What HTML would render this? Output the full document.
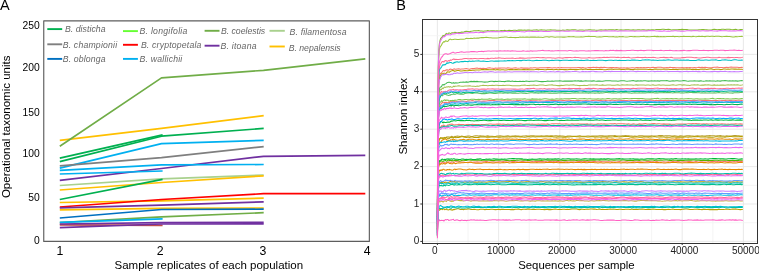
<!DOCTYPE html><html><head><meta charset="utf-8"><style>html,body{margin:0;padding:0;background:#fff;}svg{display:block;will-change:transform;font-family:"Liberation Sans",sans-serif;}</style></head><body>
<svg width="759" height="272" viewBox="0 0 759 272">
<rect width="759" height="272" fill="#fff"/>
<text x="-0.1" y="10.4" font-size="14.5" fill="#000">A</text>
<text x="396.3" y="10.4" font-size="14.5" fill="#000">B</text>
<rect x="43.75" y="20.8" width="325.6" height="220.6" fill="none" stroke="#5e5e5e" stroke-width="1.15" stroke-linejoin="round"/>
<path d="M59.8 185.5 L161.5 178.8 L263.7 175" fill="none" stroke="#A9D18E" stroke-width="1.7" stroke-linejoin="round"/>
<path d="M59.8 190 L161.5 182.5 L263.7 175.8" fill="none" stroke="#FFC000" stroke-width="1.7" stroke-linejoin="round"/>
<path d="M59.8 199.5 L162.6 179.3" fill="none" stroke="#00B050" stroke-width="1.7" stroke-linejoin="round"/>
<path d="M59.8 202.5 L161.5 200.8 L263.7 198.2" fill="none" stroke="#FFC000" stroke-width="1.7" stroke-linejoin="round"/>
<path d="M59.8 207 L161.5 199.5 L263.5 193.7 L365.3 193.7" fill="none" stroke="#FF0000" stroke-width="1.7" stroke-linejoin="round"/>
<path d="M59.8 207.8 L161.5 205.2 L263.7 201.8" fill="none" stroke="#7030A0" stroke-width="1.7" stroke-linejoin="round"/>
<path d="M59.8 209.8 L161.5 208.3 L263.7 208" fill="none" stroke="#FFC000" stroke-width="1.7" stroke-linejoin="round"/>
<path d="M59.8 218 L161.5 209.5 L263.7 209.2" fill="none" stroke="#0070C0" stroke-width="1.7" stroke-linejoin="round"/>
<path d="M59.8 222.5 L161.5 216.8 L263.7 212.7" fill="none" stroke="#70AD47" stroke-width="1.7" stroke-linejoin="round"/>
<path d="M59.8 222.4 L162.6 218.9" fill="none" stroke="#00B0F0" stroke-width="1.7" stroke-linejoin="round"/>
<path d="M59.8 224.9 L162.6 225.3" fill="none" stroke="#C0504D" stroke-width="1.7" stroke-linejoin="round"/>
<path d="M59.8 224 L161.5 222.6 L263.7 222.4" fill="none" stroke="#7030A0" stroke-width="1.7" stroke-linejoin="round"/>
<path d="M59.8 227.7 L161.5 224 L263.7 223.9" fill="none" stroke="#7030A0" stroke-width="1.7" stroke-linejoin="round"/>
<path d="M59.8 180.4 L161.5 168.5 L263.5 156.3 L365.3 155.3" fill="none" stroke="#7030A0" stroke-width="1.7" stroke-linejoin="round"/>
<path d="M59.8 174 L162.6 171" fill="none" stroke="#00B0F0" stroke-width="1.7" stroke-linejoin="round"/>
<path d="M59.8 170.3 L161.5 164.8 L263.7 164.5" fill="none" stroke="#00B0F0" stroke-width="1.7" stroke-linejoin="round"/>
<path d="M59.8 168.2 L161.5 143.7 L263.7 140.4" fill="none" stroke="#00B0F0" stroke-width="1.7" stroke-linejoin="round"/>
<path d="M59.8 165.8 L161.5 157.6 L263.7 146.6" fill="none" stroke="#7F7F7F" stroke-width="1.7" stroke-linejoin="round"/>
<path d="M59.8 158.2 L162.6 134.9" fill="none" stroke="#00B050" stroke-width="1.7" stroke-linejoin="round"/>
<path d="M59.8 161.6 L161.5 136.2 L263.7 128.4" fill="none" stroke="#00B050" stroke-width="1.7" stroke-linejoin="round"/>
<path d="M59.8 140.3 L161.5 128.4 L263.7 115.7" fill="none" stroke="#FFC000" stroke-width="1.7" stroke-linejoin="round"/>
<path d="M59.8 146.3 L161.5 77.9 L263.5 70.3 L365.3 58.8" fill="none" stroke="#70AD47" stroke-width="1.7" stroke-linejoin="round"/>
<text x="39.7" y="29.2" font-size="10.3" text-anchor="end" fill="#000">250</text>
<text x="39.7" y="71.1" font-size="10.3" text-anchor="end" fill="#000">200</text>
<text x="39.7" y="116" font-size="10.3" text-anchor="end" fill="#000">150</text>
<text x="39.7" y="157.1" font-size="10.3" text-anchor="end" fill="#000">100</text>
<text x="39.7" y="201.1" font-size="10.3" text-anchor="end" fill="#000">50</text>
<text x="39.7" y="243.8" font-size="10.3" text-anchor="end" fill="#000">0</text>
<text x="59.9" y="255" font-size="12.3" text-anchor="middle" fill="#000">1</text>
<text x="160.1" y="255" font-size="12.3" text-anchor="middle" fill="#000">2</text>
<text x="262.9" y="255" font-size="12.3" text-anchor="middle" fill="#000">3</text>
<text x="367.1" y="255" font-size="12.3" text-anchor="middle" fill="#000">4</text>
<text x="208.8" y="268.9" font-size="11.5" text-anchor="middle" fill="#000">Sample replicates of each population</text>
<text transform="translate(10.4 126.8) rotate(-90)" font-size="11.5" text-anchor="middle" fill="#000">Operational taxonomic units</text>
<line x1="47.3" y1="29.1" x2="62.2" y2="29.1" stroke="#00B050" stroke-width="1.9"/>
<text x="64.9" y="32.4" font-size="8.7" font-style="italic" fill="#666" textLength="40.7" lengthAdjust="spacing">B. disticha</text>
<line x1="123" y1="31.1" x2="137.9" y2="31.1" stroke="#66FF33" stroke-width="1.9"/>
<text x="139.6" y="34.4" font-size="8.7" font-style="italic" fill="#666" textLength="47.7" lengthAdjust="spacing">B. longifolia</text>
<line x1="204.6" y1="30.8" x2="219.5" y2="30.8" stroke="#70AD47" stroke-width="1.9"/>
<text x="220.89999999999998" y="34.1" font-size="8.7" font-style="italic" fill="#666" textLength="44.3" lengthAdjust="spacing">B. coelestis</text>
<line x1="269.5" y1="30.8" x2="284.8" y2="30.8" stroke="#A9D18E" stroke-width="1.9"/>
<text x="289.59999999999997" y="34.5" font-size="8.7" font-style="italic" fill="#666" textLength="56.9" lengthAdjust="spacing">B. filamentosa</text>
<line x1="47.3" y1="44.3" x2="62.2" y2="44.3" stroke="#7F7F7F" stroke-width="1.9"/>
<text x="62.7" y="47.6" font-size="8.7" font-style="italic" fill="#666" textLength="54.4" lengthAdjust="spacing">B. championii</text>
<line x1="123" y1="44.8" x2="137.9" y2="44.8" stroke="#FF0000" stroke-width="1.9"/>
<text x="140.89999999999998" y="48.1" font-size="8.7" font-style="italic" fill="#666" textLength="60.5" lengthAdjust="spacing">B. cryptopetala</text>
<line x1="204.6" y1="45.7" x2="219.5" y2="45.7" stroke="#7030A0" stroke-width="1.9"/>
<text x="220.39999999999998" y="49" font-size="8.7" font-style="italic" fill="#666" textLength="36.2" lengthAdjust="spacing">B. itoana</text>
<line x1="269.5" y1="46.5" x2="284.8" y2="46.5" stroke="#FFC000" stroke-width="1.9"/>
<text x="288.7" y="50.8" font-size="8.7" font-style="italic" fill="#666" textLength="52" lengthAdjust="spacing">B. nepalensis</text>
<line x1="47.3" y1="58.9" x2="62.2" y2="58.9" stroke="#0070C0" stroke-width="1.9"/>
<text x="62.7" y="62.2" font-size="8.7" font-style="italic" fill="#666" textLength="42.9" lengthAdjust="spacing">B. oblonga</text>
<line x1="123" y1="58.9" x2="137.9" y2="58.9" stroke="#00B0F0" stroke-width="1.9"/>
<text x="139.6" y="62.2" font-size="8.7" font-style="italic" fill="#666" textLength="42.7" lengthAdjust="spacing">B. wallichii</text>
<line x1="437.4" y1="20" x2="437.4" y2="243" stroke="#e3e3e3" stroke-width="0.8"/>
<line x1="468" y1="20" x2="468" y2="243" stroke="#f1f1f1" stroke-width="0.8"/>
<line x1="498.6" y1="20" x2="498.6" y2="243" stroke="#e3e3e3" stroke-width="0.8"/>
<line x1="529.2" y1="20" x2="529.2" y2="243" stroke="#f1f1f1" stroke-width="0.8"/>
<line x1="559.8" y1="20" x2="559.8" y2="243" stroke="#e3e3e3" stroke-width="0.8"/>
<line x1="590.4" y1="20" x2="590.4" y2="243" stroke="#f1f1f1" stroke-width="0.8"/>
<line x1="621" y1="20" x2="621" y2="243" stroke="#e3e3e3" stroke-width="0.8"/>
<line x1="651.6" y1="20" x2="651.6" y2="243" stroke="#f1f1f1" stroke-width="0.8"/>
<line x1="682.2" y1="20" x2="682.2" y2="243" stroke="#e3e3e3" stroke-width="0.8"/>
<line x1="712.8" y1="20" x2="712.8" y2="243" stroke="#f1f1f1" stroke-width="0.8"/>
<line x1="743.4" y1="20" x2="743.4" y2="243" stroke="#e3e3e3" stroke-width="0.8"/>
<line x1="422" y1="241.4" x2="757.5" y2="241.4" stroke="#e3e3e3" stroke-width="0.8"/>
<line x1="422" y1="222.7" x2="757.5" y2="222.7" stroke="#f1f1f1" stroke-width="0.8"/>
<line x1="422" y1="204" x2="757.5" y2="204" stroke="#e3e3e3" stroke-width="0.8"/>
<line x1="422" y1="185.3" x2="757.5" y2="185.3" stroke="#f1f1f1" stroke-width="0.8"/>
<line x1="422" y1="166.6" x2="757.5" y2="166.6" stroke="#e3e3e3" stroke-width="0.8"/>
<line x1="422" y1="147.9" x2="757.5" y2="147.9" stroke="#f1f1f1" stroke-width="0.8"/>
<line x1="422" y1="129.2" x2="757.5" y2="129.2" stroke="#e3e3e3" stroke-width="0.8"/>
<line x1="422" y1="110.5" x2="757.5" y2="110.5" stroke="#f1f1f1" stroke-width="0.8"/>
<line x1="422" y1="91.8" x2="757.5" y2="91.8" stroke="#e3e3e3" stroke-width="0.8"/>
<line x1="422" y1="73.1" x2="757.5" y2="73.1" stroke="#f1f1f1" stroke-width="0.8"/>
<line x1="422" y1="54.4" x2="757.5" y2="54.4" stroke="#e3e3e3" stroke-width="0.8"/>
<line x1="422" y1="35.7" x2="757.5" y2="35.7" stroke="#f1f1f1" stroke-width="0.8"/>
<path d="M437.4 216.7 L437.5 194.9 L437.6 162.9 L437.8 129.6 L438 103.9 L438.3 84.9 L438.8 72.8 L439.3 67.9 L440 64.8 L440.7 63.8 L441.5 62.4 L442.3 61.6 L443.1 61.5 L443.9 62 L444.7 61 L445.5 60.6 L446.3 60.8 L447.1 61.3 L447.9 61 L448.7 60.6 L449.5 61 L450.3 60 L451.1 60.4 L451.9 59.9 L452.7 59.4 L453.4 59.1 L454.2 59.1 L455 59.7 L455.7 59.2 L457.2 59.4 L458.8 59.4 L460.3 59.2 L461.8 59.2 L463.4 58.7 L464.9 58.4 L466.4 58.4 L468 58.7 L469.5 58.7 L471 58.6 L472.5 58.7 L474.1 58.6 L475.6 58.5 L477.1 58.7 L478.7 58.7 L480.2 58.5 L481.7 58.5 L483.3 58.5 L484.8 58.7 L486.3 58.7 L487.8 58.4 L489.4 58.7 L490.9 58.3 L492.4 58.2 L494 58.4 L495.5 58.1 L497 58.2 L498.6 57.9 L500.1 58.1 L501.6 58.3 L503.2 58.3 L504.7 58.4 L506.2 58.2 L507.7 58.3 L509.3 58.2 L510.8 58.2 L512.3 58.1 L513.9 58.3 L515.4 58.4 L516.9 58.2 L518.5 58.2 L520 57.9 L521.5 58.1 L523 58.1 L524.6 58.3 L526.1 58.3 L527.6 58.1 L529.2 58 L530.7 58 L532.2 57.8 L533.8 57.8 L535.3 57.7 L536.8 57.6 L538.3 57.5 L539.9 57.8 L541.4 57.7 L542.9 57.6 L544.5 57.7 L546 58 L547.5 57.7 L549.1 57.7 L550.6 57.8 L552.1 58 L553.6 58.1 L555.2 58.2 L556.7 57.9 L558.2 57.8 L559.8 57.7 L561.3 58 L562.8 58.1 L564.4 57.8 L565.9 57.6 L567.4 57.6 L569 57.5 L570.5 57.6 L572 57.7 L573.5 57.6 L575.1 57.4 L576.6 57.5 L578.1 57.6 L579.7 57.7 L581.2 57.9 L582.7 57.9 L584.3 57.9 L585.8 57.9 L587.3 57.9 L588.8 57.6 L590.4 57.8 L591.9 57.9 L593.4 58 L595 58 L596.5 57.8 L598 57.7 L599.6 57.5 L601.1 57.7 L602.6 57.5 L604.1 57.3 L605.7 57.4 L607.2 57.3 L608.7 57.4 L610.3 57.3 L611.8 57.2 L613.3 57.2 L614.9 57.2 L616.4 57.4 L617.9 57.3 L619.4 57.6 L621 57.7 L622.5 57.5 L624 57.4 L625.6 57.5 L627.1 57.5 L628.6 57.4 L630.2 57.7 L631.7 57.9 L633.2 57.8 L634.8 57.7 L636.3 57.5 L637.8 57.3 L639.3 57.4 L640.9 57.4 L642.4 57.6 L643.9 57.5 L645.5 57.3 L647 57.7 L648.5 57.6 L650.1 57.5 L651.6 57.5 L653.1 57.3 L654.6 57.5 L656.2 57.8 L657.7 57.9 L659.2 57.8 L660.8 57.6 L662.3 57.5 L663.8 57.4 L665.4 57.6 L666.9 57.6 L668.4 57.7 L669.9 57.6 L671.5 57.4 L673 57.7 L674.5 57.9 L676.1 57.9 L677.6 57.9 L679.1 57.9 L680.7 57.9 L682.2 57.6 L683.7 57.6 L685.3 57.5 L686.8 57.3 L688.3 57.2 L689.8 57.2 L691.4 57.3 L692.9 57.5 L694.4 57.7 L696 57.6 L697.5 57.8 L699 57.9 L700.6 58 L702.1 57.7 L703.6 57.5 L705.1 57.4 L706.7 57.3 L708.2 57.3 L709.7 57.4 L711.3 57.7 L712.8 57.8 L714.3 57.7 L715.9 57.7 L717.4 57.8 L718.9 57.4 L720.4 57.6 L722 57.7 L723.5 57.8 L725 57.8 L726.6 57.7 L728.1 57.4 L729.6 57.6 L731.2 57.5 L732.7 57.6 L734.2 57.8 L735.7 57.6 L737.3 57.5 L738.8 57.7 L740.3 57.7 L741.9 57.5 L742.8 57.3" fill="none" stroke="#FF6C91" stroke-width="1.05"/>
<path d="M437.4 220.2 L437.5 202.7 L437.6 175.1 L437.8 146.2 L438 124.9 L438.3 110.2 L438.8 100.9 L439.3 96.1 L440 94.3 L440.7 92.6 L441.5 91.4 L442.3 92.2 L443.1 92 L443.9 91.6 L444.7 91.9 L445.5 91.3 L446.3 91.5 L447.1 91.5 L447.9 90.6 L448.7 90.2 L449.5 89.9 L450.3 89.7 L451.1 90 L451.9 89.7 L452.7 89.7 L453.4 89.4 L454.2 90.1 L455 89.8 L455.7 89.8 L457.2 89.8 L458.8 90.1 L460.3 89.8 L461.8 90 L463.4 89.8 L464.9 89.6 L466.4 89.5 L468 89.1 L469.5 89.1 L471 89 L472.5 88.7 L474.1 89.2 L475.6 89 L477.1 89 L478.7 89.2 L480.2 89.2 L481.7 89.1 L483.3 89.1 L484.8 89.1 L486.3 89.3 L487.8 88.9 L489.4 89 L490.9 88.9 L492.4 88.8 L494 89.1 L495.5 89 L497 89 L498.6 89.1 L500.1 89.3 L501.6 89.1 L503.2 89.1 L504.7 89 L506.2 89 L507.7 89 L509.3 89 L510.8 88.9 L512.3 88.9 L513.9 89.1 L515.4 89.1 L516.9 89.2 L518.5 89.3 L520 88.9 L521.5 88.9 L523 89.1 L524.6 89.2 L526.1 88.8 L527.6 88.6 L529.2 88.7 L530.7 88.5 L532.2 88.5 L533.8 88.4 L535.3 88.7 L536.8 88.9 L538.3 89 L539.9 88.7 L541.4 88.8 L542.9 88.9 L544.5 88.6 L546 88.9 L547.5 89.1 L549.1 88.8 L550.6 89 L552.1 88.8 L553.6 88.8 L555.2 89 L556.7 89 L558.2 88.7 L559.8 88.7 L561.3 88.7 L562.8 88.6 L564.4 88.5 L565.9 88.5 L567.4 88.7 L569 88.4 L570.5 88.6 L572 88.6 L573.5 88.4 L575.1 88.4 L576.6 88.6 L578.1 88.6 L579.7 88.4 L581.2 88.8 L582.7 88.9 L584.3 89 L585.8 88.6 L587.3 88.5 L588.8 88.4 L590.4 88.6 L591.9 88.5 L593.4 88.4 L595 88.5 L596.5 88.7 L598 88.9 L599.6 88.6 L601.1 88.5 L602.6 88.7 L604.1 88.7 L605.7 88.8 L607.2 88.5 L608.7 88.3 L610.3 88.6 L611.8 88.5 L613.3 88.4 L614.9 88.7 L616.4 88.7 L617.9 88.8 L619.4 88.5 L621 88.7 L622.5 88.5 L624 88.7 L625.6 88.6 L627.1 88.5 L628.6 88.6 L630.2 88.8 L631.7 88.6 L633.2 88.4 L634.8 88.5 L636.3 88.4 L637.8 88.3 L639.3 88.2 L640.9 88.2 L642.4 88.2 L643.9 88.3 L645.5 88.3 L647 88.6 L648.5 88.5 L650.1 88.5 L651.6 88.4 L653.1 88.4 L654.6 88.2 L656.2 88.2 L657.7 88.1 L659.2 88.4 L660.8 88.5 L662.3 88.4 L663.8 88.4 L665.4 88.7 L666.9 88.4 L668.4 88.7 L669.9 88.6 L671.5 88.6 L673 88.7 L674.5 88.6 L676.1 88.6 L677.6 88.7 L679.1 88.8 L680.7 88.6 L682.2 88.8 L683.7 88.8 L685.3 88.7 L686.8 88.6 L688.3 88.5 L689.8 88.3 L691.4 88.2 L692.9 88.1 L694.4 88.4 L696 88.4 L697.5 88.3 L699 88.2 L700.6 88.5 L702.1 88.7 L703.6 88.7 L705.1 88.5 L706.7 88.4 L708.2 88.3 L709.7 88.4 L711.3 88.3 L712.8 88.4 L714.3 88.3 L715.9 88.6 L717.4 88.8 L718.9 88.7 L720.4 88.5 L722 88.7 L723.5 88.5 L725 88.5 L726.6 88.2 L728.1 88.3 L729.6 88.4 L731.2 88.4 L732.7 88.3 L734.2 88.4 L735.7 88.2 L737.3 88.2 L738.8 88.1 L740.3 88.3 L741.9 88.1 L742.8 88.1" fill="none" stroke="#FF6C91" stroke-width="1.05"/>
<path d="M437.4 231.5 L437.5 222.4 L437.6 209.7 L437.8 196.9 L438 187.4 L438.3 181.3 L438.8 178 L439.3 177 L440 175.9 L440.7 175.2 L441.5 176 L442.3 175 L443.1 175.3 L443.9 175.4 L444.7 174.5 L445.5 175.2 L446.3 175.6 L447.1 175.5 L447.9 175.5 L448.7 175.6 L449.5 174.8 L450.3 174.9 L451.1 174.9 L451.9 175.2 L452.7 175.4 L453.4 175.5 L454.2 175.3 L455 175.5 L455.7 175.4 L457.2 175.3 L458.8 174.8 L460.3 174.3 L461.8 174.2 L463.4 174.3 L464.9 174.2 L466.4 174.7 L468 174.8 L469.5 174.8 L471 174.9 L472.5 174.9 L474.1 174.8 L475.6 174.4 L477.1 174.8 L478.7 174.9 L480.2 174.8 L481.7 174.8 L483.3 174.8 L484.8 174.5 L486.3 174.7 L487.8 174.6 L489.4 174.4 L490.9 174.4 L492.4 174.6 L494 174.5 L495.5 174.7 L497 175 L498.6 174.8 L500.1 174.7 L501.6 174.7 L503.2 174.8 L504.7 174.9 L506.2 174.8 L507.7 174.8 L509.3 174.5 L510.8 174.4 L512.3 174.4 L513.9 174.6 L515.4 174.5 L516.9 174.6 L518.5 174.4 L520 174.3 L521.5 174.3 L523 174.6 L524.6 174.7 L526.1 174.8 L527.6 174.6 L529.2 174.6 L530.7 174.6 L532.2 174.6 L533.8 174.4 L535.3 174.7 L536.8 174.5 L538.3 174.8 L539.9 175 L541.4 174.6 L542.9 174.6 L544.5 174.8 L546 174.9 L547.5 174.8 L549.1 174.6 L550.6 174.5 L552.1 174.8 L553.6 174.6 L555.2 174.6 L556.7 174.5 L558.2 174.5 L559.8 174.8 L561.3 174.5 L562.8 174.7 L564.4 174.7 L565.9 174.9 L567.4 174.9 L569 174.6 L570.5 174.8 L572 174.7 L573.5 174.4 L575.1 174.3 L576.6 174.4 L578.1 174.5 L579.7 174.5 L581.2 174.3 L582.7 174.4 L584.3 174.4 L585.8 174.7 L587.3 174.4 L588.8 174.6 L590.4 174.8 L591.9 174.5 L593.4 174.8 L595 174.8 L596.5 174.9 L598 174.7 L599.6 174.6 L601.1 174.6 L602.6 174.8 L604.1 174.8 L605.7 174.6 L607.2 174.6 L608.7 174.5 L610.3 174.3 L611.8 174.3 L613.3 174.6 L614.9 174.5 L616.4 174.8 L617.9 174.6 L619.4 174.5 L621 174.5 L622.5 174.4 L624 174.4 L625.6 174.7 L627.1 174.9 L628.6 174.9 L630.2 174.8 L631.7 174.9 L633.2 175 L634.8 174.9 L636.3 174.9 L637.8 174.5 L639.3 174.7 L640.9 174.6 L642.4 174.7 L643.9 174.8 L645.5 174.6 L647 174.4 L648.5 174.7 L650.1 174.5 L651.6 174.5 L653.1 174.5 L654.6 174.4 L656.2 174.6 L657.7 174.9 L659.2 174.6 L660.8 174.7 L662.3 174.6 L663.8 174.6 L665.4 174.6 L666.9 174.4 L668.4 174.3 L669.9 174.3 L671.5 174.6 L673 174.6 L674.5 174.5 L676.1 174.7 L677.6 174.9 L679.1 174.8 L680.7 174.5 L682.2 174.4 L683.7 174.3 L685.3 174.4 L686.8 174.3 L688.3 174.3 L689.8 174.3 L691.4 174.5 L692.9 174.7 L694.4 174.8 L696 174.7 L697.5 174.6 L699 174.6 L700.6 174.5 L702.1 174.5 L703.6 174.3 L705.1 174.3 L706.7 174.7 L708.2 174.5 L709.7 174.5 L711.3 174.6 L712.8 174.8 L714.3 174.6 L715.9 174.5 L717.4 174.4 L718.9 174.4 L720.4 174.5 L722 174.8 L723.5 174.9 L725 174.9 L726.6 174.5 L728.1 174.3 L729.6 174.6 L731.2 174.8 L732.7 174.7 L734.2 174.7 L735.7 174.4 L737.3 174.4 L738.8 174.7 L740.3 174.8 L741.9 174.9 L742.8 175" fill="none" stroke="#FF6C91" stroke-width="1.05"/>
<path d="M437.4 234.7 L437.5 228.1 L437.6 219 L437.8 210.9 L438 204.9 L438.3 201.7 L438.8 199.5 L439.3 198.6 L440 198.4 L440.7 197.9 L441.5 197.7 L442.3 196.8 L443.1 197.5 L443.9 197 L444.7 197.8 L445.5 197.8 L446.3 197.3 L447.1 196.8 L447.9 196.7 L448.7 197.1 L449.5 197.5 L450.3 196.9 L451.1 196.6 L451.9 196.9 L452.7 197.2 L453.4 197.1 L454.2 196.9 L455 197.2 L455.7 196.7 L457.2 196.8 L458.8 196.9 L460.3 197.5 L461.8 197.5 L463.4 197.7 L464.9 197.5 L466.4 197.2 L468 197 L469.5 197.5 L471 197.5 L472.5 197.3 L474.1 196.9 L475.6 197.1 L477.1 197.3 L478.7 197.2 L480.2 197.1 L481.7 197.2 L483.3 197.5 L484.8 197.2 L486.3 196.9 L487.8 197 L489.4 197 L490.9 197.2 L492.4 197.1 L494 197.3 L495.5 197.4 L497 197.3 L498.6 197.1 L500.1 197.4 L501.6 197.2 L503.2 197.4 L504.7 197.2 L506.2 197 L507.7 197.3 L509.3 197.1 L510.8 197.4 L512.3 197.3 L513.9 197.1 L515.4 197 L516.9 197.1 L518.5 197.2 L520 197.5 L521.5 197.2 L523 197.1 L524.6 197 L526.1 197.4 L527.6 197.1 L529.2 196.9 L530.7 196.8 L532.2 197 L533.8 197.3 L535.3 197.4 L536.8 197.5 L538.3 197.6 L539.9 197.6 L541.4 197.4 L542.9 197.1 L544.5 197.4 L546 197.4 L547.5 197.1 L549.1 197.2 L550.6 197.2 L552.1 197.1 L553.6 197.1 L555.2 197 L556.7 196.8 L558.2 196.9 L559.8 197 L561.3 197.3 L562.8 197.1 L564.4 197.4 L565.9 197.2 L567.4 197.1 L569 197.3 L570.5 197.4 L572 197.3 L573.5 197 L575.1 197.1 L576.6 197.1 L578.1 197.4 L579.7 197.1 L581.2 197.1 L582.7 197.3 L584.3 197.1 L585.8 197.1 L587.3 197.3 L588.8 197.4 L590.4 197.1 L591.9 196.9 L593.4 196.8 L595 197.2 L596.5 197.1 L598 197.3 L599.6 197.4 L601.1 197.3 L602.6 197.1 L604.1 197.4 L605.7 197.4 L607.2 197.2 L608.7 197.3 L610.3 197.2 L611.8 197.1 L613.3 196.9 L614.9 197.2 L616.4 197.4 L617.9 197.4 L619.4 197.5 L621 197.1 L622.5 197 L624 197.1 L625.6 197.4 L627.1 197.5 L628.6 197.3 L630.2 197.1 L631.7 197.1 L633.2 197.2 L634.8 197.4 L636.3 197.2 L637.8 197.3 L639.3 197.4 L640.9 197.5 L642.4 197.5 L643.9 197.4 L645.5 197.2 L647 197.1 L648.5 197.1 L650.1 197.3 L651.6 197 L653.1 197 L654.6 197.2 L656.2 197.1 L657.7 196.9 L659.2 196.8 L660.8 197 L662.3 197 L663.8 197.3 L665.4 197.5 L666.9 197.6 L668.4 197.3 L669.9 197 L671.5 196.9 L673 197 L674.5 197.2 L676.1 197.2 L677.6 197.1 L679.1 197.1 L680.7 197.2 L682.2 197.3 L683.7 197.4 L685.3 197.5 L686.8 197.4 L688.3 197.1 L689.8 197.3 L691.4 197.2 L692.9 197.2 L694.4 197.1 L696 197.3 L697.5 197.1 L699 197 L700.6 197 L702.1 196.9 L703.6 197.2 L705.1 197.3 L706.7 197.1 L708.2 197.1 L709.7 197.4 L711.3 197.3 L712.8 197.1 L714.3 197.3 L715.9 197.3 L717.4 197.5 L718.9 197.2 L720.4 197.2 L722 197.3 L723.5 197.5 L725 197.5 L726.6 197.2 L728.1 197.1 L729.6 196.9 L731.2 196.9 L732.7 197.3 L734.2 197.3 L735.7 197.5 L737.3 197.3 L738.8 197.4 L740.3 197.3 L741.9 197.1 L742.8 197.3" fill="none" stroke="#FF6C91" stroke-width="1.05"/>
<path d="M437.4 217.8 L437.5 197.5 L437.6 166.6 L437.8 135.8 L438 110.2 L438.3 92.4 L438.8 81.3 L439.3 76.2 L440 73.9 L440.7 73.3 L441.5 72.9 L442.3 71.8 L443.1 70.7 L443.9 70.6 L444.7 70.9 L445.5 70.3 L446.3 70 L447.1 69.7 L447.9 70.3 L448.7 70.2 L449.5 69.5 L450.3 69.1 L451.1 69.2 L451.9 69.4 L452.7 69.6 L453.4 69.1 L454.2 68.8 L455 69.2 L455.7 69.2 L457.2 68.9 L458.8 68.8 L460.3 69.3 L461.8 68.9 L463.4 68.9 L464.9 68.7 L466.4 68.6 L468 68.9 L469.5 69.2 L471 68.8 L472.5 68.5 L474.1 68.6 L475.6 68.3 L477.1 68 L478.7 68.5 L480.2 68.4 L481.7 68.6 L483.3 68.4 L484.8 68.6 L486.3 68.4 L487.8 68.1 L489.4 67.9 L490.9 68.1 L492.4 68.2 L494 68.4 L495.5 68.1 L497 68.2 L498.6 68.1 L500.1 68.1 L501.6 67.9 L503.2 67.9 L504.7 68 L506.2 68.2 L507.7 67.9 L509.3 68 L510.8 68.2 L512.3 68.3 L513.9 68 L515.4 67.8 L516.9 68.1 L518.5 68.3 L520 68.1 L521.5 67.8 L523 68.1 L524.6 68 L526.1 68.1 L527.6 68.1 L529.2 68.2 L530.7 67.9 L532.2 68 L533.8 67.8 L535.3 67.8 L536.8 68 L538.3 68.1 L539.9 67.8 L541.4 67.7 L542.9 67.7 L544.5 67.8 L546 67.7 L547.5 67.6 L549.1 67.6 L550.6 67.8 L552.1 68 L553.6 67.7 L555.2 67.8 L556.7 67.9 L558.2 67.6 L559.8 67.9 L561.3 67.6 L562.8 67.7 L564.4 67.8 L565.9 67.8 L567.4 67.7 L569 67.7 L570.5 67.8 L572 67.7 L573.5 67.8 L575.1 67.7 L576.6 67.7 L578.1 67.5 L579.7 67.6 L581.2 67.7 L582.7 67.6 L584.3 67.8 L585.8 67.9 L587.3 67.8 L588.8 67.6 L590.4 67.6 L591.9 67.5 L593.4 67.4 L595 67.5 L596.5 67.4 L598 67.5 L599.6 67.6 L601.1 67.4 L602.6 67.6 L604.1 67.4 L605.7 67.6 L607.2 67.8 L608.7 67.7 L610.3 67.5 L611.8 67.6 L613.3 67.5 L614.9 67.8 L616.4 67.6 L617.9 67.8 L619.4 68 L621 67.9 L622.5 68 L624 67.7 L625.6 67.9 L627.1 67.8 L628.6 67.9 L630.2 68 L631.7 67.7 L633.2 67.8 L634.8 67.9 L636.3 67.6 L637.8 67.5 L639.3 67.7 L640.9 67.5 L642.4 67.7 L643.9 67.6 L645.5 67.7 L647 67.5 L648.5 67.5 L650.1 67.8 L651.6 67.5 L653.1 67.4 L654.6 67.5 L656.2 67.5 L657.7 67.3 L659.2 67.3 L660.8 67.2 L662.3 67.6 L663.8 67.7 L665.4 67.8 L666.9 67.5 L668.4 67.7 L669.9 67.4 L671.5 67.5 L673 67.6 L674.5 67.5 L676.1 67.7 L677.6 67.7 L679.1 67.7 L680.7 67.8 L682.2 67.5 L683.7 67.8 L685.3 67.7 L686.8 67.6 L688.3 67.7 L689.8 67.5 L691.4 67.8 L692.9 67.7 L694.4 67.6 L696 67.7 L697.5 67.6 L699 67.4 L700.6 67.6 L702.1 67.3 L703.6 67.6 L705.1 67.4 L706.7 67.5 L708.2 67.8 L709.7 67.7 L711.3 67.7 L712.8 67.5 L714.3 67.3 L715.9 67.2 L717.4 67.1 L718.9 67.4 L720.4 67.4 L722 67.5 L723.5 67.7 L725 67.4 L726.6 67.3 L728.1 67.5 L729.6 67.3 L731.2 67.1 L732.7 67.2 L734.2 67.2 L735.7 67.2 L737.3 67.2 L738.8 67.4 L740.3 67.5 L741.9 67.3 L742.8 67.5" fill="none" stroke="#F8766D" stroke-width="1.05"/>
<path d="M437.4 221.7 L437.5 204.2 L437.6 179.3 L437.8 152.6 L438 131.6 L438.3 117.2 L438.8 109.8 L439.3 107 L440 105.8 L440.7 104.5 L441.5 103.4 L442.3 102.4 L443.1 102.7 L443.9 102.7 L444.7 102.4 L445.5 102.5 L446.3 102.3 L447.1 102.8 L447.9 102.7 L448.7 102 L449.5 102.5 L450.3 101.6 L451.1 101.7 L451.9 101.6 L452.7 101.3 L453.4 100.9 L454.2 101.5 L455 101 L455.7 101.3 L457.2 101.8 L458.8 101.2 L460.3 101 L461.8 101.2 L463.4 101.2 L464.9 101.3 L466.4 101.5 L468 101.1 L469.5 100.9 L471 100.8 L472.5 100.6 L474.1 101.1 L475.6 101.2 L477.1 101.3 L478.7 100.8 L480.2 101.1 L481.7 101.2 L483.3 101 L484.8 101.1 L486.3 101 L487.8 100.8 L489.4 100.6 L490.9 100.5 L492.4 100.4 L494 100.5 L495.5 100.8 L497 100.9 L498.6 101 L500.1 101 L501.6 100.8 L503.2 100.8 L504.7 100.7 L506.2 100.9 L507.7 100.8 L509.3 100.7 L510.8 100.8 L512.3 101 L513.9 100.7 L515.4 100.9 L516.9 100.6 L518.5 100.5 L520 100.4 L521.5 100.7 L523 100.9 L524.6 100.9 L526.1 100.7 L527.6 100.9 L529.2 100.7 L530.7 100.5 L532.2 100.8 L533.8 100.8 L535.3 100.8 L536.8 100.8 L538.3 101 L539.9 100.8 L541.4 100.9 L542.9 100.9 L544.5 100.9 L546 100.7 L547.5 100.8 L549.1 100.7 L550.6 100.6 L552.1 100.4 L553.6 100.6 L555.2 100.4 L556.7 100.7 L558.2 100.4 L559.8 100.3 L561.3 100.2 L562.8 100.6 L564.4 100.5 L565.9 100.3 L567.4 100.2 L569 100.1 L570.5 100.4 L572 100.5 L573.5 100.6 L575.1 100.7 L576.6 100.4 L578.1 100.5 L579.7 100.5 L581.2 100.7 L582.7 100.8 L584.3 100.8 L585.8 100.5 L587.3 100.7 L588.8 100.8 L590.4 100.9 L591.9 100.5 L593.4 100.4 L595 100.2 L596.5 100.1 L598 100.5 L599.6 100.6 L601.1 100.6 L602.6 100.7 L604.1 100.7 L605.7 100.5 L607.2 100.3 L608.7 100.2 L610.3 100.5 L611.8 100.3 L613.3 100.3 L614.9 100.4 L616.4 100.2 L617.9 100.2 L619.4 100.2 L621 100.4 L622.5 100.4 L624 100.3 L625.6 100.6 L627.1 100.6 L628.6 100.7 L630.2 100.7 L631.7 100.3 L633.2 100.4 L634.8 100.4 L636.3 100.6 L637.8 100.4 L639.3 100.6 L640.9 100.5 L642.4 100.4 L643.9 100.6 L645.5 100.3 L647 100.5 L648.5 100.3 L650.1 100.1 L651.6 100.1 L653.1 100.4 L654.6 100.7 L656.2 100.3 L657.7 100.4 L659.2 100.4 L660.8 100.6 L662.3 100.4 L663.8 100.4 L665.4 100.3 L666.9 100.6 L668.4 100.4 L669.9 100.6 L671.5 100.4 L673 100.3 L674.5 100.5 L676.1 100.4 L677.6 100.2 L679.1 100.4 L680.7 100.2 L682.2 100.5 L683.7 100.5 L685.3 100.6 L686.8 100.6 L688.3 100.5 L689.8 100.4 L691.4 100.4 L692.9 100.6 L694.4 100.3 L696 100.6 L697.5 100.3 L699 100.2 L700.6 100.2 L702.1 100.5 L703.6 100.5 L705.1 100.4 L706.7 100.6 L708.2 100.4 L709.7 100.4 L711.3 100.4 L712.8 100.5 L714.3 100.6 L715.9 100.6 L717.4 100.4 L718.9 100.3 L720.4 100.2 L722 100.5 L723.5 100.5 L725 100.6 L726.6 100.3 L728.1 100.3 L729.6 100.5 L731.2 100.5 L732.7 100.3 L734.2 100.3 L735.7 100.5 L737.3 100.3 L738.8 100.2 L740.3 100.2 L741.9 100.4 L742.8 100.6" fill="none" stroke="#F8766D" stroke-width="1.05"/>
<path d="M437.4 224.6 L437.5 209.3 L437.6 187.1 L437.8 165.2 L438 148.4 L438.3 136.5 L438.8 130.1 L439.3 127.1 L440 127.3 L440.7 127 L441.5 125.7 L442.3 126.4 L443.1 125.3 L443.9 125.1 L444.7 125.9 L445.5 126 L446.3 125.9 L447.1 125.4 L447.9 124.8 L448.7 125 L449.5 124.4 L450.3 124.2 L451.1 124.3 L451.9 124 L452.7 124.2 L453.4 124.7 L454.2 124.9 L455 124.8 L455.7 124.8 L457.2 124.7 L458.8 124.3 L460.3 124.4 L461.8 124.4 L463.4 124.6 L464.9 124.9 L466.4 124.6 L468 124.5 L469.5 124.6 L471 124.4 L472.5 124.2 L474.1 124.4 L475.6 124.6 L477.1 124.6 L478.7 124.6 L480.2 124.7 L481.7 124.6 L483.3 124.5 L484.8 124.4 L486.3 124.2 L487.8 124.3 L489.4 124 L490.9 124 L492.4 124.3 L494 124.3 L495.5 124.3 L497 124.1 L498.6 124.1 L500.1 124.1 L501.6 124.2 L503.2 124.1 L504.7 124.2 L506.2 124.4 L507.7 124.1 L509.3 124.2 L510.8 124.3 L512.3 124.2 L513.9 124.1 L515.4 124.4 L516.9 124 L518.5 124.1 L520 123.9 L521.5 124.1 L523 124.3 L524.6 124.2 L526.1 124 L527.6 124 L529.2 124.1 L530.7 124.2 L532.2 124.1 L533.8 124.2 L535.3 124.3 L536.8 124.2 L538.3 124.1 L539.9 124.3 L541.4 124 L542.9 124.1 L544.5 124 L546 124.2 L547.5 123.9 L549.1 124.2 L550.6 124.1 L552.1 123.8 L553.6 123.8 L555.2 123.8 L556.7 123.7 L558.2 123.8 L559.8 123.8 L561.3 124 L562.8 123.9 L564.4 123.9 L565.9 123.8 L567.4 124 L569 124.2 L570.5 124.1 L572 123.9 L573.5 124.1 L575.1 124 L576.6 123.9 L578.1 123.7 L579.7 124 L581.2 124.1 L582.7 124.1 L584.3 124.1 L585.8 124.1 L587.3 123.9 L588.8 124.2 L590.4 124 L591.9 124.1 L593.4 124.2 L595 124.2 L596.5 124.1 L598 123.9 L599.6 124 L601.1 123.8 L602.6 124 L604.1 123.9 L605.7 124.1 L607.2 123.9 L608.7 123.9 L610.3 123.8 L611.8 123.8 L613.3 123.7 L614.9 123.6 L616.4 123.9 L617.9 123.8 L619.4 123.7 L621 123.7 L622.5 123.8 L624 123.8 L625.6 124 L627.1 124 L628.6 123.9 L630.2 124.2 L631.7 124.2 L633.2 123.9 L634.8 124.1 L636.3 124.2 L637.8 124.2 L639.3 123.9 L640.9 124.1 L642.4 124.1 L643.9 123.8 L645.5 123.6 L647 124 L648.5 124 L650.1 123.9 L651.6 123.7 L653.1 123.6 L654.6 123.6 L656.2 123.9 L657.7 123.8 L659.2 123.7 L660.8 124 L662.3 124.1 L663.8 123.9 L665.4 124.1 L666.9 124.1 L668.4 124.1 L669.9 124.1 L671.5 124.2 L673 124.2 L674.5 124.3 L676.1 124 L677.6 124 L679.1 124 L680.7 124.1 L682.2 124 L683.7 124.1 L685.3 124.1 L686.8 123.9 L688.3 123.8 L689.8 123.7 L691.4 123.8 L692.9 123.6 L694.4 123.7 L696 123.6 L697.5 123.8 L699 123.8 L700.6 123.9 L702.1 124.1 L703.6 123.8 L705.1 124 L706.7 123.9 L708.2 124 L709.7 124 L711.3 124.1 L712.8 124 L714.3 123.9 L715.9 124.1 L717.4 123.8 L718.9 123.9 L720.4 124 L722 123.7 L723.5 123.9 L725 124 L726.6 124.2 L728.1 124 L729.6 124.2 L731.2 124.1 L732.7 124 L734.2 124.1 L735.7 123.8 L737.3 124 L738.8 124 L740.3 123.9 L741.9 124.1 L742.8 123.9" fill="none" stroke="#F8766D" stroke-width="1.05"/>
<path d="M437.4 229.7 L437.5 219.8 L437.6 204.8 L437.8 188.6 L438 176.7 L438.3 169.1 L438.8 165.2 L439.3 164.1 L440 162.9 L440.7 163.3 L441.5 162.7 L442.3 162.6 L443.1 162.1 L443.9 162.2 L444.7 162.9 L445.5 162.8 L446.3 162.9 L447.1 162.4 L447.9 162 L448.7 161.8 L449.5 162 L450.3 162.2 L451.1 162.5 L451.9 161.7 L452.7 162.1 L453.4 162.5 L454.2 162.3 L455 161.7 L455.7 161.6 L457.2 161.3 L458.8 161.3 L460.3 162 L461.8 162 L463.4 162.1 L464.9 162.3 L466.4 162.4 L468 162.3 L469.5 162.2 L471 162.1 L472.5 162.2 L474.1 162.1 L475.6 162.1 L477.1 161.8 L478.7 161.9 L480.2 161.9 L481.7 162 L483.3 161.7 L484.8 161.6 L486.3 161.4 L487.8 161.8 L489.4 162 L490.9 162 L492.4 161.9 L494 162 L495.5 162.1 L497 162 L498.6 161.8 L500.1 161.7 L501.6 161.7 L503.2 161.6 L504.7 161.7 L506.2 161.8 L507.7 162 L509.3 161.7 L510.8 161.8 L512.3 161.5 L513.9 161.4 L515.4 161.8 L516.9 161.8 L518.5 162 L520 161.9 L521.5 161.6 L523 161.6 L524.6 161.7 L526.1 162 L527.6 162.1 L529.2 162 L530.7 161.8 L532.2 161.6 L533.8 161.7 L535.3 161.6 L536.8 161.5 L538.3 161.4 L539.9 161.3 L541.4 161.6 L542.9 161.5 L544.5 161.8 L546 161.6 L547.5 161.9 L549.1 161.6 L550.6 161.4 L552.1 161.7 L553.6 161.6 L555.2 161.8 L556.7 161.6 L558.2 161.4 L559.8 161.7 L561.3 161.8 L562.8 162 L564.4 162 L565.9 161.7 L567.4 161.8 L569 161.9 L570.5 161.8 L572 162 L573.5 161.7 L575.1 162 L576.6 162 L578.1 161.6 L579.7 161.4 L581.2 161.6 L582.7 161.8 L584.3 161.6 L585.8 161.6 L587.3 161.8 L588.8 161.6 L590.4 161.8 L591.9 161.8 L593.4 161.5 L595 161.6 L596.5 161.7 L598 161.7 L599.6 161.8 L601.1 161.6 L602.6 161.8 L604.1 161.7 L605.7 161.8 L607.2 161.8 L608.7 161.7 L610.3 161.7 L611.8 161.8 L613.3 162 L614.9 162 L616.4 161.9 L617.9 161.7 L619.4 161.5 L621 161.8 L622.5 161.9 L624 162 L625.6 161.8 L627.1 161.8 L628.6 162 L630.2 162 L631.7 161.9 L633.2 161.7 L634.8 161.7 L636.3 161.9 L637.8 161.8 L639.3 161.8 L640.9 161.8 L642.4 162 L643.9 162 L645.5 161.8 L647 161.5 L648.5 161.5 L650.1 161.5 L651.6 161.7 L653.1 161.8 L654.6 162 L656.2 161.6 L657.7 161.8 L659.2 161.9 L660.8 162 L662.3 161.9 L663.8 161.7 L665.4 161.9 L666.9 162 L668.4 161.9 L669.9 162 L671.5 161.8 L673 161.6 L674.5 161.7 L676.1 161.8 L677.6 161.6 L679.1 161.8 L680.7 162 L682.2 161.7 L683.7 161.8 L685.3 161.8 L686.8 161.8 L688.3 161.6 L689.8 161.5 L691.4 161.7 L692.9 161.9 L694.4 161.8 L696 161.5 L697.5 161.8 L699 161.9 L700.6 161.7 L702.1 161.7 L703.6 161.9 L705.1 162 L706.7 161.9 L708.2 161.8 L709.7 161.8 L711.3 161.6 L712.8 161.5 L714.3 161.4 L715.9 161.7 L717.4 161.6 L718.9 161.7 L720.4 161.6 L722 161.7 L723.5 161.5 L725 161.4 L726.6 161.8 L728.1 161.7 L729.6 161.5 L731.2 161.7 L732.7 161.8 L734.2 161.6 L735.7 161.7 L737.3 161.6 L738.8 161.7 L740.3 161.4 L741.9 161.3 L742.8 161.7" fill="none" stroke="#F8766D" stroke-width="1.05"/>
<path d="M437.4 226.6 L437.5 214.5 L437.6 194.9 L437.8 174.8 L438 160.4 L438.3 150.3 L438.8 145.5 L439.3 143.3 L440 142.5 L440.7 142.5 L441.5 141.1 L442.3 140 L443.1 139.7 L443.9 139.4 L444.7 139.1 L445.5 138.9 L446.3 139.5 L447.1 140.2 L447.9 140.1 L448.7 140.6 L449.5 140.8 L450.3 139.8 L451.1 139.9 L451.9 139.8 L452.7 139.3 L453.4 140 L454.2 139.6 L455 139.8 L455.7 139.9 L457.2 140.2 L458.8 140.1 L460.3 139.8 L461.8 139.7 L463.4 139.3 L464.9 139.8 L466.4 140.1 L468 139.6 L469.5 139.2 L471 139.2 L472.5 139.2 L474.1 139.6 L475.6 139.8 L477.1 139.9 L478.7 139.4 L480.2 139.6 L481.7 139.7 L483.3 139.7 L484.8 139.9 L486.3 139.4 L487.8 139.2 L489.4 139.4 L490.9 139.7 L492.4 139.7 L494 139.4 L495.5 139.5 L497 139.6 L498.6 139.3 L500.1 139.2 L501.6 139.2 L503.2 139.1 L504.7 139.2 L506.2 139.1 L507.7 139.1 L509.3 139 L510.8 139.3 L512.3 139 L513.9 139.3 L515.4 139.2 L516.9 139 L518.5 139.4 L520 139.2 L521.5 139.5 L523 139.6 L524.6 139.7 L526.1 139.3 L527.6 139.3 L529.2 139.1 L530.7 139.4 L532.2 139.5 L533.8 139.5 L535.3 139.4 L536.8 139.3 L538.3 139.5 L539.9 139.4 L541.4 139.4 L542.9 139.2 L544.5 139.1 L546 139 L547.5 139.2 L549.1 139.3 L550.6 139.1 L552.1 139.4 L553.6 139.2 L555.2 139.2 L556.7 139.1 L558.2 139 L559.8 139.3 L561.3 139.2 L562.8 139.1 L564.4 139.2 L565.9 139.1 L567.4 139.4 L569 139.1 L570.5 139.4 L572 139.1 L573.5 139.4 L575.1 139.4 L576.6 139.2 L578.1 139.2 L579.7 139.1 L581.2 139.1 L582.7 139 L584.3 139.1 L585.8 139.4 L587.3 139.6 L588.8 139.6 L590.4 139.3 L591.9 139.2 L593.4 139.4 L595 139.1 L596.5 139.3 L598 139.2 L599.6 139.4 L601.1 139.1 L602.6 139.3 L604.1 139.2 L605.7 139 L607.2 138.9 L608.7 139.2 L610.3 139.2 L611.8 139.1 L613.3 139.1 L614.9 139.4 L616.4 139.2 L617.9 139.2 L619.4 139.1 L621 139 L622.5 139.2 L624 139.3 L625.6 139.1 L627.1 139 L628.6 138.9 L630.2 139.1 L631.7 139.2 L633.2 139.1 L634.8 139 L636.3 139.2 L637.8 139.3 L639.3 139.4 L640.9 139.4 L642.4 139.2 L643.9 139 L645.5 139.2 L647 139.2 L648.5 139.3 L650.1 139 L651.6 139.3 L653.1 139.2 L654.6 139.4 L656.2 139.5 L657.7 139.4 L659.2 139.1 L660.8 139.3 L662.3 139.3 L663.8 139.4 L665.4 139.2 L666.9 139.1 L668.4 139.3 L669.9 139.2 L671.5 139 L673 139.1 L674.5 139.2 L676.1 138.9 L677.6 139.1 L679.1 139.1 L680.7 139.2 L682.2 139 L683.7 139.2 L685.3 139.4 L686.8 139.5 L688.3 139.3 L689.8 139.4 L691.4 139.2 L692.9 139.3 L694.4 139.1 L696 139.3 L697.5 139.5 L699 139.4 L700.6 139.3 L702.1 139.3 L703.6 139.3 L705.1 139 L706.7 139.3 L708.2 139.1 L709.7 139 L711.3 138.9 L712.8 138.9 L714.3 139.2 L715.9 139 L717.4 138.9 L718.9 139.1 L720.4 139 L722 138.9 L723.5 139.1 L725 139.2 L726.6 139.2 L728.1 139.3 L729.6 139.1 L731.2 139.3 L732.7 139.4 L734.2 139.1 L735.7 138.9 L737.3 139.1 L738.8 139.1 L740.3 139 L741.9 138.9 L742.8 139" fill="none" stroke="#E58700" stroke-width="1.05"/>
<path d="M437.4 229.8 L437.5 219.8 L437.6 205.2 L437.8 189 L438 177.6 L438.3 170.7 L438.8 165.7 L439.3 164.8 L440 164.8 L440.7 164 L441.5 163.5 L442.3 164 L443.1 163.7 L443.9 163.3 L444.7 163.9 L445.5 163.9 L446.3 163.3 L447.1 162.8 L447.9 162.7 L448.7 162.7 L449.5 163.5 L450.3 163.6 L451.1 163.8 L451.9 163.8 L452.7 163.8 L453.4 162.9 L454.2 162.9 L455 163.4 L455.7 163.6 L457.2 163 L458.8 162.9 L460.3 163 L461.8 162.8 L463.4 162.8 L464.9 162.5 L466.4 162.6 L468 162.7 L469.5 162.3 L471 162.3 L472.5 162.8 L474.1 163 L475.6 163.2 L477.1 163.1 L478.7 163.1 L480.2 163.2 L481.7 163.2 L483.3 162.7 L484.8 162.8 L486.3 162.6 L487.8 162.8 L489.4 162.6 L490.9 162.7 L492.4 162.9 L494 162.9 L495.5 162.7 L497 162.7 L498.6 162.7 L500.1 162.9 L501.6 162.7 L503.2 162.6 L504.7 162.7 L506.2 162.5 L507.7 162.6 L509.3 162.9 L510.8 162.8 L512.3 162.6 L513.9 162.6 L515.4 162.7 L516.9 162.5 L518.5 162.4 L520 162.3 L521.5 162.4 L523 162.5 L524.6 162.4 L526.1 162.4 L527.6 162.3 L529.2 162.5 L530.7 162.7 L532.2 162.8 L533.8 162.8 L535.3 162.8 L536.8 162.6 L538.3 162.7 L539.9 162.7 L541.4 162.7 L542.9 162.7 L544.5 162.7 L546 162.6 L547.5 162.5 L549.1 162.4 L550.6 162.5 L552.1 162.5 L553.6 162.6 L555.2 162.4 L556.7 162.4 L558.2 162.7 L559.8 162.5 L561.3 162.6 L562.8 162.6 L564.4 162.5 L565.9 162.8 L567.4 162.6 L569 162.8 L570.5 162.5 L572 162.4 L573.5 162.7 L575.1 162.6 L576.6 162.4 L578.1 162.5 L579.7 162.5 L581.2 162.7 L582.7 162.5 L584.3 162.4 L585.8 162.7 L587.3 162.8 L588.8 162.6 L590.4 162.5 L591.9 162.5 L593.4 162.6 L595 162.7 L596.5 162.8 L598 162.9 L599.6 162.8 L601.1 162.8 L602.6 162.9 L604.1 162.9 L605.7 162.8 L607.2 162.8 L608.7 162.8 L610.3 163 L611.8 162.6 L613.3 162.8 L614.9 162.5 L616.4 162.7 L617.9 162.7 L619.4 162.7 L621 162.9 L622.5 162.8 L624 162.7 L625.6 162.8 L627.1 162.9 L628.6 162.8 L630.2 162.7 L631.7 162.6 L633.2 162.6 L634.8 162.7 L636.3 162.6 L637.8 162.5 L639.3 162.6 L640.9 162.6 L642.4 162.5 L643.9 162.7 L645.5 162.8 L647 162.7 L648.5 162.7 L650.1 162.5 L651.6 162.4 L653.1 162.3 L654.6 162.5 L656.2 162.6 L657.7 162.4 L659.2 162.7 L660.8 162.6 L662.3 162.8 L663.8 162.9 L665.4 163 L666.9 162.7 L668.4 162.6 L669.9 162.8 L671.5 162.5 L673 162.3 L674.5 162.5 L676.1 162.5 L677.6 162.8 L679.1 162.8 L680.7 162.8 L682.2 162.9 L683.7 162.8 L685.3 162.7 L686.8 162.8 L688.3 162.6 L689.8 162.6 L691.4 162.6 L692.9 162.5 L694.4 162.8 L696 162.8 L697.5 162.7 L699 162.5 L700.6 162.5 L702.1 162.5 L703.6 162.6 L705.1 162.6 L706.7 162.8 L708.2 162.9 L709.7 162.8 L711.3 162.7 L712.8 162.7 L714.3 162.9 L715.9 162.7 L717.4 162.7 L718.9 162.8 L720.4 162.5 L722 162.5 L723.5 162.8 L725 162.9 L726.6 162.7 L728.1 162.5 L729.6 162.7 L731.2 162.8 L732.7 162.9 L734.2 163 L735.7 163 L737.3 162.8 L738.8 162.5 L740.3 162.5 L741.9 162.5 L742.8 162.6" fill="none" stroke="#E58700" stroke-width="1.05"/>
<path d="M437.4 230.8 L437.5 220.8 L437.6 207.4 L437.8 193.7 L438 182.7 L438.3 177 L438.8 173.1 L439.3 170.5 L440 170 L440.7 170.5 L441.5 169.9 L442.3 170.2 L443.1 169.3 L443.9 169.2 L444.7 170 L445.5 170 L446.3 170.2 L447.1 169.6 L447.9 169.6 L448.7 169.7 L449.5 169.4 L450.3 169.7 L451.1 169.7 L451.9 170.3 L452.7 170.1 L453.4 169.8 L454.2 169.3 L455 169.1 L455.7 169.6 L457.2 169.2 L458.8 169 L460.3 169 L461.8 169.3 L463.4 169.7 L464.9 169.7 L466.4 169.9 L468 169.4 L469.5 169.1 L471 169.5 L472.5 169.4 L474.1 169.6 L475.6 169.5 L477.1 169.3 L478.7 169.2 L480.2 169.1 L481.7 169.5 L483.3 169.6 L484.8 169.5 L486.3 169.4 L487.8 169.4 L489.4 169.2 L490.9 169.5 L492.4 169.6 L494 169.8 L495.5 169.6 L497 169.6 L498.6 169.4 L500.1 169.2 L501.6 169.6 L503.2 169.7 L504.7 169.5 L506.2 169.7 L507.7 169.8 L509.3 169.5 L510.8 169.6 L512.3 169.8 L513.9 169.6 L515.4 169.8 L516.9 169.5 L518.5 169.4 L520 169.6 L521.5 169.4 L523 169.3 L524.6 169.6 L526.1 169.5 L527.6 169.6 L529.2 169.4 L530.7 169.3 L532.2 169.3 L533.8 169.2 L535.3 169.5 L536.8 169.4 L538.3 169.5 L539.9 169.3 L541.4 169.4 L542.9 169.3 L544.5 169.3 L546 169.2 L547.5 169.1 L549.1 169.4 L550.6 169.4 L552.1 169.3 L553.6 169.2 L555.2 169.2 L556.7 169.2 L558.2 169.1 L559.8 169.3 L561.3 169.3 L562.8 169.2 L564.4 169.4 L565.9 169.2 L567.4 169.2 L569 169.5 L570.5 169.3 L572 169.3 L573.5 169.5 L575.1 169.6 L576.6 169.4 L578.1 169.3 L579.7 169.5 L581.2 169.4 L582.7 169.6 L584.3 169.4 L585.8 169.6 L587.3 169.5 L588.8 169.4 L590.4 169.4 L591.9 169.2 L593.4 169.4 L595 169.3 L596.5 169.6 L598 169.5 L599.6 169.4 L601.1 169.3 L602.6 169.4 L604.1 169.3 L605.7 169.5 L607.2 169.3 L608.7 169.4 L610.3 169.4 L611.8 169.3 L613.3 169.5 L614.9 169.4 L616.4 169.5 L617.9 169.5 L619.4 169.4 L621 169.3 L622.5 169.2 L624 169.1 L625.6 169.4 L627.1 169.3 L628.6 169.5 L630.2 169.2 L631.7 169.3 L633.2 169.3 L634.8 169.4 L636.3 169.3 L637.8 169.1 L639.3 169.2 L640.9 169.1 L642.4 169.1 L643.9 169.3 L645.5 169.3 L647 169.3 L648.5 169.5 L650.1 169.6 L651.6 169.7 L653.1 169.8 L654.6 169.4 L656.2 169.3 L657.7 169.1 L659.2 169.3 L660.8 169.5 L662.3 169.4 L663.8 169.3 L665.4 169.4 L666.9 169.5 L668.4 169.4 L669.9 169.5 L671.5 169.4 L673 169.5 L674.5 169.3 L676.1 169.1 L677.6 169.5 L679.1 169.6 L680.7 169.6 L682.2 169.3 L683.7 169.1 L685.3 169.1 L686.8 169.1 L688.3 169.1 L689.8 169.2 L691.4 169.1 L692.9 169.1 L694.4 169.3 L696 169.2 L697.5 169.5 L699 169.5 L700.6 169.5 L702.1 169.4 L703.6 169.3 L705.1 169.5 L706.7 169.4 L708.2 169.1 L709.7 169.4 L711.3 169.6 L712.8 169.4 L714.3 169.2 L715.9 169.4 L717.4 169.5 L718.9 169.2 L720.4 169.2 L722 169.1 L723.5 169.4 L725 169.2 L726.6 169.5 L728.1 169.6 L729.6 169.3 L731.2 169.4 L732.7 169.4 L734.2 169.5 L735.7 169.6 L737.3 169.4 L738.8 169.2 L740.3 169.5 L741.9 169.4 L742.8 169.6" fill="none" stroke="#E58700" stroke-width="1.05"/>
<path d="M437.4 232.5 L437.5 225.7 L437.6 214.3 L437.8 202.4 L438 193.1 L438.3 186.5 L438.8 184.1 L439.3 182.8 L440 182.5 L440.7 183.2 L441.5 182.1 L442.3 182.6 L443.1 181.7 L443.9 182.2 L444.7 182.7 L445.5 182.1 L446.3 182.2 L447.1 182.8 L447.9 182.7 L448.7 182.5 L449.5 182 L450.3 181.5 L451.1 181.6 L451.9 181.7 L452.7 181.5 L453.4 181.6 L454.2 181.4 L455 181.9 L455.7 182.1 L457.2 181.8 L458.8 181.7 L460.3 181.8 L461.8 181.9 L463.4 182.3 L464.9 182 L466.4 181.9 L468 182.2 L469.5 181.8 L471 182 L472.5 181.9 L474.1 182.1 L475.6 182.1 L477.1 182.2 L478.7 181.9 L480.2 182 L481.7 182.1 L483.3 182 L484.8 182.1 L486.3 182.3 L487.8 181.9 L489.4 181.8 L490.9 181.8 L492.4 181.7 L494 181.6 L495.5 181.6 L497 181.6 L498.6 181.9 L500.1 181.9 L501.6 181.7 L503.2 181.7 L504.7 181.8 L506.2 181.8 L507.7 181.7 L509.3 181.6 L510.8 181.5 L512.3 181.9 L513.9 182.1 L515.4 181.8 L516.9 182 L518.5 182.2 L520 182.1 L521.5 181.8 L523 181.9 L524.6 181.9 L526.1 181.7 L527.6 181.8 L529.2 181.6 L530.7 182 L532.2 182 L533.8 182.1 L535.3 182.2 L536.8 182.2 L538.3 181.9 L539.9 181.8 L541.4 181.7 L542.9 181.6 L544.5 181.9 L546 182.1 L547.5 181.9 L549.1 181.8 L550.6 181.9 L552.1 182.1 L553.6 182.2 L555.2 181.9 L556.7 182.1 L558.2 182.2 L559.8 182.2 L561.3 182 L562.8 181.8 L564.4 182 L565.9 181.9 L567.4 181.8 L569 181.9 L570.5 181.8 L572 182 L573.5 181.9 L575.1 181.7 L576.6 181.8 L578.1 181.9 L579.7 182.1 L581.2 182.1 L582.7 182.2 L584.3 182.3 L585.8 182.1 L587.3 182 L588.8 181.8 L590.4 181.8 L591.9 181.9 L593.4 181.7 L595 181.9 L596.5 181.7 L598 181.8 L599.6 182.1 L601.1 181.8 L602.6 181.6 L604.1 181.7 L605.7 181.7 L607.2 181.9 L608.7 181.6 L610.3 181.9 L611.8 182.1 L613.3 182.2 L614.9 182 L616.4 181.9 L617.9 182 L619.4 181.9 L621 181.9 L622.5 181.8 L624 181.8 L625.6 181.9 L627.1 182.1 L628.6 182.2 L630.2 181.9 L631.7 181.8 L633.2 181.8 L634.8 181.9 L636.3 181.8 L637.8 181.7 L639.3 181.6 L640.9 181.6 L642.4 181.7 L643.9 182.1 L645.5 182.2 L647 182.2 L648.5 182.3 L650.1 182.4 L651.6 182.2 L653.1 182.2 L654.6 181.9 L656.2 182 L657.7 182 L659.2 181.9 L660.8 181.9 L662.3 182.1 L663.8 182 L665.4 182 L666.9 181.9 L668.4 181.8 L669.9 182 L671.5 181.7 L673 181.7 L674.5 181.9 L676.1 181.9 L677.6 181.7 L679.1 181.9 L680.7 181.8 L682.2 181.9 L683.7 181.9 L685.3 181.9 L686.8 181.9 L688.3 181.9 L689.8 181.7 L691.4 181.6 L692.9 181.9 L694.4 182 L696 181.7 L697.5 182 L699 181.8 L700.6 181.7 L702.1 181.8 L703.6 181.7 L705.1 181.8 L706.7 181.9 L708.2 181.7 L709.7 181.9 L711.3 181.7 L712.8 181.8 L714.3 181.9 L715.9 181.7 L717.4 181.7 L718.9 181.6 L720.4 181.7 L722 182 L723.5 182 L725 182 L726.6 182.1 L728.1 181.8 L729.6 182.1 L731.2 182.1 L732.7 181.8 L734.2 182 L735.7 181.9 L737.3 181.7 L738.8 182 L740.3 182 L741.9 182.1 L742.8 181.8" fill="none" stroke="#C09B00" stroke-width="1.05"/>
<path d="M437.4 226.2 L437.5 212.7 L437.6 192.3 L437.8 172.4 L438 156.3 L438.3 146.9 L438.8 140.8 L439.3 138.4 L440 138.2 L440.7 137.7 L441.5 138.2 L442.3 137.9 L443.1 138.1 L443.9 137.7 L444.7 138 L445.5 138 L446.3 137 L447.1 137.2 L447.9 136.8 L448.7 137.1 L449.5 137.1 L450.3 137.3 L451.1 136.5 L451.9 136.4 L452.7 136.7 L453.4 137.1 L454.2 137.1 L455 136.3 L455.7 136.5 L457.2 136 L458.8 136.2 L460.3 136.6 L461.8 136.1 L463.4 136.6 L464.9 136.6 L466.4 136.3 L468 136 L469.5 136.1 L471 136.4 L472.5 136.4 L474.1 136 L475.6 135.8 L477.1 135.7 L478.7 136.1 L480.2 135.9 L481.7 136.1 L483.3 136 L484.8 136.2 L486.3 136.1 L487.8 135.9 L489.4 136.2 L490.9 136.2 L492.4 136.3 L494 136.4 L495.5 136.5 L497 136.1 L498.6 136 L500.1 135.8 L501.6 136 L503.2 136.2 L504.7 136.3 L506.2 136 L507.7 135.8 L509.3 136.1 L510.8 136.2 L512.3 136.1 L513.9 136.1 L515.4 135.9 L516.9 136.1 L518.5 136 L520 136.2 L521.5 136.2 L523 135.9 L524.6 135.9 L526.1 135.8 L527.6 136.1 L529.2 136.1 L530.7 135.8 L532.2 135.8 L533.8 135.8 L535.3 135.9 L536.8 136 L538.3 135.9 L539.9 135.9 L541.4 135.7 L542.9 135.9 L544.5 135.9 L546 135.7 L547.5 135.8 L549.1 136.1 L550.6 135.8 L552.1 135.7 L553.6 135.9 L555.2 135.8 L556.7 135.8 L558.2 135.9 L559.8 135.8 L561.3 135.9 L562.8 136 L564.4 136.2 L565.9 136.4 L567.4 136 L569 136 L570.5 136.1 L572 136.2 L573.5 136.3 L575.1 136.2 L576.6 136.2 L578.1 136 L579.7 135.9 L581.2 136.1 L582.7 136.2 L584.3 136.3 L585.8 136.3 L587.3 136 L588.8 136.1 L590.4 136.2 L591.9 136.1 L593.4 136.1 L595 136 L596.5 136 L598 135.9 L599.6 135.7 L601.1 135.7 L602.6 135.7 L604.1 136.1 L605.7 136 L607.2 135.9 L608.7 135.8 L610.3 135.7 L611.8 135.8 L613.3 135.7 L614.9 135.5 L616.4 135.9 L617.9 135.9 L619.4 135.9 L621 135.9 L622.5 135.8 L624 135.7 L625.6 135.6 L627.1 135.7 L628.6 135.7 L630.2 135.9 L631.7 135.9 L633.2 136.2 L634.8 136 L636.3 136.2 L637.8 136.1 L639.3 135.8 L640.9 135.7 L642.4 135.8 L643.9 136.1 L645.5 136 L647 136.1 L648.5 136 L650.1 136.1 L651.6 135.8 L653.1 135.9 L654.6 136.1 L656.2 135.9 L657.7 135.8 L659.2 135.6 L660.8 135.6 L662.3 135.6 L663.8 135.9 L665.4 135.7 L666.9 135.8 L668.4 135.7 L669.9 135.8 L671.5 136.1 L673 136.1 L674.5 135.9 L676.1 136 L677.6 136.2 L679.1 136.1 L680.7 135.8 L682.2 136 L683.7 136.2 L685.3 136 L686.8 135.8 L688.3 135.7 L689.8 135.8 L691.4 136 L692.9 136.1 L694.4 136.2 L696 135.9 L697.5 135.8 L699 136 L700.6 136 L702.1 135.9 L703.6 136 L705.1 135.9 L706.7 135.7 L708.2 135.7 L709.7 135.6 L711.3 135.8 L712.8 135.8 L714.3 135.8 L715.9 135.9 L717.4 135.8 L718.9 135.8 L720.4 135.6 L722 136 L723.5 136 L725 136.2 L726.6 135.8 L728.1 135.9 L729.6 136 L731.2 135.9 L732.7 135.7 L734.2 135.6 L735.7 135.6 L737.3 135.8 L738.8 135.7 L740.3 135.9 L741.9 135.9 L742.8 135.9" fill="none" stroke="#B8A030" stroke-width="1.05"/>
<path d="M437.4 235.3 L437.5 230.3 L437.6 222.4 L437.8 214.4 L438 207.7 L438.3 204.5 L438.8 201.8 L439.3 201.6 L440 201.7 L440.7 201.8 L441.5 201.1 L442.3 201.5 L443.1 202 L443.9 201.4 L444.7 200.9 L445.5 200.9 L446.3 201.5 L447.1 200.7 L447.9 200.1 L448.7 200.4 L449.5 200.8 L450.3 201.2 L451.1 200.9 L451.9 201.5 L452.7 200.9 L453.4 201.2 L454.2 200.6 L455 200.2 L455.7 200.1 L457.2 200 L458.8 200.4 L460.3 200.6 L461.8 200.5 L463.4 201 L464.9 200.8 L466.4 200.5 L468 200.4 L469.5 200.8 L471 201.1 L472.5 200.8 L474.1 200.5 L475.6 200.8 L477.1 200.7 L478.7 201 L480.2 201 L481.7 201 L483.3 200.8 L484.8 201 L486.3 200.9 L487.8 200.8 L489.4 201 L490.9 200.7 L492.4 200.9 L494 200.6 L495.5 200.8 L497 200.8 L498.6 201 L500.1 200.7 L501.6 200.8 L503.2 200.7 L504.7 201 L506.2 201.2 L507.7 201.1 L509.3 200.8 L510.8 200.7 L512.3 200.6 L513.9 200.7 L515.4 200.6 L516.9 200.5 L518.5 200.8 L520 200.9 L521.5 200.7 L523 201 L524.6 200.8 L526.1 200.8 L527.6 200.7 L529.2 200.9 L530.7 201.1 L532.2 200.8 L533.8 200.9 L535.3 201.1 L536.8 200.8 L538.3 200.7 L539.9 200.8 L541.4 201 L542.9 200.7 L544.5 200.9 L546 200.9 L547.5 200.8 L549.1 200.9 L550.6 201 L552.1 200.8 L553.6 201 L555.2 200.8 L556.7 201 L558.2 201.1 L559.8 200.8 L561.3 201 L562.8 201.2 L564.4 200.9 L565.9 200.6 L567.4 200.5 L569 200.9 L570.5 200.6 L572 200.9 L573.5 200.7 L575.1 200.9 L576.6 200.6 L578.1 200.5 L579.7 200.8 L581.2 200.6 L582.7 200.6 L584.3 200.9 L585.8 201 L587.3 201.1 L588.8 201.2 L590.4 200.8 L591.9 200.7 L593.4 200.9 L595 200.9 L596.5 200.6 L598 200.7 L599.6 200.6 L601.1 200.7 L602.6 200.5 L604.1 200.4 L605.7 200.8 L607.2 200.7 L608.7 201 L610.3 200.7 L611.8 200.7 L613.3 200.6 L614.9 200.6 L616.4 200.6 L617.9 200.8 L619.4 200.6 L621 200.8 L622.5 200.8 L624 200.6 L625.6 200.6 L627.1 200.7 L628.6 201 L630.2 200.8 L631.7 200.7 L633.2 201 L634.8 201.1 L636.3 201.1 L637.8 200.8 L639.3 200.7 L640.9 200.6 L642.4 200.5 L643.9 200.4 L645.5 200.6 L647 200.6 L648.5 200.7 L650.1 200.7 L651.6 200.5 L653.1 200.7 L654.6 200.8 L656.2 200.8 L657.7 200.9 L659.2 200.9 L660.8 201.1 L662.3 201.2 L663.8 201.1 L665.4 200.9 L666.9 200.8 L668.4 200.7 L669.9 201 L671.5 200.9 L673 200.8 L674.5 200.7 L676.1 200.6 L677.6 200.9 L679.1 200.6 L680.7 200.8 L682.2 201 L683.7 200.8 L685.3 200.8 L686.8 200.8 L688.3 200.7 L689.8 200.6 L691.4 200.5 L692.9 200.8 L694.4 200.9 L696 201.1 L697.5 200.7 L699 200.9 L700.6 200.7 L702.1 200.8 L703.6 200.8 L705.1 200.7 L706.7 201 L708.2 200.7 L709.7 200.8 L711.3 201 L712.8 200.9 L714.3 200.9 L715.9 201.1 L717.4 200.8 L718.9 200.9 L720.4 201 L722 200.8 L723.5 200.9 L725 200.8 L726.6 200.8 L728.1 200.9 L729.6 200.9 L731.2 200.8 L732.7 200.9 L734.2 200.9 L735.7 200.7 L737.3 200.8 L738.8 200.7 L740.3 200.9 L741.9 200.9 L742.8 200.9" fill="none" stroke="#C5B040" stroke-width="1.05"/>
<path d="M437.4 218 L437.5 198.2 L437.6 166.6 L437.8 135.4 L438 112 L438.3 94.3 L438.8 83.8 L439.3 78.9 L440 77.1 L440.7 75.2 L441.5 73.8 L442.3 74 L443.1 73.4 L443.9 73.3 L444.7 73.3 L445.5 73.4 L446.3 73.3 L447.1 72 L447.9 71.7 L448.7 72.1 L449.5 72.2 L450.3 71.4 L451.1 70.9 L451.9 70.8 L452.7 70.5 L453.4 70.6 L454.2 71.1 L455 71.1 L455.7 70.9 L457.2 70.4 L458.8 70.4 L460.3 71 L461.8 70.9 L463.4 70.7 L464.9 70.5 L466.4 70.7 L468 70.7 L469.5 70.3 L471 70.4 L472.5 70.2 L474.1 70.2 L475.6 70 L477.1 70 L478.7 69.9 L480.2 69.9 L481.7 69.6 L483.3 69.6 L484.8 69.8 L486.3 69.6 L487.8 69.6 L489.4 69.8 L490.9 69.7 L492.4 69.7 L494 69.6 L495.5 69.9 L497 69.6 L498.6 69.8 L500.1 70 L501.6 69.7 L503.2 69.7 L504.7 69.9 L506.2 69.9 L507.7 69.7 L509.3 69.5 L510.8 69.6 L512.3 69.6 L513.9 69.7 L515.4 69.6 L516.9 69.6 L518.5 69.7 L520 69.8 L521.5 69.7 L523 69.6 L524.6 69.6 L526.1 69.8 L527.6 69.6 L529.2 69.8 L530.7 69.8 L532.2 69.7 L533.8 69.7 L535.3 69.6 L536.8 69.3 L538.3 69.6 L539.9 69.5 L541.4 69.5 L542.9 69.5 L544.5 69.7 L546 69.8 L547.5 69.4 L549.1 69.5 L550.6 69.5 L552.1 69.5 L553.6 69.7 L555.2 69.5 L556.7 69.5 L558.2 69.7 L559.8 69.6 L561.3 69.5 L562.8 69.5 L564.4 69.6 L565.9 69.6 L567.4 69.7 L569 69.5 L570.5 69.3 L572 69.4 L573.5 69.5 L575.1 69.6 L576.6 69.6 L578.1 69.4 L579.7 69.2 L581.2 69.1 L582.7 69.4 L584.3 69.2 L585.8 69.1 L587.3 69.4 L588.8 69.4 L590.4 69.2 L591.9 69.4 L593.4 69.5 L595 69.4 L596.5 69.2 L598 69.4 L599.6 69.3 L601.1 69.4 L602.6 69.6 L604.1 69.7 L605.7 69.7 L607.2 69.4 L608.7 69.3 L610.3 69.3 L611.8 69.1 L613.3 69.4 L614.9 69.3 L616.4 69.2 L617.9 69.2 L619.4 69.1 L621 69.4 L622.5 69.4 L624 69.4 L625.6 69.3 L627.1 69.1 L628.6 69.1 L630.2 69.4 L631.7 69.5 L633.2 69.6 L634.8 69.3 L636.3 69.2 L637.8 69 L639.3 69.2 L640.9 69.2 L642.4 69.2 L643.9 69.2 L645.5 69.3 L647 69.2 L648.5 69.4 L650.1 69.2 L651.6 69.5 L653.1 69.4 L654.6 69.1 L656.2 69.1 L657.7 69.2 L659.2 69.2 L660.8 69.3 L662.3 69.2 L663.8 69.1 L665.4 69.3 L666.9 69.2 L668.4 69.3 L669.9 69.5 L671.5 69.4 L673 69.3 L674.5 69.5 L676.1 69.4 L677.6 69.5 L679.1 69.2 L680.7 69.2 L682.2 69.3 L683.7 69 L685.3 69.3 L686.8 69.1 L688.3 69.2 L689.8 69.1 L691.4 69.4 L692.9 69.3 L694.4 69.4 L696 69.3 L697.5 69.4 L699 69.4 L700.6 69.2 L702.1 69.1 L703.6 69.3 L705.1 69.1 L706.7 69.4 L708.2 69.2 L709.7 69 L711.3 68.9 L712.8 69.2 L714.3 69.4 L715.9 69.3 L717.4 69.3 L718.9 69.2 L720.4 69.4 L722 69.4 L723.5 69.1 L725 69 L726.6 69.2 L728.1 69 L729.6 69.2 L731.2 69.1 L732.7 69 L734.2 69.1 L735.7 69.1 L737.3 69.2 L738.8 69 L740.3 69.3 L741.9 69.2 L742.8 69.4" fill="none" stroke="#B79F00" stroke-width="1.05"/>
<path d="M437.4 226.3 L437.5 213.7 L437.6 194.6 L437.8 174.1 L438 157.6 L438.3 147.6 L438.8 142.4 L439.3 139.5 L440 138.9 L440.7 137.9 L441.5 137.9 L442.3 138.4 L443.1 138.1 L443.9 138.3 L444.7 137.5 L445.5 138.1 L446.3 137.4 L447.1 138.1 L447.9 138.5 L448.7 138.7 L449.5 138.2 L450.3 137.6 L451.1 137.4 L451.9 137.7 L452.7 137.6 L453.4 138 L454.2 137.3 L455 137.3 L455.7 137.7 L457.2 137.6 L458.8 137.5 L460.3 137 L461.8 136.8 L463.4 136.8 L464.9 137.3 L466.4 137.5 L468 137.1 L469.5 137.5 L471 137 L472.5 137.1 L474.1 137.4 L475.6 137.2 L477.1 137.4 L478.7 137.4 L480.2 136.9 L481.7 136.9 L483.3 136.9 L484.8 136.8 L486.3 137.1 L487.8 136.9 L489.4 137.1 L490.9 136.9 L492.4 136.7 L494 136.9 L495.5 136.7 L497 136.9 L498.6 137.1 L500.1 137.1 L501.6 137 L503.2 136.8 L504.7 136.9 L506.2 136.7 L507.7 136.9 L509.3 136.7 L510.8 136.9 L512.3 136.8 L513.9 136.8 L515.4 137 L516.9 136.8 L518.5 136.7 L520 137 L521.5 136.9 L523 137.1 L524.6 137.2 L526.1 137.1 L527.6 136.8 L529.2 136.7 L530.7 137 L532.2 136.8 L533.8 136.8 L535.3 136.9 L536.8 136.7 L538.3 136.8 L539.9 136.7 L541.4 136.8 L542.9 136.8 L544.5 136.8 L546 136.7 L547.5 136.7 L549.1 136.7 L550.6 136.6 L552.1 136.6 L553.6 136.9 L555.2 136.9 L556.7 137.1 L558.2 136.8 L559.8 137 L561.3 137 L562.8 137.1 L564.4 137 L565.9 137.1 L567.4 136.8 L569 137 L570.5 136.8 L572 136.7 L573.5 136.5 L575.1 136.6 L576.6 136.8 L578.1 136.7 L579.7 137 L581.2 136.7 L582.7 136.8 L584.3 136.7 L585.8 136.8 L587.3 137 L588.8 137 L590.4 136.7 L591.9 136.7 L593.4 136.8 L595 137.1 L596.5 136.7 L598 136.9 L599.6 136.9 L601.1 137.1 L602.6 136.9 L604.1 137 L605.7 136.9 L607.2 137.1 L608.7 136.7 L610.3 137 L611.8 136.9 L613.3 136.8 L614.9 136.6 L616.4 136.6 L617.9 136.8 L619.4 136.9 L621 136.7 L622.5 136.7 L624 136.6 L625.6 136.5 L627.1 136.5 L628.6 136.6 L630.2 136.9 L631.7 137.1 L633.2 137.1 L634.8 137 L636.3 136.9 L637.8 137 L639.3 137.1 L640.9 137.1 L642.4 137.1 L643.9 136.8 L645.5 136.9 L647 137 L648.5 137.1 L650.1 136.8 L651.6 136.9 L653.1 136.8 L654.6 136.6 L656.2 137 L657.7 137 L659.2 137 L660.8 136.8 L662.3 137 L663.8 137.1 L665.4 137.2 L666.9 137.1 L668.4 137.2 L669.9 137.2 L671.5 137.1 L673 136.9 L674.5 137 L676.1 137.1 L677.6 137.1 L679.1 136.9 L680.7 137.1 L682.2 137 L683.7 137.1 L685.3 136.8 L686.8 137 L688.3 137.1 L689.8 136.8 L691.4 137 L692.9 136.8 L694.4 136.6 L696 136.7 L697.5 136.6 L699 136.7 L700.6 137 L702.1 137 L703.6 137 L705.1 136.9 L706.7 137 L708.2 137.1 L709.7 137 L711.3 137.2 L712.8 137.2 L714.3 137 L715.9 136.7 L717.4 136.8 L718.9 137 L720.4 136.8 L722 136.9 L723.5 137 L725 137.1 L726.6 136.7 L728.1 136.7 L729.6 136.5 L731.2 136.5 L732.7 136.8 L734.2 136.7 L735.7 136.8 L737.3 136.8 L738.8 136.7 L740.3 136.6 L741.9 136.6 L742.8 136.9" fill="none" stroke="#B79F00" stroke-width="1.05"/>
<path d="M437.4 236.5 L437.5 232.1 L437.6 225 L437.8 218.6 L438 214.6 L438.3 211.6 L438.8 210.4 L439.3 210.3 L440 209.2 L440.7 209.6 L441.5 208.7 L442.3 209.5 L443.1 209 L443.9 208.8 L444.7 209.7 L445.5 209.4 L446.3 209 L447.1 209.7 L447.9 209.7 L448.7 210 L449.5 209.6 L450.3 209.5 L451.1 210 L451.9 209.7 L452.7 210.1 L453.4 209.4 L454.2 209.7 L455 209.2 L455.7 209.3 L457.2 208.8 L458.8 208.7 L460.3 209.4 L461.8 209.3 L463.4 209.6 L464.9 209.3 L466.4 209.2 L468 208.9 L469.5 209.1 L471 209.5 L472.5 209.4 L474.1 209.3 L475.6 209.6 L477.1 209.7 L478.7 209.7 L480.2 209.2 L481.7 209.3 L483.3 209.3 L484.8 209.6 L486.3 209.4 L487.8 209.4 L489.4 209.5 L490.9 209.3 L492.4 209.3 L494 209.4 L495.5 209.6 L497 209.5 L498.6 209.3 L500.1 209.6 L501.6 209.2 L503.2 209.4 L504.7 209.5 L506.2 209.4 L507.7 209.4 L509.3 209.5 L510.8 209.6 L512.3 209.6 L513.9 209.6 L515.4 209.2 L516.9 209.2 L518.5 209 L520 209.4 L521.5 209.6 L523 209.3 L524.6 209.3 L526.1 209.4 L527.6 209.1 L529.2 209.1 L530.7 209.3 L532.2 209.4 L533.8 209.2 L535.3 209.4 L536.8 209.3 L538.3 209.3 L539.9 209.3 L541.4 209.5 L542.9 209.5 L544.5 209.6 L546 209.5 L547.5 209.4 L549.1 209.6 L550.6 209.6 L552.1 209.5 L553.6 209.3 L555.2 209.1 L556.7 209.3 L558.2 209.4 L559.8 209.5 L561.3 209.4 L562.8 209.2 L564.4 209.2 L565.9 209.5 L567.4 209.2 L569 209.4 L570.5 209.2 L572 209.1 L573.5 209 L575.1 209 L576.6 209.1 L578.1 209.4 L579.7 209.6 L581.2 209.3 L582.7 209.2 L584.3 209.5 L585.8 209.2 L587.3 209.2 L588.8 209.2 L590.4 209.1 L591.9 209 L593.4 209.1 L595 209.1 L596.5 209.4 L598 209.3 L599.6 209.1 L601.1 209.4 L602.6 209.3 L604.1 209.5 L605.7 209.5 L607.2 209.5 L608.7 209.3 L610.3 209.1 L611.8 209.3 L613.3 209.3 L614.9 209.3 L616.4 209.4 L617.9 209.5 L619.4 209.3 L621 209.2 L622.5 209.5 L624 209.4 L625.6 209.3 L627.1 209.3 L628.6 209.2 L630.2 209.4 L631.7 209.1 L633.2 209.4 L634.8 209.4 L636.3 209.3 L637.8 209.5 L639.3 209.3 L640.9 209.2 L642.4 209 L643.9 209.2 L645.5 209.4 L647 209.4 L648.5 209.3 L650.1 209.5 L651.6 209.2 L653.1 209.1 L654.6 209.3 L656.2 209.5 L657.7 209.5 L659.2 209.5 L660.8 209.5 L662.3 209.4 L663.8 209.6 L665.4 209.6 L666.9 209.4 L668.4 209.3 L669.9 209.4 L671.5 209.3 L673 209.1 L674.5 209.4 L676.1 209.4 L677.6 209.4 L679.1 209.4 L680.7 209.6 L682.2 209.3 L683.7 209.2 L685.3 209 L686.8 209.1 L688.3 209.2 L689.8 209.4 L691.4 209.4 L692.9 209.4 L694.4 209.3 L696 209.3 L697.5 209.2 L699 209.4 L700.6 209.5 L702.1 209.6 L703.6 209.3 L705.1 209.4 L706.7 209.5 L708.2 209.4 L709.7 209.6 L711.3 209.6 L712.8 209.6 L714.3 209.6 L715.9 209.6 L717.4 209.6 L718.9 209.3 L720.4 209.4 L722 209.5 L723.5 209.4 L725 209.3 L726.6 209.1 L728.1 209.2 L729.6 209.4 L731.2 209.3 L732.7 209.1 L734.2 209.1 L735.7 209 L737.3 209.2 L738.8 209.5 L740.3 209.6 L741.9 209.4 L742.8 209.4" fill="none" stroke="#B79F00" stroke-width="1.05"/>
<path d="M437.4 219.8 L437.5 201.7 L437.6 172.8 L437.8 143.5 L438 121.7 L438.3 105.4 L438.8 96 L439.3 91.4 L440 90 L440.7 89.5 L441.5 89.5 L442.3 88.1 L443.1 88.5 L443.9 87.6 L444.7 87.1 L445.5 87.4 L446.3 87.1 L447.1 86.9 L447.9 87 L448.7 86.6 L449.5 87.1 L450.3 86.6 L451.1 87 L451.9 87.2 L452.7 87 L453.4 86.2 L454.2 86.6 L455 86 L455.7 86.2 L457.2 86.1 L458.8 85.7 L460.3 86 L461.8 86.2 L463.4 86.2 L464.9 86 L466.4 86 L468 86 L469.5 85.7 L471 86.1 L472.5 86.3 L474.1 86.3 L475.6 86.4 L477.1 86 L478.7 86.2 L480.2 85.7 L481.7 85.6 L483.3 85.4 L484.8 85.5 L486.3 85.6 L487.8 85.7 L489.4 85.6 L490.9 85.5 L492.4 85.3 L494 85.4 L495.5 85.3 L497 85.2 L498.6 85.5 L500.1 85.5 L501.6 85.4 L503.2 85.3 L504.7 85.5 L506.2 85.3 L507.7 85.2 L509.3 85.3 L510.8 85.5 L512.3 85.7 L513.9 85.7 L515.4 85.8 L516.9 85.8 L518.5 85.7 L520 85.7 L521.5 85.3 L523 85.2 L524.6 85 L526.1 85.3 L527.6 85.4 L529.2 85.5 L530.7 85.3 L532.2 85.2 L533.8 85.1 L535.3 85.2 L536.8 85.5 L538.3 85.3 L539.9 85.1 L541.4 85 L542.9 85 L544.5 85.3 L546 85.5 L547.5 85.3 L549.1 85.1 L550.6 85 L552.1 84.9 L553.6 85.2 L555.2 85.2 L556.7 85.5 L558.2 85.6 L559.8 85.6 L561.3 85.4 L562.8 85.5 L564.4 85.2 L565.9 85 L567.4 85.1 L569 85.2 L570.5 85 L572 85 L573.5 84.8 L575.1 85.2 L576.6 85.3 L578.1 85.5 L579.7 85.6 L581.2 85.4 L582.7 85.4 L584.3 85.2 L585.8 85.4 L587.3 85.4 L588.8 85.1 L590.4 84.9 L591.9 84.9 L593.4 85 L595 85 L596.5 84.8 L598 85.1 L599.6 85.3 L601.1 85.2 L602.6 84.9 L604.1 85.2 L605.7 85.2 L607.2 84.9 L608.7 84.9 L610.3 85.1 L611.8 85.3 L613.3 85.2 L614.9 85.2 L616.4 85 L617.9 84.9 L619.4 85.2 L621 85.1 L622.5 84.9 L624 85 L625.6 84.9 L627.1 84.8 L628.6 84.9 L630.2 85 L631.7 85.1 L633.2 85.2 L634.8 85.1 L636.3 84.9 L637.8 85.1 L639.3 84.9 L640.9 84.9 L642.4 85 L643.9 85.1 L645.5 85.2 L647 85 L648.5 85.1 L650.1 85.2 L651.6 85.1 L653.1 84.9 L654.6 85.2 L656.2 85.2 L657.7 84.9 L659.2 84.8 L660.8 85.2 L662.3 85 L663.8 85 L665.4 85.2 L666.9 85.3 L668.4 85.2 L669.9 85.3 L671.5 84.9 L673 84.8 L674.5 85.1 L676.1 85.3 L677.6 84.9 L679.1 84.8 L680.7 84.8 L682.2 85.1 L683.7 84.9 L685.3 85.1 L686.8 85.3 L688.3 85.2 L689.8 85.4 L691.4 85.1 L692.9 84.9 L694.4 84.7 L696 85 L697.5 84.8 L699 85.1 L700.6 85.2 L702.1 85 L703.6 85.1 L705.1 84.9 L706.7 85 L708.2 84.8 L709.7 85 L711.3 85.2 L712.8 85.3 L714.3 84.9 L715.9 85.2 L717.4 85.1 L718.9 85.2 L720.4 85.1 L722 85.1 L723.5 85.1 L725 85.2 L726.6 84.9 L728.1 84.7 L729.6 84.9 L731.2 84.8 L732.7 84.9 L734.2 84.7 L735.7 84.9 L737.3 84.7 L738.8 85 L740.3 85.2 L741.9 85.1 L742.8 84.8" fill="none" stroke="#A8C050" stroke-width="1.05"/>
<path d="M437.4 214.5 L437.5 191.2 L437.6 155.7 L437.8 119.6 L438 92.1 L438.3 70.4 L438.8 56.8 L439.3 49.7 L440 47.3 L440.7 46.2 L441.5 45.2 L442.3 43.3 L443.1 42.4 L443.9 41.7 L444.7 41.9 L445.5 40.9 L446.3 41 L447.1 41.4 L447.9 41.2 L448.7 40.1 L449.5 39.5 L450.3 39.1 L451.1 39.6 L451.9 39.7 L452.7 39.6 L453.4 39.4 L454.2 39.2 L455 39.3 L455.7 39.3 L457.2 39.5 L458.8 39.4 L460.3 39.3 L461.8 39.3 L463.4 39.2 L464.9 39 L466.4 38.3 L468 38.4 L469.5 38.5 L471 38.3 L472.5 38.4 L474.1 38 L475.6 38.2 L477.1 38 L478.7 38.1 L480.2 37.8 L481.7 37.6 L483.3 37.6 L484.8 37.5 L486.3 37.3 L487.8 37.4 L489.4 37.8 L490.9 37.7 L492.4 37.9 L494 37.9 L495.5 37.9 L497 37.9 L498.6 37.8 L500.1 37.5 L501.6 37.3 L503.2 37.3 L504.7 37 L506.2 37 L507.7 37.3 L509.3 37.5 L510.8 37.3 L512.3 37.4 L513.9 37.5 L515.4 37.6 L516.9 37.5 L518.5 37.4 L520 37.1 L521.5 37.3 L523 37.1 L524.6 37.2 L526.1 37.1 L527.6 37.1 L529.2 37.3 L530.7 37 L532.2 37.1 L533.8 37.1 L535.3 37.1 L536.8 37.3 L538.3 37.1 L539.9 37.3 L541.4 37.3 L542.9 37.4 L544.5 37 L546 36.8 L547.5 36.8 L549.1 37.1 L550.6 36.8 L552.1 36.7 L553.6 36.9 L555.2 37.2 L556.7 36.9 L558.2 36.9 L559.8 37 L561.3 37 L562.8 37.1 L564.4 37.1 L565.9 36.9 L567.4 36.8 L569 36.6 L570.5 36.8 L572 36.7 L573.5 36.6 L575.1 37 L576.6 37 L578.1 37 L579.7 37 L581.2 36.9 L582.7 37 L584.3 36.8 L585.8 36.6 L587.3 36.5 L588.8 36.4 L590.4 36.5 L591.9 36.4 L593.4 36.4 L595 36.6 L596.5 36.9 L598 36.9 L599.6 36.7 L601.1 36.9 L602.6 36.7 L604.1 36.5 L605.7 36.5 L607.2 36.6 L608.7 36.7 L610.3 36.7 L611.8 36.8 L613.3 36.6 L614.9 36.9 L616.4 36.7 L617.9 36.9 L619.4 36.6 L621 36.8 L622.5 36.6 L624 36.8 L625.6 36.9 L627.1 36.9 L628.6 36.7 L630.2 36.4 L631.7 36.4 L633.2 36.7 L634.8 36.5 L636.3 36.7 L637.8 36.7 L639.3 36.8 L640.9 36.6 L642.4 36.4 L643.9 36.3 L645.5 36.7 L647 36.6 L648.5 36.7 L650.1 36.7 L651.6 36.5 L653.1 36.4 L654.6 36.2 L656.2 36.6 L657.7 36.4 L659.2 36.7 L660.8 36.6 L662.3 36.7 L663.8 36.5 L665.4 36.7 L666.9 36.5 L668.4 36.5 L669.9 36.5 L671.5 36.4 L673 36.3 L674.5 36.6 L676.1 36.5 L677.6 36.5 L679.1 36.7 L680.7 36.5 L682.2 36.4 L683.7 36.3 L685.3 36.4 L686.8 36.4 L688.3 36.5 L689.8 36.5 L691.4 36.7 L692.9 36.4 L694.4 36.6 L696 36.7 L697.5 36.5 L699 36.3 L700.6 36.4 L702.1 36.3 L703.6 36.4 L705.1 36.6 L706.7 36.3 L708.2 36.2 L709.7 36.4 L711.3 36.3 L712.8 36.3 L714.3 36.4 L715.9 36.2 L717.4 36.2 L718.9 36.3 L720.4 36.4 L722 36.7 L723.5 36.6 L725 36.4 L726.6 36.3 L728.1 36.5 L729.6 36.5 L731.2 36.7 L732.7 36.9 L734.2 36.9 L735.7 36.5 L737.3 36.7 L738.8 36.6 L740.3 36.4 L741.9 36.3 L742.8 36.6" fill="none" stroke="#9CC43E" stroke-width="1.05"/>
<path d="M437.4 213.7 L437.5 189.1 L437.6 152.5 L437.8 117.3 L438 87.3 L438.3 65.4 L438.8 50.6 L439.3 44.1 L440 40.6 L440.7 38.4 L441.5 37.7 L442.3 36.6 L443.1 35.4 L443.9 36 L444.7 35.3 L445.5 34.4 L446.3 33.5 L447.1 33.9 L447.9 33.8 L448.7 33 L449.5 33.1 L450.3 33.4 L451.1 33.2 L451.9 32.7 L452.7 32.7 L453.4 32.8 L454.2 32.8 L455 32.2 L455.7 32.6 L457.2 32.8 L458.8 32.6 L460.3 32.6 L461.8 32.1 L463.4 32.2 L464.9 31.6 L466.4 31.3 L468 31.4 L469.5 31.7 L471 31.2 L472.5 31 L474.1 30.7 L475.6 30.8 L477.1 30.7 L478.7 30.6 L480.2 30.9 L481.7 31 L483.3 31.2 L484.8 31 L486.3 31 L487.8 30.6 L489.4 30.9 L490.9 30.7 L492.4 30.7 L494 30.7 L495.5 30.9 L497 30.8 L498.6 30.9 L500.1 30.8 L501.6 30.5 L503.2 30.7 L504.7 30.4 L506.2 30.7 L507.7 30.6 L509.3 30.4 L510.8 30.6 L512.3 30.4 L513.9 30.3 L515.4 30.3 L516.9 30.4 L518.5 30.1 L520 30.1 L521.5 30 L523 30.3 L524.6 30 L526.1 30.2 L527.6 30.1 L529.2 30.1 L530.7 30.2 L532.2 30.3 L533.8 30.1 L535.3 30 L536.8 29.9 L538.3 30.2 L539.9 30 L541.4 29.9 L542.9 30 L544.5 30.1 L546 30.3 L547.5 30 L549.1 29.9 L550.6 29.8 L552.1 30 L553.6 30 L555.2 30 L556.7 30.2 L558.2 30.2 L559.8 30.3 L561.3 30.4 L562.8 30.1 L564.4 30.3 L565.9 30.1 L567.4 29.8 L569 30.1 L570.5 29.9 L572 29.7 L573.5 29.7 L575.1 29.7 L576.6 30.1 L578.1 30.2 L579.7 30 L581.2 30 L582.7 30.1 L584.3 30.2 L585.8 30.1 L587.3 30 L588.8 29.8 L590.4 29.7 L591.9 29.9 L593.4 29.9 L595 30.1 L596.5 30.2 L598 30.3 L599.6 29.9 L601.1 29.7 L602.6 30 L604.1 30 L605.7 29.7 L607.2 29.9 L608.7 29.7 L610.3 29.7 L611.8 29.7 L613.3 29.8 L614.9 29.9 L616.4 29.6 L617.9 29.8 L619.4 29.9 L621 29.8 L622.5 29.9 L624 30 L625.6 29.7 L627.1 29.7 L628.6 29.8 L630.2 29.9 L631.7 29.9 L633.2 29.7 L634.8 30 L636.3 30 L637.8 29.8 L639.3 29.7 L640.9 30 L642.4 29.7 L643.9 29.7 L645.5 30 L647 30.1 L648.5 29.8 L650.1 29.9 L651.6 29.7 L653.1 29.8 L654.6 29.9 L656.2 29.6 L657.7 29.5 L659.2 29.5 L660.8 29.5 L662.3 29.3 L663.8 29.3 L665.4 29.5 L666.9 29.5 L668.4 29.4 L669.9 29.6 L671.5 29.9 L673 29.8 L674.5 29.7 L676.1 29.8 L677.6 29.7 L679.1 29.5 L680.7 29.6 L682.2 29.4 L683.7 29.6 L685.3 29.5 L686.8 29.5 L688.3 29.8 L689.8 29.9 L691.4 30 L692.9 29.9 L694.4 29.9 L696 29.9 L697.5 30 L699 29.7 L700.6 29.8 L702.1 29.6 L703.6 29.5 L705.1 29.7 L706.7 29.7 L708.2 29.9 L709.7 30 L711.3 29.9 L712.8 29.6 L714.3 29.4 L715.9 29.5 L717.4 29.7 L718.9 29.5 L720.4 29.4 L722 29.2 L723.5 29.2 L725 29.5 L726.6 29.3 L728.1 29.3 L729.6 29.3 L731.2 29.6 L732.7 29.8 L734.2 29.5 L735.7 29.3 L737.3 29.7 L738.8 29.9 L740.3 29.6 L741.9 29.5 L742.8 29.6" fill="none" stroke="#86BA30" stroke-width="1.05"/>
<path d="M437.4 229.5 L437.5 219 L437.6 203.3 L437.8 187.3 L438 174.6 L438.3 166.7 L438.8 162.4 L439.3 160.6 L440 160.9 L440.7 161.3 L441.5 160.7 L442.3 161.3 L443.1 161.4 L443.9 160.9 L444.7 160.8 L445.5 160.3 L446.3 161.1 L447.1 161 L447.9 160.2 L448.7 160 L449.5 160.5 L450.3 160.4 L451.1 160.7 L451.9 160.3 L452.7 160.8 L453.4 161 L454.2 160.3 L455 160.5 L455.7 160.2 L457.2 160.5 L458.8 160.8 L460.3 160.9 L461.8 160.5 L463.4 160.1 L464.9 160.4 L466.4 160.4 L468 160.1 L469.5 160 L471 160.2 L472.5 160 L474.1 160.3 L475.6 160.1 L477.1 160.1 L478.7 160.2 L480.2 160.3 L481.7 160.4 L483.3 160.1 L484.8 160.3 L486.3 160.2 L487.8 160.1 L489.4 160.3 L490.9 160.4 L492.4 160.4 L494 160.6 L495.5 160.3 L497 160.2 L498.6 160.3 L500.1 160.2 L501.6 160.1 L503.2 160 L504.7 160.3 L506.2 160.5 L507.7 160.5 L509.3 160.7 L510.8 160.6 L512.3 160.4 L513.9 160.2 L515.4 160.4 L516.9 160.1 L518.5 160.2 L520 160 L521.5 159.9 L523 160.1 L524.6 160 L526.1 160.3 L527.6 160.5 L529.2 160.4 L530.7 160.2 L532.2 160 L533.8 160.1 L535.3 160.2 L536.8 160.2 L538.3 160.3 L539.9 160.3 L541.4 160.4 L542.9 160.2 L544.5 160 L546 160 L547.5 160.1 L549.1 160.1 L550.6 160.2 L552.1 160.1 L553.6 160.1 L555.2 160.1 L556.7 160.3 L558.2 160.4 L559.8 160.3 L561.3 160.2 L562.8 160.5 L564.4 160.6 L565.9 160.5 L567.4 160.2 L569 160.2 L570.5 160.3 L572 160.2 L573.5 160 L575.1 160.3 L576.6 160.5 L578.1 160.2 L579.7 160.2 L581.2 160.3 L582.7 160.2 L584.3 160 L585.8 160.2 L587.3 160.4 L588.8 160.3 L590.4 160 L591.9 160.1 L593.4 159.9 L595 160.3 L596.5 160 L598 160 L599.6 160.3 L601.1 160.1 L602.6 159.9 L604.1 159.9 L605.7 159.9 L607.2 160 L608.7 160.3 L610.3 160.1 L611.8 160 L613.3 160.2 L614.9 160.2 L616.4 160.1 L617.9 160 L619.4 160 L621 160.3 L622.5 160.1 L624 160 L625.6 160.2 L627.1 160.4 L628.6 160.5 L630.2 160.4 L631.7 160.5 L633.2 160.4 L634.8 160.2 L636.3 160.2 L637.8 160.3 L639.3 160.4 L640.9 160.1 L642.4 160 L643.9 160.3 L645.5 160.1 L647 160.3 L648.5 160.2 L650.1 160.1 L651.6 160 L653.1 160.1 L654.6 160.4 L656.2 160.1 L657.7 160.3 L659.2 160.2 L660.8 160 L662.3 160.2 L663.8 160.1 L665.4 160 L666.9 160.1 L668.4 160.3 L669.9 160.4 L671.5 160.4 L673 160.1 L674.5 160.3 L676.1 160.3 L677.6 160.5 L679.1 160.6 L680.7 160.3 L682.2 160.4 L683.7 160.5 L685.3 160.3 L686.8 160.2 L688.3 160.1 L689.8 160.1 L691.4 160.1 L692.9 159.9 L694.4 159.9 L696 160.3 L697.5 160.2 L699 160.3 L700.6 160.4 L702.1 160.5 L703.6 160.2 L705.1 160.4 L706.7 160.5 L708.2 160.6 L709.7 160.5 L711.3 160.5 L712.8 160.5 L714.3 160.3 L715.9 160.3 L717.4 160.2 L718.9 160.4 L720.4 160.1 L722 160.2 L723.5 160.1 L725 160.3 L726.6 160.2 L728.1 160.4 L729.6 160.5 L731.2 160.5 L732.7 160.2 L734.2 160.4 L735.7 160.4 L737.3 160.4 L738.8 160.4 L740.3 160.1 L741.9 160.3 L742.8 160.3" fill="none" stroke="#53B400" stroke-width="1.05"/>
<path d="M437.4 221.5 L437.5 204.2 L437.6 178.5 L437.8 152.7 L438 132.4 L438.3 117.1 L438.8 108.5 L439.3 104.4 L440 102.4 L440.7 101.8 L441.5 100.8 L442.3 101.5 L443.1 100.9 L443.9 100.2 L444.7 99.8 L445.5 100.5 L446.3 100.1 L447.1 100.2 L447.9 100.1 L448.7 100.6 L449.5 101 L450.3 100.4 L451.1 100.4 L451.9 100.7 L452.7 100.3 L453.4 100.6 L454.2 100.5 L455 100 L455.7 100.3 L457.2 100.1 L458.8 99.5 L460.3 99.6 L461.8 99.9 L463.4 99.7 L464.9 99.6 L466.4 99.5 L468 99.8 L469.5 99.7 L471 99.3 L472.5 99.2 L474.1 99.2 L475.6 99.6 L477.1 99.6 L478.7 99.2 L480.2 99.5 L481.7 99.1 L483.3 99.2 L484.8 99.2 L486.3 99.3 L487.8 99.2 L489.4 98.9 L490.9 99.1 L492.4 99.3 L494 99.4 L495.5 99.2 L497 99 L498.6 99.2 L500.1 99.3 L501.6 99 L503.2 99.3 L504.7 99.4 L506.2 99.2 L507.7 99.1 L509.3 99.2 L510.8 99.3 L512.3 99 L513.9 98.9 L515.4 98.9 L516.9 99.1 L518.5 98.9 L520 98.9 L521.5 99 L523 99.1 L524.6 98.8 L526.1 99.1 L527.6 99.3 L529.2 99.2 L530.7 99.2 L532.2 98.9 L533.8 99.1 L535.3 99.1 L536.8 99.1 L538.3 99.2 L539.9 99 L541.4 99.2 L542.9 98.9 L544.5 98.7 L546 98.8 L547.5 99 L549.1 99.2 L550.6 99.3 L552.1 99.1 L553.6 99.2 L555.2 99.1 L556.7 98.8 L558.2 98.9 L559.8 99 L561.3 98.9 L562.8 99 L564.4 98.8 L565.9 98.7 L567.4 98.7 L569 98.8 L570.5 98.8 L572 98.6 L573.5 98.5 L575.1 98.6 L576.6 98.8 L578.1 98.9 L579.7 98.8 L581.2 98.7 L582.7 98.8 L584.3 98.6 L585.8 98.8 L587.3 99 L588.8 98.8 L590.4 98.8 L591.9 98.9 L593.4 99 L595 99 L596.5 99 L598 98.8 L599.6 99 L601.1 99.1 L602.6 98.8 L604.1 99 L605.7 98.9 L607.2 98.6 L608.7 98.5 L610.3 98.8 L611.8 98.9 L613.3 98.7 L614.9 98.7 L616.4 98.8 L617.9 99 L619.4 98.8 L621 99 L622.5 98.7 L624 98.6 L625.6 98.5 L627.1 98.6 L628.6 98.7 L630.2 98.7 L631.7 98.5 L633.2 98.5 L634.8 98.4 L636.3 98.4 L637.8 98.5 L639.3 98.6 L640.9 98.5 L642.4 98.6 L643.9 98.7 L645.5 98.9 L647 98.9 L648.5 99 L650.1 98.9 L651.6 98.7 L653.1 98.8 L654.6 98.6 L656.2 98.5 L657.7 98.4 L659.2 98.7 L660.8 98.9 L662.3 98.8 L663.8 98.7 L665.4 98.7 L666.9 98.6 L668.4 98.8 L669.9 98.7 L671.5 98.5 L673 98.8 L674.5 98.8 L676.1 98.5 L677.6 98.8 L679.1 98.9 L680.7 98.7 L682.2 98.8 L683.7 99 L685.3 98.8 L686.8 98.7 L688.3 98.6 L689.8 98.7 L691.4 98.8 L692.9 98.9 L694.4 99 L696 98.7 L697.5 98.7 L699 98.9 L700.6 98.9 L702.1 98.9 L703.6 98.9 L705.1 98.7 L706.7 99 L708.2 98.9 L709.7 98.8 L711.3 98.6 L712.8 98.4 L714.3 98.8 L715.9 98.9 L717.4 98.6 L718.9 98.5 L720.4 98.6 L722 98.7 L723.5 98.6 L725 98.9 L726.6 98.7 L728.1 98.7 L729.6 98.9 L731.2 98.9 L732.7 98.8 L734.2 98.7 L735.7 98.6 L737.3 98.7 L738.8 98.9 L740.3 98.7 L741.9 98.6 L742.8 98.6" fill="none" stroke="#7EC850" stroke-width="1.05"/>
<path d="M437.4 220.7 L437.5 203.9 L437.6 176.3 L437.8 148.5 L438 126.7 L438.3 112.7 L438.8 103.1 L439.3 99.7 L440 97.1 L440.7 96.1 L441.5 95.2 L442.3 95.8 L443.1 95 L443.9 94.6 L444.7 94.1 L445.5 94.1 L446.3 94.7 L447.1 94.9 L447.9 95.3 L448.7 95.5 L449.5 95 L450.3 95.2 L451.1 94.3 L451.9 94.7 L452.7 94.4 L453.4 93.9 L454.2 94.2 L455 94.5 L455.7 94.1 L457.2 93.6 L458.8 94 L460.3 94.1 L461.8 94 L463.4 94.2 L464.9 93.5 L466.4 93.2 L468 93 L469.5 92.9 L471 93.3 L472.5 93.4 L474.1 93.1 L475.6 93 L477.1 92.9 L478.7 93.2 L480.2 93.4 L481.7 93.6 L483.3 93.4 L484.8 93.6 L486.3 93.4 L487.8 93.3 L489.4 93.1 L490.9 93 L492.4 93.3 L494 93.5 L495.5 93.5 L497 93.2 L498.6 93 L500.1 92.8 L501.6 92.9 L503.2 93.1 L504.7 92.9 L506.2 93 L507.7 93.1 L509.3 92.9 L510.8 92.9 L512.3 93.1 L513.9 93.1 L515.4 93.1 L516.9 93.2 L518.5 93.2 L520 93 L521.5 93 L523 93.2 L524.6 93.3 L526.1 93.4 L527.6 93.2 L529.2 92.9 L530.7 92.8 L532.2 92.8 L533.8 93 L535.3 92.7 L536.8 93 L538.3 93.1 L539.9 93 L541.4 92.7 L542.9 93 L544.5 92.9 L546 93 L547.5 93 L549.1 93.1 L550.6 93 L552.1 93.2 L553.6 93.3 L555.2 93.3 L556.7 93.2 L558.2 93 L559.8 92.9 L561.3 92.8 L562.8 93 L564.4 93.1 L565.9 93.1 L567.4 93.2 L569 93.3 L570.5 93.2 L572 93 L573.5 93 L575.1 92.8 L576.6 92.9 L578.1 92.7 L579.7 93 L581.2 92.9 L582.7 92.8 L584.3 93 L585.8 92.7 L587.3 93 L588.8 93.1 L590.4 92.8 L591.9 92.9 L593.4 92.9 L595 93.1 L596.5 93 L598 92.9 L599.6 93.1 L601.1 92.8 L602.6 92.9 L604.1 92.7 L605.7 92.6 L607.2 92.5 L608.7 92.8 L610.3 92.8 L611.8 92.9 L613.3 92.7 L614.9 92.9 L616.4 92.9 L617.9 92.7 L619.4 92.7 L621 92.9 L622.5 92.7 L624 92.8 L625.6 92.7 L627.1 92.7 L628.6 92.9 L630.2 93.1 L631.7 93.2 L633.2 93 L634.8 92.9 L636.3 93 L637.8 93 L639.3 92.9 L640.9 93 L642.4 92.9 L643.9 93 L645.5 92.9 L647 92.7 L648.5 92.8 L650.1 92.6 L651.6 92.8 L653.1 92.5 L654.6 92.9 L656.2 92.8 L657.7 92.9 L659.2 92.7 L660.8 92.8 L662.3 92.7 L663.8 92.6 L665.4 92.8 L666.9 92.6 L668.4 92.6 L669.9 92.5 L671.5 92.8 L673 93 L674.5 92.6 L676.1 92.7 L677.6 92.7 L679.1 92.8 L680.7 92.9 L682.2 92.7 L683.7 93 L685.3 92.7 L686.8 92.5 L688.3 92.8 L689.8 92.6 L691.4 92.5 L692.9 92.6 L694.4 92.6 L696 92.5 L697.5 92.8 L699 92.8 L700.6 92.9 L702.1 92.7 L703.6 92.9 L705.1 92.7 L706.7 92.9 L708.2 92.9 L709.7 93 L711.3 93 L712.8 93 L714.3 92.9 L715.9 93 L717.4 92.8 L718.9 92.6 L720.4 92.8 L722 92.9 L723.5 92.9 L725 93 L726.6 92.7 L728.1 92.7 L729.6 92.9 L731.2 93 L732.7 93.1 L734.2 92.7 L735.7 92.8 L737.3 92.8 L738.8 92.7 L740.3 92.5 L741.9 92.4 L742.8 92.5" fill="none" stroke="#5DC063" stroke-width="1.05"/>
<path d="M437.4 219.3 L437.5 200.2 L437.6 170.9 L437.8 142.3 L438 119.7 L438.3 103.5 L438.8 93.1 L439.3 89.6 L440 87.1 L440.7 86.9 L441.5 86.6 L442.3 84.9 L443.1 84.6 L443.9 85 L444.7 84.2 L445.5 83.9 L446.3 83.4 L447.1 82.6 L447.9 82.4 L448.7 82.2 L449.5 82.2 L450.3 82.6 L451.1 82.7 L451.9 83.2 L452.7 83.1 L453.4 82.7 L454.2 83.1 L455 82.9 L455.7 82.7 L457.2 82.9 L458.8 82.7 L460.3 82.3 L461.8 82.3 L463.4 82 L464.9 82.3 L466.4 81.9 L468 82.3 L469.5 81.7 L471 81.4 L472.5 81.6 L474.1 81.4 L475.6 81.6 L477.1 81.4 L478.7 81.7 L480.2 81.8 L481.7 81.8 L483.3 82 L484.8 82.1 L486.3 81.9 L487.8 81.9 L489.4 81.4 L490.9 81.2 L492.4 81.3 L494 81.6 L495.5 81.4 L497 81.5 L498.6 81.2 L500.1 81.2 L501.6 81.5 L503.2 81.5 L504.7 81.6 L506.2 81.2 L507.7 81.1 L509.3 81.1 L510.8 81.4 L512.3 81.1 L513.9 81.4 L515.4 81.3 L516.9 81.5 L518.5 81.4 L520 81.3 L521.5 81.5 L523 81.3 L524.6 81.4 L526.1 81.1 L527.6 81.3 L529.2 81.5 L530.7 81.2 L532.2 81.3 L533.8 81.2 L535.3 81 L536.8 81 L538.3 81.2 L539.9 81.4 L541.4 81.6 L542.9 81.6 L544.5 81.5 L546 81.4 L547.5 81.1 L549.1 81.3 L550.6 81.2 L552.1 81.1 L553.6 81.3 L555.2 81.1 L556.7 81 L558.2 80.9 L559.8 80.8 L561.3 81 L562.8 81.2 L564.4 81 L565.9 81.1 L567.4 81.1 L569 81.1 L570.5 81.1 L572 81.1 L573.5 80.9 L575.1 80.7 L576.6 80.9 L578.1 80.8 L579.7 81.1 L581.2 80.9 L582.7 81.2 L584.3 81 L585.8 80.8 L587.3 80.9 L588.8 80.9 L590.4 80.9 L591.9 81.1 L593.4 80.9 L595 81.1 L596.5 81.2 L598 81.1 L599.6 81.1 L601.1 81.3 L602.6 81.2 L604.1 81 L605.7 80.8 L607.2 80.7 L608.7 80.8 L610.3 80.7 L611.8 80.9 L613.3 80.9 L614.9 80.9 L616.4 80.9 L617.9 81.2 L619.4 81 L621 80.8 L622.5 80.8 L624 80.8 L625.6 81.1 L627.1 81.2 L628.6 81.1 L630.2 80.9 L631.7 80.7 L633.2 80.6 L634.8 81 L636.3 81.1 L637.8 80.9 L639.3 81 L640.9 80.8 L642.4 80.9 L643.9 80.8 L645.5 80.7 L647 80.9 L648.5 81.1 L650.1 81 L651.6 80.8 L653.1 81 L654.6 80.9 L656.2 81 L657.7 80.8 L659.2 81.1 L660.8 80.8 L662.3 80.7 L663.8 80.8 L665.4 80.7 L666.9 80.6 L668.4 80.9 L669.9 81.2 L671.5 81 L673 80.8 L674.5 81 L676.1 80.8 L677.6 80.8 L679.1 81 L680.7 80.9 L682.2 80.8 L683.7 80.6 L685.3 80.8 L686.8 81.1 L688.3 81.2 L689.8 80.9 L691.4 80.9 L692.9 80.9 L694.4 80.8 L696 80.9 L697.5 80.9 L699 81.1 L700.6 80.9 L702.1 81.1 L703.6 81.2 L705.1 81.1 L706.7 80.8 L708.2 80.9 L709.7 80.7 L711.3 80.9 L712.8 81 L714.3 81 L715.9 81.2 L717.4 80.8 L718.9 81 L720.4 81.1 L722 80.8 L723.5 80.8 L725 80.6 L726.6 80.8 L728.1 81 L729.6 80.9 L731.2 81 L732.7 80.9 L734.2 81 L735.7 80.8 L737.3 81.1 L738.8 81 L740.3 80.7 L741.9 80.6 L742.8 80.8" fill="none" stroke="#40BA50" stroke-width="1.05"/>
<path d="M437.4 224.1 L437.5 210.2 L437.6 186.3 L437.8 164.5 L438 146.9 L438.3 134 L438.8 127.1 L439.3 124.7 L440 122.5 L440.7 121.6 L441.5 121.5 L442.3 122.3 L443.1 122.8 L443.9 122 L444.7 122.4 L445.5 122.4 L446.3 122.4 L447.1 122 L447.9 122.3 L448.7 122 L449.5 122.2 L450.3 121.8 L451.1 121.1 L451.9 121.1 L452.7 121 L453.4 120.8 L454.2 120.7 L455 120.8 L455.7 120.9 L457.2 120.6 L458.8 120.4 L460.3 120.6 L461.8 120.6 L463.4 120.6 L464.9 120.7 L466.4 120.4 L468 120.5 L469.5 120.4 L471 120.7 L472.5 120.8 L474.1 120.9 L475.6 120.7 L477.1 120.5 L478.7 120.7 L480.2 120.6 L481.7 120.5 L483.3 120.3 L484.8 120.3 L486.3 120.5 L487.8 120.7 L489.4 120.5 L490.9 120.6 L492.4 120.4 L494 120.3 L495.5 120.3 L497 120.2 L498.6 120.2 L500.1 120.4 L501.6 120.5 L503.2 120.3 L504.7 120.2 L506.2 120.4 L507.7 120.5 L509.3 120.5 L510.8 120.5 L512.3 120.5 L513.9 120.3 L515.4 120.1 L516.9 120.1 L518.5 120 L520 120.3 L521.5 120.3 L523 120.4 L524.6 120.6 L526.1 120.6 L527.6 120.3 L529.2 120.2 L530.7 120 L532.2 120.3 L533.8 120.4 L535.3 120.3 L536.8 120.2 L538.3 120.1 L539.9 120.2 L541.4 120.3 L542.9 120.5 L544.5 120.6 L546 120.6 L547.5 120.4 L549.1 120.3 L550.6 120.2 L552.1 120.4 L553.6 120.2 L555.2 120 L556.7 120 L558.2 120.3 L559.8 120.5 L561.3 120.3 L562.8 120.4 L564.4 120.5 L565.9 120.3 L567.4 120.1 L569 120.3 L570.5 120.2 L572 120 L573.5 120.3 L575.1 120.2 L576.6 120.2 L578.1 120.2 L579.7 120.1 L581.2 119.9 L582.7 120 L584.3 120 L585.8 119.8 L587.3 119.9 L588.8 120.2 L590.4 120.1 L591.9 120.2 L593.4 120.3 L595 120.1 L596.5 119.9 L598 120.1 L599.6 120.2 L601.1 120.1 L602.6 120 L604.1 120.2 L605.7 120.4 L607.2 120.2 L608.7 120.2 L610.3 120.2 L611.8 120.1 L613.3 119.9 L614.9 119.9 L616.4 120.1 L617.9 120.2 L619.4 120.2 L621 120 L622.5 119.9 L624 119.9 L625.6 120 L627.1 120 L628.6 120.3 L630.2 120 L631.7 120.3 L633.2 120.1 L634.8 120.3 L636.3 120.1 L637.8 120.2 L639.3 120.1 L640.9 119.9 L642.4 120.2 L643.9 120.3 L645.5 120.1 L647 120.3 L648.5 120.2 L650.1 120.4 L651.6 120.1 L653.1 120 L654.6 119.9 L656.2 120.1 L657.7 120.3 L659.2 120.4 L660.8 120.3 L662.3 120.2 L663.8 120.3 L665.4 120 L666.9 120 L668.4 120.2 L669.9 120.1 L671.5 120.4 L673 120.1 L674.5 120.1 L676.1 120 L677.6 119.8 L679.1 119.7 L680.7 119.7 L682.2 119.8 L683.7 119.9 L685.3 120 L686.8 120 L688.3 120.1 L689.8 120.1 L691.4 120.4 L692.9 120.1 L694.4 120.1 L696 120.1 L697.5 120 L699 120.3 L700.6 120 L702.1 120.3 L703.6 120.1 L705.1 120 L706.7 120.1 L708.2 120.2 L709.7 120 L711.3 119.9 L712.8 120.2 L714.3 120.1 L715.9 119.9 L717.4 120.1 L718.9 120.1 L720.4 120 L722 120 L723.5 120.2 L725 120.1 L726.6 120 L728.1 120.3 L729.6 120.1 L731.2 120.1 L732.7 119.9 L734.2 120.1 L735.7 120.2 L737.3 120.1 L738.8 120.1 L740.3 119.9 L741.9 120.2 L742.8 120.1" fill="none" stroke="#00BA38" stroke-width="1.05"/>
<path d="M437.4 229.3 L437.5 219.2 L437.6 203.5 L437.8 186.5 L438 174 L438.3 167.4 L438.8 163.2 L439.3 161.5 L440 160.6 L440.7 160.2 L441.5 159.4 L442.3 159 L443.1 159.5 L443.9 159.8 L444.7 159.3 L445.5 159.6 L446.3 159 L447.1 159.3 L447.9 158.9 L448.7 159.1 L449.5 159 L450.3 159.2 L451.1 158.8 L451.9 159 L452.7 159.2 L453.4 158.8 L454.2 158.8 L455 159.2 L455.7 159.2 L457.2 159.3 L458.8 159.5 L460.3 159.4 L461.8 159.1 L463.4 159 L464.9 159.4 L466.4 159.3 L468 159.4 L469.5 159.2 L471 159.1 L472.5 159.4 L474.1 159.5 L475.6 159.4 L477.1 159 L478.7 159.1 L480.2 158.8 L481.7 159.2 L483.3 159.4 L484.8 159.4 L486.3 159.1 L487.8 159.3 L489.4 159 L490.9 159.2 L492.4 159.1 L494 158.8 L495.5 159.1 L497 159 L498.6 159.2 L500.1 159.2 L501.6 159.1 L503.2 159.3 L504.7 159 L506.2 159.2 L507.7 159 L509.3 158.8 L510.8 158.8 L512.3 158.6 L513.9 158.6 L515.4 158.8 L516.9 158.7 L518.5 158.7 L520 158.7 L521.5 158.7 L523 159 L524.6 159.2 L526.1 159.3 L527.6 159.4 L529.2 159.2 L530.7 159.2 L532.2 159 L533.8 159.2 L535.3 159.3 L536.8 159.2 L538.3 159 L539.9 158.8 L541.4 159.1 L542.9 159 L544.5 159.1 L546 159.2 L547.5 158.9 L549.1 159 L550.6 159 L552.1 159.1 L553.6 159 L555.2 158.8 L556.7 159.1 L558.2 158.9 L559.8 159.1 L561.3 159.2 L562.8 158.9 L564.4 159 L565.9 158.9 L567.4 158.8 L569 158.7 L570.5 159.1 L572 158.9 L573.5 158.9 L575.1 158.9 L576.6 158.7 L578.1 158.9 L579.7 159.1 L581.2 159.2 L582.7 159 L584.3 158.8 L585.8 158.8 L587.3 159 L588.8 159 L590.4 158.9 L591.9 159 L593.4 158.8 L595 159.1 L596.5 159 L598 159 L599.6 159.1 L601.1 158.9 L602.6 159 L604.1 158.9 L605.7 159.1 L607.2 158.8 L608.7 158.7 L610.3 158.9 L611.8 158.9 L613.3 158.9 L614.9 158.9 L616.4 158.8 L617.9 158.8 L619.4 158.6 L621 158.9 L622.5 158.8 L624 159 L625.6 159 L627.1 159 L628.6 159 L630.2 158.8 L631.7 159 L633.2 158.9 L634.8 159.1 L636.3 159.1 L637.8 159.1 L639.3 159.2 L640.9 159 L642.4 159.1 L643.9 159.2 L645.5 158.9 L647 158.7 L648.5 158.8 L650.1 158.8 L651.6 158.7 L653.1 158.7 L654.6 159 L656.2 158.9 L657.7 158.7 L659.2 158.6 L660.8 158.8 L662.3 158.7 L663.8 158.8 L665.4 158.9 L666.9 158.9 L668.4 158.9 L669.9 159.1 L671.5 158.8 L673 159 L674.5 158.8 L676.1 158.6 L677.6 158.9 L679.1 158.9 L680.7 158.9 L682.2 158.8 L683.7 159 L685.3 158.9 L686.8 159 L688.3 158.8 L689.8 158.9 L691.4 159 L692.9 158.9 L694.4 158.9 L696 158.7 L697.5 158.9 L699 159 L700.6 158.8 L702.1 158.9 L703.6 159 L705.1 158.8 L706.7 159 L708.2 159.1 L709.7 158.8 L711.3 158.7 L712.8 158.6 L714.3 158.6 L715.9 158.5 L717.4 158.7 L718.9 158.7 L720.4 158.7 L722 158.8 L723.5 158.8 L725 159 L726.6 159 L728.1 158.8 L729.6 158.7 L731.2 158.5 L732.7 158.6 L734.2 158.6 L735.7 158.8 L737.3 159 L738.8 159.2 L740.3 158.9 L741.9 158.7 L742.8 158.9" fill="none" stroke="#00BA38" stroke-width="1.05"/>
<path d="M437.4 222.1 L437.5 206.6 L437.6 180.6 L437.8 154.8 L438 134.1 L438.3 121.8 L438.8 113.8 L439.3 110.1 L440 108.5 L440.7 108.3 L441.5 108.2 L442.3 107.4 L443.1 106.5 L443.9 106.2 L444.7 106.8 L445.5 106.3 L446.3 106.4 L447.1 106.2 L447.9 106 L448.7 106 L449.5 105.5 L450.3 105.6 L451.1 106 L451.9 105.3 L452.7 105.2 L453.4 105.7 L454.2 106.1 L455 105.2 L455.7 105.4 L457.2 105.5 L458.8 105.7 L460.3 105.4 L461.8 104.9 L463.4 104.8 L464.9 105.1 L466.4 105.2 L468 104.9 L469.5 105 L471 105.1 L472.5 105.1 L474.1 104.7 L475.6 104.7 L477.1 104.6 L478.7 104.8 L480.2 104.7 L481.7 104.5 L483.3 104.7 L484.8 104.6 L486.3 104.8 L487.8 104.7 L489.4 104.7 L490.9 104.9 L492.4 104.6 L494 104.8 L495.5 104.5 L497 104.8 L498.6 104.5 L500.1 104.7 L501.6 104.6 L503.2 104.4 L504.7 104.5 L506.2 104.5 L507.7 104.5 L509.3 104.4 L510.8 104.5 L512.3 104.4 L513.9 104.7 L515.4 104.6 L516.9 104.6 L518.5 104.4 L520 104.7 L521.5 104.6 L523 104.6 L524.6 104.8 L526.1 104.6 L527.6 104.7 L529.2 104.5 L530.7 104.3 L532.2 104.2 L533.8 104.3 L535.3 104.6 L536.8 104.4 L538.3 104.4 L539.9 104.6 L541.4 104.4 L542.9 104.3 L544.5 104.4 L546 104.4 L547.5 104.7 L549.1 104.8 L550.6 104.5 L552.1 104.5 L553.6 104.5 L555.2 104.2 L556.7 104.3 L558.2 104.6 L559.8 104.4 L561.3 104.5 L562.8 104.6 L564.4 104.3 L565.9 104.6 L567.4 104.3 L569 104.3 L570.5 104.5 L572 104.2 L573.5 104.2 L575.1 104.1 L576.6 104.3 L578.1 104.1 L579.7 104.1 L581.2 104.1 L582.7 104 L584.3 104 L585.8 104 L587.3 104.2 L588.8 104.1 L590.4 104.4 L591.9 104.4 L593.4 104.3 L595 104.2 L596.5 104.5 L598 104.2 L599.6 104.4 L601.1 104.2 L602.6 104.5 L604.1 104.4 L605.7 104.5 L607.2 104.6 L608.7 104.3 L610.3 104.1 L611.8 104.3 L613.3 104.4 L614.9 104.5 L616.4 104.3 L617.9 104.4 L619.4 104.2 L621 104.3 L622.5 104.2 L624 104.3 L625.6 104.2 L627.1 104.2 L628.6 104.3 L630.2 104.1 L631.7 104.4 L633.2 104.4 L634.8 104.2 L636.3 104.1 L637.8 104.2 L639.3 104.3 L640.9 104.4 L642.4 104.3 L643.9 104.3 L645.5 104.5 L647 104.3 L648.5 104.6 L650.1 104.7 L651.6 104.8 L653.1 104.8 L654.6 104.5 L656.2 104.6 L657.7 104.5 L659.2 104.3 L660.8 104.6 L662.3 104.5 L663.8 104.6 L665.4 104.5 L666.9 104.2 L668.4 104.5 L669.9 104.2 L671.5 104.2 L673 104.3 L674.5 104.2 L676.1 104.2 L677.6 104.4 L679.1 104.2 L680.7 104.3 L682.2 104.1 L683.7 104.2 L685.3 104.3 L686.8 104.4 L688.3 104.2 L689.8 104.1 L691.4 104.4 L692.9 104.3 L694.4 104.3 L696 104.2 L697.5 104.4 L699 104.5 L700.6 104.5 L702.1 104.4 L703.6 104.4 L705.1 104.4 L706.7 104.2 L708.2 104.5 L709.7 104.6 L711.3 104.6 L712.8 104.7 L714.3 104.5 L715.9 104.6 L717.4 104.3 L718.9 104.4 L720.4 104.5 L722 104.6 L723.5 104.7 L725 104.7 L726.6 104.4 L728.1 104.5 L729.6 104.4 L731.2 104.3 L732.7 104.2 L734.2 104.4 L735.7 104.5 L737.3 104.6 L738.8 104.5 L740.3 104.3 L741.9 104.1 L742.8 104.2" fill="none" stroke="#00B050" stroke-width="1.05"/>
<path d="M437.4 220.6 L437.5 202.3 L437.6 174.2 L437.8 146.6 L438 125.9 L438.3 110.5 L438.8 102.6 L439.3 98.2 L440 97.2 L440.7 95.7 L441.5 94.7 L442.3 94.3 L443.1 93.3 L443.9 93.4 L444.7 93.3 L445.5 92.7 L446.3 93.5 L447.1 93.2 L447.9 92.5 L448.7 93.3 L449.5 92.8 L450.3 92.6 L451.1 92.1 L451.9 91.9 L452.7 92.5 L453.4 92.7 L454.2 92.7 L455 92.4 L455.7 92.2 L457.2 92.8 L458.8 92.5 L460.3 92.9 L461.8 92.9 L463.4 92.3 L464.9 92.5 L466.4 92 L468 92.2 L469.5 92.4 L471 92.4 L472.5 92.3 L474.1 92.4 L475.6 92 L477.1 92 L478.7 91.8 L480.2 91.8 L481.7 91.6 L483.3 91.9 L484.8 91.9 L486.3 92.1 L487.8 92 L489.4 92 L490.9 92.2 L492.4 92.2 L494 92 L495.5 91.8 L497 92 L498.6 91.8 L500.1 91.6 L501.6 91.5 L503.2 91.7 L504.7 92 L506.2 91.9 L507.7 91.9 L509.3 92 L510.8 92 L512.3 91.8 L513.9 91.7 L515.4 91.8 L516.9 91.6 L518.5 91.4 L520 91.6 L521.5 91.8 L523 91.6 L524.6 91.7 L526.1 91.8 L527.6 91.5 L529.2 91.4 L530.7 91.5 L532.2 91.4 L533.8 91.7 L535.3 91.9 L536.8 91.7 L538.3 91.8 L539.9 91.8 L541.4 91.5 L542.9 91.8 L544.5 91.5 L546 91.3 L547.5 91.4 L549.1 91.2 L550.6 91.3 L552.1 91.4 L553.6 91.7 L555.2 91.6 L556.7 91.7 L558.2 91.8 L559.8 91.7 L561.3 91.5 L562.8 91.4 L564.4 91.4 L565.9 91.4 L567.4 91.5 L569 91.5 L570.5 91.4 L572 91.5 L573.5 91.7 L575.1 91.5 L576.6 91.4 L578.1 91.2 L579.7 91.1 L581.2 91 L582.7 91.2 L584.3 91.5 L585.8 91.6 L587.3 91.7 L588.8 91.8 L590.4 91.7 L591.9 91.6 L593.4 91.3 L595 91.3 L596.5 91.2 L598 91.4 L599.6 91.2 L601.1 91.3 L602.6 91.3 L604.1 91.3 L605.7 91.3 L607.2 91.2 L608.7 91.4 L610.3 91.6 L611.8 91.5 L613.3 91.3 L614.9 91.4 L616.4 91.6 L617.9 91.7 L619.4 91.7 L621 91.3 L622.5 91.6 L624 91.6 L625.6 91.4 L627.1 91.6 L628.6 91.7 L630.2 91.7 L631.7 91.5 L633.2 91.5 L634.8 91.4 L636.3 91.3 L637.8 91.4 L639.3 91.5 L640.9 91.3 L642.4 91.4 L643.9 91.6 L645.5 91.5 L647 91.7 L648.5 91.6 L650.1 91.7 L651.6 91.3 L653.1 91.3 L654.6 91.4 L656.2 91.5 L657.7 91.7 L659.2 91.6 L660.8 91.5 L662.3 91.5 L663.8 91.4 L665.4 91.5 L666.9 91.7 L668.4 91.3 L669.9 91.2 L671.5 91.5 L673 91.2 L674.5 91.4 L676.1 91.1 L677.6 91.3 L679.1 91.5 L680.7 91.3 L682.2 91.2 L683.7 91.1 L685.3 91.3 L686.8 91.3 L688.3 91.4 L689.8 91.3 L691.4 91.3 L692.9 91.6 L694.4 91.6 L696 91.7 L697.5 91.4 L699 91.4 L700.6 91.3 L702.1 91.2 L703.6 91.4 L705.1 91.2 L706.7 91.3 L708.2 91.4 L709.7 91.6 L711.3 91.2 L712.8 91.2 L714.3 91.2 L715.9 91.5 L717.4 91.2 L718.9 91.4 L720.4 91.3 L722 91.3 L723.5 91.5 L725 91.2 L726.6 91.2 L728.1 91.1 L729.6 91 L731.2 91 L732.7 91.3 L734.2 91.3 L735.7 91.1 L737.3 91.4 L738.8 91.3 L740.3 91.1 L741.9 91.4 L742.8 91.5" fill="none" stroke="#00C08B" stroke-width="1.05"/>
<path d="M437.4 232.9 L437.5 226.3 L437.6 215.4 L437.8 203.3 L438 193.8 L438.3 189.6 L438.8 187.3 L439.3 185.1 L440 185.4 L440.7 185.6 L441.5 185.5 L442.3 185.7 L443.1 186.1 L443.9 185.2 L444.7 185.5 L445.5 185.8 L446.3 185 L447.1 185.1 L447.9 185.2 L448.7 185.4 L449.5 185.2 L450.3 184.7 L451.1 184.4 L451.9 184.5 L452.7 184.2 L453.4 184.8 L454.2 185.2 L455 184.6 L455.7 184.8 L457.2 184.9 L458.8 184.4 L460.3 184.8 L461.8 184.9 L463.4 184.6 L464.9 184.3 L466.4 184.2 L468 184.6 L469.5 184.6 L471 184.8 L472.5 184.5 L474.1 184.2 L475.6 184.3 L477.1 184.7 L478.7 184.4 L480.2 184.2 L481.7 184.5 L483.3 184.3 L484.8 184.5 L486.3 184.3 L487.8 184.3 L489.4 184.5 L490.9 184.7 L492.4 184.6 L494 184.5 L495.5 184.3 L497 184.3 L498.6 184.3 L500.1 184.6 L501.6 184.7 L503.2 184.8 L504.7 184.7 L506.2 184.7 L507.7 184.4 L509.3 184.4 L510.8 184.4 L512.3 184.3 L513.9 184.5 L515.4 184.4 L516.9 184.4 L518.5 184.3 L520 184.6 L521.5 184.6 L523 184.6 L524.6 184.5 L526.1 184.7 L527.6 184.9 L529.2 184.7 L530.7 184.7 L532.2 184.8 L533.8 184.5 L535.3 184.4 L536.8 184.3 L538.3 184.4 L539.9 184.6 L541.4 184.4 L542.9 184.4 L544.5 184.7 L546 184.6 L547.5 184.5 L549.1 184.7 L550.6 184.8 L552.1 184.6 L553.6 184.4 L555.2 184.5 L556.7 184.6 L558.2 184.8 L559.8 184.8 L561.3 184.6 L562.8 184.5 L564.4 184.4 L565.9 184.4 L567.4 184.5 L569 184.7 L570.5 184.8 L572 184.9 L573.5 184.7 L575.1 184.9 L576.6 184.5 L578.1 184.7 L579.7 184.7 L581.2 184.8 L582.7 184.6 L584.3 184.8 L585.8 184.4 L587.3 184.7 L588.8 184.8 L590.4 184.6 L591.9 184.7 L593.4 184.5 L595 184.6 L596.5 184.6 L598 184.5 L599.6 184.4 L601.1 184.6 L602.6 184.7 L604.1 184.4 L605.7 184.7 L607.2 184.5 L608.7 184.4 L610.3 184.4 L611.8 184.5 L613.3 184.7 L614.9 184.8 L616.4 184.8 L617.9 184.6 L619.4 184.4 L621 184.2 L622.5 184.4 L624 184.5 L625.6 184.5 L627.1 184.7 L628.6 184.6 L630.2 184.5 L631.7 184.4 L633.2 184.3 L634.8 184.6 L636.3 184.6 L637.8 184.6 L639.3 184.5 L640.9 184.4 L642.4 184.3 L643.9 184.4 L645.5 184.4 L647 184.7 L648.5 184.6 L650.1 184.4 L651.6 184.2 L653.1 184.2 L654.6 184.3 L656.2 184.5 L657.7 184.7 L659.2 184.5 L660.8 184.6 L662.3 184.5 L663.8 184.5 L665.4 184.5 L666.9 184.3 L668.4 184.2 L669.9 184.4 L671.5 184.5 L673 184.5 L674.5 184.7 L676.1 184.8 L677.6 184.6 L679.1 184.3 L680.7 184.4 L682.2 184.5 L683.7 184.4 L685.3 184.2 L686.8 184.3 L688.3 184.2 L689.8 184.4 L691.4 184.5 L692.9 184.4 L694.4 184.4 L696 184.3 L697.5 184.2 L699 184.2 L700.6 184.5 L702.1 184.5 L703.6 184.6 L705.1 184.5 L706.7 184.6 L708.2 184.6 L709.7 184.6 L711.3 184.5 L712.8 184.5 L714.3 184.4 L715.9 184.7 L717.4 184.7 L718.9 184.6 L720.4 184.6 L722 184.4 L723.5 184.3 L725 184.3 L726.6 184.6 L728.1 184.3 L729.6 184.4 L731.2 184.6 L732.7 184.7 L734.2 184.7 L735.7 184.5 L737.3 184.4 L738.8 184.5 L740.3 184.4 L741.9 184.6 L742.8 184.5" fill="none" stroke="#00C08B" stroke-width="1.05"/>
<path d="M437.4 224.8 L437.5 211.2 L437.6 189.6 L437.8 168.3 L438 150.4 L438.3 139.8 L438.8 131.8 L439.3 129.8 L440 127.6 L440.7 127.4 L441.5 127 L442.3 127.3 L443.1 126.7 L443.9 126.2 L444.7 126.8 L445.5 126.7 L446.3 126.9 L447.1 126.6 L447.9 125.8 L448.7 126.3 L449.5 125.9 L450.3 125.9 L451.1 125.4 L451.9 125.4 L452.7 125.8 L453.4 126.2 L454.2 126.2 L455 126 L455.7 126.2 L457.2 126.2 L458.8 125.7 L460.3 125.8 L461.8 125.8 L463.4 126 L464.9 125.6 L466.4 125.5 L468 125.4 L469.5 125.2 L471 125.3 L472.5 125.6 L474.1 125.6 L475.6 125.4 L477.1 125.6 L478.7 125.3 L480.2 125.6 L481.7 125.3 L483.3 125.2 L484.8 125.2 L486.3 125.3 L487.8 125.3 L489.4 125.6 L490.9 125.8 L492.4 125.5 L494 125.6 L495.5 125.7 L497 125.6 L498.6 125.4 L500.1 125.7 L501.6 125.8 L503.2 125.4 L504.7 125.3 L506.2 125.3 L507.7 125.2 L509.3 125.2 L510.8 125.5 L512.3 125.2 L513.9 125.5 L515.4 125.3 L516.9 125.1 L518.5 125.4 L520 125.3 L521.5 125.2 L523 125.1 L524.6 125.1 L526.1 125 L527.6 125 L529.2 125 L530.7 125.2 L532.2 125.3 L533.8 125.2 L535.3 125.3 L536.8 125.4 L538.3 125.5 L539.9 125.4 L541.4 125.6 L542.9 125.6 L544.5 125.5 L546 125.4 L547.5 125.3 L549.1 125.1 L550.6 125.4 L552.1 125.4 L553.6 125.2 L555.2 125.5 L556.7 125.6 L558.2 125.2 L559.8 125.4 L561.3 125.2 L562.8 125.3 L564.4 125.5 L565.9 125.3 L567.4 125.3 L569 125.4 L570.5 125.2 L572 125.3 L573.5 125.3 L575.1 125.5 L576.6 125.3 L578.1 125.4 L579.7 125.1 L581.2 125.1 L582.7 125 L584.3 124.9 L585.8 125.1 L587.3 125 L588.8 125.3 L590.4 125.1 L591.9 125.2 L593.4 125.4 L595 125.2 L596.5 125.1 L598 125.3 L599.6 125.3 L601.1 125.5 L602.6 125.3 L604.1 125.2 L605.7 125.5 L607.2 125.3 L608.7 125.5 L610.3 125.6 L611.8 125.3 L613.3 125.3 L614.9 125.5 L616.4 125.2 L617.9 125.4 L619.4 125.5 L621 125.5 L622.5 125.4 L624 125.2 L625.6 125.4 L627.1 125.1 L628.6 125.3 L630.2 125.4 L631.7 125.2 L633.2 125.3 L634.8 125.3 L636.3 125.4 L637.8 125.1 L639.3 125.4 L640.9 125.3 L642.4 125.4 L643.9 125.3 L645.5 125.4 L647 125.2 L648.5 125.3 L650.1 125 L651.6 125.1 L653.1 125 L654.6 125.3 L656.2 125.3 L657.7 125.3 L659.2 125.5 L660.8 125.6 L662.3 125.7 L663.8 125.3 L665.4 125.3 L666.9 125.4 L668.4 125.4 L669.9 125.1 L671.5 125.4 L673 125.3 L674.5 125.3 L676.1 125.4 L677.6 125.2 L679.1 125 L680.7 125.3 L682.2 125.2 L683.7 125 L685.3 124.9 L686.8 125.3 L688.3 125.4 L689.8 125.2 L691.4 125 L692.9 125.3 L694.4 125.3 L696 125.3 L697.5 125.1 L699 125.1 L700.6 125.4 L702.1 125.1 L703.6 125.1 L705.1 124.9 L706.7 125.3 L708.2 125.1 L709.7 125.4 L711.3 125.5 L712.8 125.5 L714.3 125.1 L715.9 125.3 L717.4 125.2 L718.9 125.2 L720.4 125 L722 125.1 L723.5 125.3 L725 125.1 L726.6 125.3 L728.1 125.2 L729.6 125.1 L731.2 125 L732.7 125.1 L734.2 125.2 L735.7 125.2 L737.3 125.4 L738.8 125.3 L740.3 125.3 L741.9 125.5 L742.8 125.2" fill="none" stroke="#00C19F" stroke-width="1.05"/>
<path d="M437.4 236.3 L437.5 231.1 L437.6 224.3 L437.8 217.2 L438 212.5 L438.3 208.8 L438.8 208.5 L439.3 207.9 L440 208.4 L440.7 208.4 L441.5 208.4 L442.3 208.5 L443.1 207.8 L443.9 208 L444.7 207.4 L445.5 207.5 L446.3 207.7 L447.1 208 L447.9 207.4 L448.7 207.2 L449.5 207.8 L450.3 208.1 L451.1 208.4 L451.9 207.6 L452.7 207.2 L453.4 206.9 L454.2 207.5 L455 207.8 L455.7 207.8 L457.2 208 L458.8 207.8 L460.3 207.7 L461.8 208 L463.4 207.9 L464.9 207.9 L466.4 207.8 L468 207.7 L469.5 207.8 L471 207.7 L472.5 207.4 L474.1 207.4 L475.6 207.4 L477.1 207.4 L478.7 207.5 L480.2 207.4 L481.7 207.4 L483.3 207.4 L484.8 207.4 L486.3 207.7 L487.8 207.4 L489.4 207.2 L490.9 207.5 L492.4 207.4 L494 207.4 L495.5 207.5 L497 207.4 L498.6 207.3 L500.1 207.1 L501.6 207.5 L503.2 207.8 L504.7 207.5 L506.2 207.5 L507.7 207.4 L509.3 207.2 L510.8 207.6 L512.3 207.7 L513.9 207.5 L515.4 207.4 L516.9 207.5 L518.5 207.7 L520 207.6 L521.5 207.5 L523 207.4 L524.6 207.6 L526.1 207.7 L527.6 207.8 L529.2 207.5 L530.7 207.5 L532.2 207.8 L533.8 207.8 L535.3 207.6 L536.8 207.4 L538.3 207.2 L539.9 207.5 L541.4 207.3 L542.9 207.5 L544.5 207.6 L546 207.5 L547.5 207.7 L549.1 207.8 L550.6 207.8 L552.1 207.4 L553.6 207.5 L555.2 207.5 L556.7 207.4 L558.2 207.6 L559.8 207.7 L561.3 207.4 L562.8 207.3 L564.4 207.3 L565.9 207.4 L567.4 207.4 L569 207.4 L570.5 207.6 L572 207.4 L573.5 207.6 L575.1 207.5 L576.6 207.7 L578.1 207.8 L579.7 207.6 L581.2 207.6 L582.7 207.4 L584.3 207.4 L585.8 207.5 L587.3 207.6 L588.8 207.5 L590.4 207.2 L591.9 207.2 L593.4 207.4 L595 207.3 L596.5 207.3 L598 207.4 L599.6 207.7 L601.1 207.6 L602.6 207.4 L604.1 207.5 L605.7 207.4 L607.2 207.6 L608.7 207.4 L610.3 207.3 L611.8 207.4 L613.3 207.6 L614.9 207.4 L616.4 207.3 L617.9 207.2 L619.4 207.2 L621 207.3 L622.5 207.3 L624 207.5 L625.6 207.5 L627.1 207.5 L628.6 207.4 L630.2 207.6 L631.7 207.8 L633.2 207.6 L634.8 207.8 L636.3 207.5 L637.8 207.8 L639.3 207.7 L640.9 207.7 L642.4 207.5 L643.9 207.4 L645.5 207.3 L647 207.6 L648.5 207.5 L650.1 207.6 L651.6 207.5 L653.1 207.5 L654.6 207.4 L656.2 207.3 L657.7 207.3 L659.2 207.5 L660.8 207.5 L662.3 207.3 L663.8 207.5 L665.4 207.5 L666.9 207.3 L668.4 207.2 L669.9 207.2 L671.5 207.5 L673 207.5 L674.5 207.4 L676.1 207.3 L677.6 207.3 L679.1 207.3 L680.7 207.3 L682.2 207.5 L683.7 207.7 L685.3 207.7 L686.8 207.8 L688.3 207.7 L689.8 207.4 L691.4 207.2 L692.9 207.2 L694.4 207.2 L696 207.4 L697.5 207.6 L699 207.6 L700.6 207.5 L702.1 207.4 L703.6 207.7 L705.1 207.7 L706.7 207.5 L708.2 207.3 L709.7 207.6 L711.3 207.4 L712.8 207.6 L714.3 207.4 L715.9 207.5 L717.4 207.4 L718.9 207.7 L720.4 207.5 L722 207.3 L723.5 207.2 L725 207.5 L726.6 207.7 L728.1 207.7 L729.6 207.7 L731.2 207.5 L732.7 207.4 L734.2 207.2 L735.7 207.6 L737.3 207.3 L738.8 207.5 L740.3 207.4 L741.9 207.3 L742.8 207.4" fill="none" stroke="#00C19F" stroke-width="1.05"/>
<path d="M437.4 231.3 L437.5 222.8 L437.6 208.8 L437.8 196.1 L438 186.4 L438.3 179.9 L438.8 175.7 L439.3 175.3 L440 173.9 L440.7 173.4 L441.5 173.2 L442.3 173.6 L443.1 173.7 L443.9 173.9 L444.7 174.2 L445.5 174.6 L446.3 174.2 L447.1 173.4 L447.9 174 L448.7 173.3 L449.5 173.3 L450.3 173 L451.1 173.5 L451.9 173.9 L452.7 173.4 L453.4 173.3 L454.2 173.9 L455 174 L455.7 173.5 L457.2 173.7 L458.8 174 L460.3 173.8 L461.8 173.4 L463.4 173.7 L464.9 173.5 L466.4 173.3 L468 173.2 L469.5 173.3 L471 173.2 L472.5 173.3 L474.1 173.5 L475.6 173.6 L477.1 173.5 L478.7 173.8 L480.2 173.4 L481.7 173.4 L483.3 173.8 L484.8 173.9 L486.3 174 L487.8 174 L489.4 173.8 L490.9 173.9 L492.4 173.8 L494 173.5 L495.5 173.4 L497 173.2 L498.6 173.6 L500.1 173.5 L501.6 173.5 L503.2 173.5 L504.7 173.3 L506.2 173.5 L507.7 173.7 L509.3 173.8 L510.8 173.9 L512.3 173.6 L513.9 173.4 L515.4 173.6 L516.9 173.7 L518.5 173.6 L520 173.5 L521.5 173.3 L523 173.6 L524.6 173.6 L526.1 173.7 L527.6 173.6 L529.2 173.5 L530.7 173.5 L532.2 173.6 L533.8 173.8 L535.3 173.6 L536.8 173.7 L538.3 173.6 L539.9 173.7 L541.4 173.8 L542.9 173.7 L544.5 173.6 L546 173.4 L547.5 173.7 L549.1 173.8 L550.6 173.6 L552.1 173.3 L553.6 173.3 L555.2 173.6 L556.7 173.4 L558.2 173.6 L559.8 173.6 L561.3 173.6 L562.8 173.6 L564.4 173.5 L565.9 173.5 L567.4 173.3 L569 173.6 L570.5 173.4 L572 173.3 L573.5 173.5 L575.1 173.6 L576.6 173.7 L578.1 173.7 L579.7 173.8 L581.2 173.5 L582.7 173.3 L584.3 173.2 L585.8 173.5 L587.3 173.3 L588.8 173.4 L590.4 173.6 L591.9 173.4 L593.4 173.5 L595 173.7 L596.5 173.7 L598 173.6 L599.6 173.5 L601.1 173.4 L602.6 173.7 L604.1 173.8 L605.7 173.7 L607.2 173.5 L608.7 173.6 L610.3 173.6 L611.8 173.7 L613.3 173.6 L614.9 173.7 L616.4 173.7 L617.9 173.6 L619.4 173.6 L621 173.7 L622.5 173.6 L624 173.8 L625.6 173.4 L627.1 173.7 L628.6 173.7 L630.2 173.6 L631.7 173.7 L633.2 173.5 L634.8 173.4 L636.3 173.6 L637.8 173.7 L639.3 173.6 L640.9 173.8 L642.4 173.7 L643.9 173.4 L645.5 173.3 L647 173.2 L648.5 173.4 L650.1 173.3 L651.6 173.3 L653.1 173.4 L654.6 173.2 L656.2 173.6 L657.7 173.7 L659.2 173.6 L660.8 173.6 L662.3 173.4 L663.8 173.5 L665.4 173.4 L666.9 173.7 L668.4 173.8 L669.9 173.8 L671.5 173.8 L673 173.5 L674.5 173.3 L676.1 173.3 L677.6 173.2 L679.1 173.3 L680.7 173.6 L682.2 173.7 L683.7 173.9 L685.3 173.6 L686.8 173.4 L688.3 173.2 L689.8 173.2 L691.4 173.1 L692.9 173.3 L694.4 173.3 L696 173.5 L697.5 173.5 L699 173.6 L700.6 173.4 L702.1 173.6 L703.6 173.6 L705.1 173.7 L706.7 173.6 L708.2 173.5 L709.7 173.4 L711.3 173.2 L712.8 173.3 L714.3 173.5 L715.9 173.3 L717.4 173.6 L718.9 173.7 L720.4 173.8 L722 173.8 L723.5 173.7 L725 173.4 L726.6 173.4 L728.1 173.5 L729.6 173.8 L731.2 173.5 L732.7 173.2 L734.2 173.3 L735.7 173.3 L737.3 173.4 L738.8 173.3 L740.3 173.5 L741.9 173.4 L742.8 173.7" fill="none" stroke="#00C1AA" stroke-width="1.05"/>
<path d="M437.4 217 L437.5 195.7 L437.6 163 L437.8 132.2 L438 106.4 L438.3 88.1 L438.8 75.7 L439.3 70.7 L440 68.7 L440.7 68 L441.5 67.3 L442.3 65.4 L443.1 64.6 L443.9 65.1 L444.7 64.5 L445.5 64.7 L446.3 63.7 L447.1 62.8 L447.9 63.4 L448.7 62.8 L449.5 62.8 L450.3 62.5 L451.1 62.6 L451.9 63 L452.7 63.2 L453.4 63.2 L454.2 62.4 L455 62.6 L455.7 61.9 L457.2 61.8 L458.8 62.2 L460.3 61.7 L461.8 61.5 L463.4 61.6 L464.9 61.3 L466.4 61.5 L468 61.6 L469.5 61.1 L471 61.5 L472.5 61.1 L474.1 61.3 L475.6 61.1 L477.1 60.9 L478.7 60.7 L480.2 61.2 L481.7 61.3 L483.3 61.1 L484.8 61.2 L486.3 61.4 L487.8 61.4 L489.4 61.2 L490.9 60.9 L492.4 60.9 L494 61.2 L495.5 61.1 L497 61.1 L498.6 61.1 L500.1 60.9 L501.6 60.9 L503.2 61 L504.7 60.7 L506.2 60.9 L507.7 60.6 L509.3 60.6 L510.8 60.7 L512.3 60.5 L513.9 60.8 L515.4 60.7 L516.9 60.5 L518.5 60.5 L520 60.6 L521.5 60.6 L523 60.3 L524.6 60.2 L526.1 60.5 L527.6 60.3 L529.2 60.3 L530.7 60.6 L532.2 60.7 L533.8 60.8 L535.3 60.5 L536.8 60.3 L538.3 60.5 L539.9 60.5 L541.4 60.4 L542.9 60.2 L544.5 60.3 L546 60.2 L547.5 60.4 L549.1 60.7 L550.6 60.4 L552.1 60.2 L553.6 60.4 L555.2 60.2 L556.7 60.2 L558.2 60.2 L559.8 60.6 L561.3 60.4 L562.8 60.3 L564.4 60.3 L565.9 60.2 L567.4 60.2 L569 60.4 L570.5 60.3 L572 60.5 L573.5 60.3 L575.1 60.1 L576.6 60.3 L578.1 60.3 L579.7 60.5 L581.2 60.2 L582.7 60.4 L584.3 60.5 L585.8 60.3 L587.3 60.1 L588.8 60.3 L590.4 60.4 L591.9 60.4 L593.4 60.3 L595 60.4 L596.5 60.4 L598 60.3 L599.6 60.2 L601.1 60.2 L602.6 60.3 L604.1 60.5 L605.7 60.6 L607.2 60.5 L608.7 60.3 L610.3 60.2 L611.8 60.3 L613.3 60.4 L614.9 60.2 L616.4 60.3 L617.9 60.5 L619.4 60.4 L621 60.5 L622.5 60.4 L624 60.4 L625.6 60.5 L627.1 60.2 L628.6 60.2 L630.2 60.4 L631.7 60.1 L633.2 60.1 L634.8 60.1 L636.3 60.3 L637.8 60.3 L639.3 60.5 L640.9 60.5 L642.4 60.1 L643.9 59.9 L645.5 59.8 L647 60 L648.5 59.8 L650.1 60 L651.6 60.2 L653.1 60 L654.6 60.3 L656.2 60.2 L657.7 60.4 L659.2 60.2 L660.8 60.3 L662.3 60.3 L663.8 60.1 L665.4 60.3 L666.9 60 L668.4 59.9 L669.9 60 L671.5 60.2 L673 60.2 L674.5 60 L676.1 60 L677.6 60.1 L679.1 60.3 L680.7 60 L682.2 60.2 L683.7 60.1 L685.3 60.2 L686.8 60.1 L688.3 60.1 L689.8 60.4 L691.4 60.5 L692.9 60.5 L694.4 60.5 L696 60.4 L697.5 60.1 L699 59.9 L700.6 60.2 L702.1 60.2 L703.6 60.3 L705.1 60.1 L706.7 60 L708.2 60.3 L709.7 60.2 L711.3 59.9 L712.8 59.9 L714.3 59.9 L715.9 59.8 L717.4 60.2 L718.9 60.4 L720.4 60.4 L722 60 L723.5 60 L725 59.9 L726.6 60.1 L728.1 60.3 L729.6 60.3 L731.2 60.4 L732.7 60.1 L734.2 59.8 L735.7 59.8 L737.3 60.1 L738.8 60.3 L740.3 60.2 L741.9 60 L742.8 60.2" fill="none" stroke="#00BFC4" stroke-width="1.05"/>
<path d="M437.4 221.9 L437.5 204.7 L437.6 178.3 L437.8 154.3 L438 133.9 L438.3 120.6 L438.8 113 L439.3 109.2 L440 108.3 L440.7 107.4 L441.5 107.1 L442.3 106.9 L443.1 105.3 L443.9 105.4 L444.7 104.6 L445.5 104.2 L446.3 104 L447.1 104.8 L447.9 103.9 L448.7 103.9 L449.5 103.5 L450.3 104.3 L451.1 104.1 L451.9 104.2 L452.7 104 L453.4 104.2 L454.2 103.8 L455 103.6 L455.7 103.9 L457.2 103.9 L458.8 104.1 L460.3 103.6 L461.8 103.8 L463.4 103.8 L464.9 103.7 L466.4 103.4 L468 103.4 L469.5 103 L471 102.8 L472.5 102.9 L474.1 102.7 L475.6 102.6 L477.1 103 L478.7 103.2 L480.2 103.2 L481.7 103 L483.3 103.2 L484.8 103.3 L486.3 103.3 L487.8 103 L489.4 103.1 L490.9 103 L492.4 102.9 L494 102.7 L495.5 103 L497 103.1 L498.6 103.3 L500.1 103 L501.6 102.8 L503.2 102.9 L504.7 102.7 L506.2 102.7 L507.7 102.8 L509.3 102.8 L510.8 103.1 L512.3 103 L513.9 103.1 L515.4 103 L516.9 103.1 L518.5 102.9 L520 102.6 L521.5 103 L523 103.1 L524.6 102.8 L526.1 102.6 L527.6 102.6 L529.2 102.8 L530.7 102.6 L532.2 102.5 L533.8 102.6 L535.3 102.5 L536.8 102.5 L538.3 102.6 L539.9 102.5 L541.4 102.4 L542.9 102.5 L544.5 102.5 L546 102.5 L547.5 102.6 L549.1 102.6 L550.6 102.6 L552.1 102.4 L553.6 102.8 L555.2 102.9 L556.7 102.8 L558.2 102.6 L559.8 102.5 L561.3 102.8 L562.8 102.8 L564.4 102.6 L565.9 102.8 L567.4 103 L569 102.7 L570.5 102.7 L572 102.8 L573.5 102.6 L575.1 102.5 L576.6 102.7 L578.1 102.8 L579.7 102.8 L581.2 102.8 L582.7 102.7 L584.3 102.5 L585.8 102.4 L587.3 102.7 L588.8 102.9 L590.4 103 L591.9 102.7 L593.4 102.8 L595 102.6 L596.5 102.6 L598 102.5 L599.6 102.8 L601.1 102.9 L602.6 103 L604.1 102.8 L605.7 103 L607.2 102.7 L608.7 102.7 L610.3 102.8 L611.8 102.6 L613.3 102.6 L614.9 102.4 L616.4 102.7 L617.9 102.5 L619.4 102.4 L621 102.4 L622.5 102.6 L624 102.7 L625.6 102.7 L627.1 102.9 L628.6 102.9 L630.2 102.7 L631.7 102.7 L633.2 102.5 L634.8 102.5 L636.3 102.4 L637.8 102.3 L639.3 102.4 L640.9 102.7 L642.4 102.8 L643.9 102.5 L645.5 102.4 L647 102.6 L648.5 102.6 L650.1 102.4 L651.6 102.3 L653.1 102.5 L654.6 102.6 L656.2 102.4 L657.7 102.7 L659.2 102.5 L660.8 102.6 L662.3 102.6 L663.8 102.6 L665.4 102.8 L666.9 102.7 L668.4 102.6 L669.9 102.7 L671.5 102.8 L673 103 L674.5 103 L676.1 102.8 L677.6 102.9 L679.1 102.8 L680.7 103 L682.2 103.1 L683.7 103 L685.3 102.7 L686.8 102.7 L688.3 102.6 L689.8 102.5 L691.4 102.7 L692.9 102.5 L694.4 102.7 L696 102.6 L697.5 102.6 L699 102.7 L700.6 102.8 L702.1 103 L703.6 103.1 L705.1 103 L706.7 102.7 L708.2 102.8 L709.7 102.7 L711.3 102.9 L712.8 102.7 L714.3 102.6 L715.9 102.4 L717.4 102.5 L718.9 102.5 L720.4 102.5 L722 102.3 L723.5 102.5 L725 102.3 L726.6 102.3 L728.1 102.4 L729.6 102.4 L731.2 102.5 L732.7 102.6 L734.2 102.5 L735.7 102.4 L737.3 102.2 L738.8 102.4 L740.3 102.7 L741.9 102.6 L742.8 102.5" fill="none" stroke="#00BFC4" stroke-width="1.05"/>
<path d="M437.4 232.7 L437.5 225.6 L437.6 213.9 L437.8 203 L438 193 L438.3 187.1 L438.8 184 L439.3 183.1 L440 183 L440.7 182.9 L441.5 183.9 L442.3 183.5 L443.1 183.6 L443.9 184.2 L444.7 184 L445.5 183.8 L446.3 184 L447.1 183.4 L447.9 182.7 L448.7 183.5 L449.5 183.4 L450.3 183.4 L451.1 182.8 L451.9 183.2 L452.7 183.1 L453.4 183.3 L454.2 183 L455 183.5 L455.7 183.2 L457.2 182.9 L458.8 183.4 L460.3 183 L461.8 182.9 L463.4 183 L464.9 183.4 L466.4 183 L468 182.8 L469.5 183.2 L471 182.8 L472.5 182.9 L474.1 183.2 L475.6 183.3 L477.1 183.4 L478.7 183 L480.2 183.3 L481.7 183.1 L483.3 183.3 L484.8 183.2 L486.3 183.4 L487.8 183.2 L489.4 183 L490.9 182.8 L492.4 182.9 L494 182.7 L495.5 182.7 L497 183.1 L498.6 183.1 L500.1 183.3 L501.6 183 L503.2 183 L504.7 183 L506.2 182.8 L507.7 182.8 L509.3 183.1 L510.8 183.2 L512.3 183.1 L513.9 183.2 L515.4 183.3 L516.9 183.4 L518.5 183.3 L520 182.9 L521.5 183.2 L523 182.9 L524.6 182.9 L526.1 182.7 L527.6 182.9 L529.2 183 L530.7 183 L532.2 183 L533.8 182.8 L535.3 183 L536.8 183 L538.3 182.9 L539.9 183.2 L541.4 183.3 L542.9 183.4 L544.5 183.5 L546 183.1 L547.5 183 L549.1 183 L550.6 182.9 L552.1 183.1 L553.6 183.3 L555.2 183 L556.7 183 L558.2 183.2 L559.8 183.3 L561.3 183.2 L562.8 182.9 L564.4 182.9 L565.9 183 L567.4 183.1 L569 182.9 L570.5 182.9 L572 183.2 L573.5 182.9 L575.1 183 L576.6 182.8 L578.1 183 L579.7 183 L581.2 183.2 L582.7 183 L584.3 183.2 L585.8 183 L587.3 182.8 L588.8 182.7 L590.4 182.6 L591.9 182.7 L593.4 183.1 L595 183 L596.5 183.1 L598 182.8 L599.6 182.9 L601.1 183 L602.6 182.8 L604.1 182.9 L605.7 182.9 L607.2 182.9 L608.7 183.1 L610.3 183.2 L611.8 182.9 L613.3 182.8 L614.9 182.6 L616.4 182.7 L617.9 182.9 L619.4 183.2 L621 183.3 L622.5 183.4 L624 183 L625.6 183.2 L627.1 183.2 L628.6 183.1 L630.2 183.3 L631.7 183.2 L633.2 182.9 L634.8 182.8 L636.3 182.7 L637.8 182.9 L639.3 183 L640.9 183.2 L642.4 182.9 L643.9 182.7 L645.5 183.1 L647 182.9 L648.5 182.8 L650.1 183.1 L651.6 182.9 L653.1 183.1 L654.6 183.2 L656.2 183.2 L657.7 183.1 L659.2 182.8 L660.8 183 L662.3 183 L663.8 183.2 L665.4 183.1 L666.9 182.9 L668.4 182.8 L669.9 183 L671.5 182.8 L673 182.7 L674.5 182.7 L676.1 183 L677.6 183 L679.1 182.9 L680.7 183.2 L682.2 183.2 L683.7 183 L685.3 183 L686.8 183.2 L688.3 183 L689.8 183 L691.4 183 L692.9 183.3 L694.4 183.2 L696 183 L697.5 183 L699 182.9 L700.6 182.9 L702.1 183.1 L703.6 182.8 L705.1 182.9 L706.7 182.9 L708.2 183 L709.7 183.1 L711.3 183.1 L712.8 183.1 L714.3 183 L715.9 182.9 L717.4 182.9 L718.9 183 L720.4 182.8 L722 183 L723.5 183 L725 182.9 L726.6 182.8 L728.1 183.1 L729.6 183.2 L731.2 183.4 L732.7 183.1 L734.2 182.8 L735.7 183 L737.3 182.7 L738.8 183 L740.3 183.1 L741.9 183 L742.8 183" fill="none" stroke="#00BFC4" stroke-width="1.05"/>
<path d="M437.4 236.1 L437.5 231.2 L437.6 224.1 L437.8 218 L438 213 L438.3 209.7 L438.8 207 L439.3 206.1 L440 205.8 L440.7 205.4 L441.5 206.2 L442.3 206.5 L443.1 207.2 L443.9 207 L444.7 207.4 L445.5 207 L446.3 206.8 L447.1 206.4 L447.9 206.4 L448.7 207.1 L449.5 206.8 L450.3 206.1 L451.1 206.1 L451.9 206 L452.7 206.4 L453.4 206.5 L454.2 206.5 L455 207 L455.7 207 L457.2 206.4 L458.8 206 L460.3 206.4 L461.8 206.6 L463.4 206.7 L464.9 206.6 L466.4 206.2 L468 206.3 L469.5 206.7 L471 206.7 L472.5 206.3 L474.1 206.1 L475.6 206.6 L477.1 206.6 L478.7 206.3 L480.2 206.6 L481.7 206.8 L483.3 206.9 L484.8 206.8 L486.3 206.9 L487.8 206.5 L489.4 206.5 L490.9 206.7 L492.4 206.5 L494 206.3 L495.5 206.6 L497 206.7 L498.6 206.3 L500.1 206.2 L501.6 206.4 L503.2 206.7 L504.7 206.7 L506.2 206.8 L507.7 206.5 L509.3 206.5 L510.8 206.4 L512.3 206.3 L513.9 206.2 L515.4 206.3 L516.9 206.2 L518.5 206.4 L520 206.5 L521.5 206.7 L523 206.8 L524.6 206.4 L526.1 206.7 L527.6 206.6 L529.2 206.8 L530.7 206.7 L532.2 206.4 L533.8 206.5 L535.3 206.4 L536.8 206.7 L538.3 206.6 L539.9 206.8 L541.4 206.7 L542.9 206.5 L544.5 206.6 L546 206.7 L547.5 206.6 L549.1 206.4 L550.6 206.4 L552.1 206.6 L553.6 206.4 L555.2 206.3 L556.7 206.4 L558.2 206.5 L559.8 206.3 L561.3 206.3 L562.8 206.6 L564.4 206.4 L565.9 206.6 L567.4 206.5 L569 206.3 L570.5 206.4 L572 206.6 L573.5 206.7 L575.1 206.4 L576.6 206.5 L578.1 206.6 L579.7 206.5 L581.2 206.6 L582.7 206.6 L584.3 206.4 L585.8 206.5 L587.3 206.3 L588.8 206.3 L590.4 206.6 L591.9 206.6 L593.4 206.6 L595 206.6 L596.5 206.6 L598 206.5 L599.6 206.5 L601.1 206.3 L602.6 206.3 L604.1 206.2 L605.7 206.6 L607.2 206.7 L608.7 206.7 L610.3 206.4 L611.8 206.7 L613.3 206.5 L614.9 206.6 L616.4 206.7 L617.9 206.6 L619.4 206.7 L621 206.5 L622.5 206.7 L624 206.6 L625.6 206.7 L627.1 206.8 L628.6 206.5 L630.2 206.5 L631.7 206.4 L633.2 206.2 L634.8 206.5 L636.3 206.6 L637.8 206.6 L639.3 206.6 L640.9 206.7 L642.4 206.4 L643.9 206.4 L645.5 206.5 L647 206.5 L648.5 206.5 L650.1 206.4 L651.6 206.3 L653.1 206.5 L654.6 206.4 L656.2 206.7 L657.7 206.8 L659.2 206.9 L660.8 206.6 L662.3 206.6 L663.8 206.3 L665.4 206.3 L666.9 206.2 L668.4 206.3 L669.9 206.6 L671.5 206.7 L673 206.5 L674.5 206.4 L676.1 206.7 L677.6 206.4 L679.1 206.6 L680.7 206.7 L682.2 206.4 L683.7 206.7 L685.3 206.7 L686.8 206.5 L688.3 206.5 L689.8 206.5 L691.4 206.5 L692.9 206.7 L694.4 206.8 L696 206.6 L697.5 206.3 L699 206.5 L700.6 206.6 L702.1 206.6 L703.6 206.4 L705.1 206.2 L706.7 206.5 L708.2 206.5 L709.7 206.5 L711.3 206.7 L712.8 206.5 L714.3 206.5 L715.9 206.3 L717.4 206.4 L718.9 206.6 L720.4 206.4 L722 206.6 L723.5 206.8 L725 206.8 L726.6 206.8 L728.1 206.9 L729.6 206.8 L731.2 206.7 L732.7 206.8 L734.2 206.8 L735.7 206.7 L737.3 206.7 L738.8 206.5 L740.3 206.4 L741.9 206.4 L742.8 206.6" fill="none" stroke="#00BCD8" stroke-width="1.05"/>
<path d="M437.4 226.8 L437.5 214.4 L437.6 196.1 L437.8 175.6 L438 160.1 L438.3 150.6 L438.8 144.7 L439.3 143.8 L440 142.7 L440.7 142.2 L441.5 142.7 L442.3 142.3 L443.1 142.3 L443.9 141.9 L444.7 141.7 L445.5 142.3 L446.3 141.6 L447.1 141.6 L447.9 141.5 L448.7 141 L449.5 140.7 L450.3 141 L451.1 141.5 L451.9 141.3 L452.7 140.8 L453.4 141.5 L454.2 141 L455 141.5 L455.7 140.9 L457.2 141.2 L458.8 140.8 L460.3 140.7 L461.8 140.8 L463.4 141.1 L464.9 141.1 L466.4 141 L468 140.9 L469.5 141 L471 140.8 L472.5 141.2 L474.1 140.9 L475.6 140.7 L477.1 140.8 L478.7 140.8 L480.2 141 L481.7 140.7 L483.3 140.9 L484.8 140.8 L486.3 141.1 L487.8 140.9 L489.4 140.9 L490.9 140.8 L492.4 140.9 L494 140.7 L495.5 140.9 L497 140.8 L498.6 141 L500.1 140.8 L501.6 140.8 L503.2 140.9 L504.7 141 L506.2 141 L507.7 140.9 L509.3 140.7 L510.8 140.5 L512.3 140.5 L513.9 140.5 L515.4 140.5 L516.9 140.7 L518.5 140.7 L520 141 L521.5 140.8 L523 140.7 L524.6 140.6 L526.1 140.5 L527.6 140.7 L529.2 140.8 L530.7 140.7 L532.2 140.9 L533.8 140.9 L535.3 140.8 L536.8 140.9 L538.3 140.9 L539.9 140.8 L541.4 140.6 L542.9 140.6 L544.5 140.9 L546 140.8 L547.5 140.9 L549.1 140.6 L550.6 140.8 L552.1 141 L553.6 140.8 L555.2 140.7 L556.7 140.8 L558.2 140.7 L559.8 140.6 L561.3 140.5 L562.8 140.7 L564.4 140.7 L565.9 141 L567.4 141.1 L569 141.2 L570.5 141.2 L572 141.2 L573.5 140.8 L575.1 140.6 L576.6 140.9 L578.1 141 L579.7 141 L581.2 140.9 L582.7 140.8 L584.3 140.8 L585.8 140.6 L587.3 140.7 L588.8 140.6 L590.4 140.5 L591.9 140.8 L593.4 140.8 L595 141 L596.5 140.8 L598 140.8 L599.6 140.7 L601.1 140.9 L602.6 140.7 L604.1 140.8 L605.7 140.8 L607.2 140.7 L608.7 140.5 L610.3 140.6 L611.8 140.7 L613.3 140.9 L614.9 140.7 L616.4 140.5 L617.9 140.5 L619.4 140.8 L621 140.6 L622.5 140.7 L624 140.5 L625.6 140.4 L627.1 140.7 L628.6 140.7 L630.2 140.5 L631.7 140.6 L633.2 140.9 L634.8 140.8 L636.3 140.8 L637.8 140.7 L639.3 140.7 L640.9 140.5 L642.4 140.8 L643.9 140.8 L645.5 140.7 L647 140.6 L648.5 140.5 L650.1 140.8 L651.6 140.9 L653.1 140.8 L654.6 140.8 L656.2 140.8 L657.7 140.6 L659.2 140.4 L660.8 140.7 L662.3 140.5 L663.8 140.6 L665.4 140.4 L666.9 140.3 L668.4 140.3 L669.9 140.6 L671.5 140.7 L673 141 L674.5 140.9 L676.1 140.8 L677.6 140.5 L679.1 140.8 L680.7 140.8 L682.2 140.9 L683.7 140.6 L685.3 140.8 L686.8 140.8 L688.3 140.6 L689.8 140.6 L691.4 140.4 L692.9 140.6 L694.4 140.5 L696 140.7 L697.5 140.5 L699 140.7 L700.6 140.8 L702.1 140.8 L703.6 141 L705.1 140.8 L706.7 140.8 L708.2 140.7 L709.7 140.9 L711.3 141 L712.8 141 L714.3 140.9 L715.9 140.7 L717.4 140.9 L718.9 141.1 L720.4 141.1 L722 140.9 L723.5 140.9 L725 140.9 L726.6 141 L728.1 141 L729.6 140.9 L731.2 140.7 L732.7 140.9 L734.2 140.9 L735.7 140.8 L737.3 140.9 L738.8 140.6 L740.3 140.4 L741.9 140.5 L742.8 140.4" fill="none" stroke="#00B9E3" stroke-width="1.05"/>
<path d="M437.4 234.4 L437.5 228.1 L437.6 219.8 L437.8 209.9 L438 202.3 L438.3 198.9 L438.8 196.9 L439.3 195.7 L440 195.6 L440.7 195.5 L441.5 196.1 L442.3 195.7 L443.1 195.5 L443.9 195.3 L444.7 195.1 L445.5 195.4 L446.3 194.7 L447.1 195.2 L447.9 195.7 L448.7 195.8 L449.5 195.5 L450.3 195.2 L451.1 194.6 L451.9 194.4 L452.7 194.7 L453.4 195.3 L454.2 195.6 L455 195 L455.7 195.3 L457.2 195.5 L458.8 195.3 L460.3 195.5 L461.8 195 L463.4 194.9 L464.9 195 L466.4 195.2 L468 195.1 L469.5 194.9 L471 195.3 L472.5 195.1 L474.1 195 L475.6 194.8 L477.1 194.9 L478.7 195.1 L480.2 195 L481.7 195.1 L483.3 195.1 L484.8 194.8 L486.3 195.2 L487.8 195 L489.4 195 L490.9 195.3 L492.4 195 L494 194.8 L495.5 194.7 L497 194.7 L498.6 195 L500.1 195 L501.6 194.8 L503.2 194.8 L504.7 194.9 L506.2 194.8 L507.7 194.8 L509.3 195.1 L510.8 195 L512.3 194.9 L513.9 195 L515.4 194.8 L516.9 194.9 L518.5 195 L520 194.8 L521.5 194.9 L523 194.9 L524.6 195.1 L526.1 195.1 L527.6 195.3 L529.2 195.2 L530.7 195 L532.2 194.8 L533.8 195 L535.3 195.2 L536.8 194.9 L538.3 194.9 L539.9 194.8 L541.4 194.9 L542.9 195.1 L544.5 195.1 L546 195.2 L547.5 195.2 L549.1 195 L550.6 195.1 L552.1 195 L553.6 195 L555.2 195 L556.7 195.1 L558.2 194.9 L559.8 195.1 L561.3 194.9 L562.8 194.9 L564.4 195.1 L565.9 195.3 L567.4 195.1 L569 195.3 L570.5 194.9 L572 195.2 L573.5 195 L575.1 194.8 L576.6 195 L578.1 194.8 L579.7 195 L581.2 194.8 L582.7 194.7 L584.3 194.8 L585.8 194.7 L587.3 194.8 L588.8 194.8 L590.4 195 L591.9 195 L593.4 195.2 L595 195.3 L596.5 195 L598 195.2 L599.6 195.3 L601.1 195.2 L602.6 195.1 L604.1 194.9 L605.7 194.9 L607.2 194.8 L608.7 194.7 L610.3 194.9 L611.8 194.9 L613.3 195.1 L614.9 195.1 L616.4 195.2 L617.9 194.9 L619.4 195.1 L621 195.1 L622.5 195.1 L624 194.9 L625.6 195.1 L627.1 195 L628.6 195.1 L630.2 195.1 L631.7 194.9 L633.2 194.8 L634.8 195 L636.3 194.8 L637.8 194.9 L639.3 195 L640.9 195.1 L642.4 195 L643.9 195 L645.5 195 L647 195.1 L648.5 194.9 L650.1 194.9 L651.6 194.8 L653.1 195 L654.6 194.9 L656.2 194.8 L657.7 194.7 L659.2 195.1 L660.8 195 L662.3 195.2 L663.8 195.2 L665.4 195 L666.9 195 L668.4 194.8 L669.9 195.1 L671.5 195.1 L673 194.9 L674.5 194.9 L676.1 195 L677.6 195.1 L679.1 194.9 L680.7 195.2 L682.2 195.2 L683.7 194.9 L685.3 195.1 L686.8 195.2 L688.3 195 L689.8 195.1 L691.4 195.3 L692.9 195.3 L694.4 195 L696 195.2 L697.5 195 L699 195.1 L700.6 195.2 L702.1 195.1 L703.6 195.2 L705.1 195.3 L706.7 195.4 L708.2 195.5 L709.7 195.3 L711.3 195.3 L712.8 195.2 L714.3 195.1 L715.9 195 L717.4 195 L718.9 194.9 L720.4 194.8 L722 195.1 L723.5 195.2 L725 195.2 L726.6 195.2 L728.1 195.1 L729.6 195.1 L731.2 195.1 L732.7 194.8 L734.2 194.9 L735.7 195.2 L737.3 194.9 L738.8 195 L740.3 194.8 L741.9 194.7 L742.8 195" fill="none" stroke="#00B9E3" stroke-width="1.05"/>
<path d="M437.4 223.9 L437.5 209.2 L437.6 186.6 L437.8 164 L438 145 L438.3 133.7 L438.8 126.2 L439.3 123 L440 122.5 L440.7 121.6 L441.5 121.3 L442.3 120.1 L443.1 119.3 L443.9 119.2 L444.7 118.8 L445.5 119.7 L446.3 119.3 L447.1 120 L447.9 120 L448.7 119.3 L449.5 119.6 L450.3 119.3 L451.1 119.3 L451.9 118.8 L452.7 119.3 L453.4 119.6 L454.2 119.5 L455 119.5 L455.7 119.2 L457.2 118.7 L458.8 118.7 L460.3 119 L461.8 119 L463.4 118.6 L464.9 118.5 L466.4 118.6 L468 118.3 L469.5 118.2 L471 118.4 L472.5 118.3 L474.1 118.8 L475.6 118.5 L477.1 118.8 L478.7 118.9 L480.2 118.7 L481.7 118.7 L483.3 119 L484.8 118.9 L486.3 118.7 L487.8 119 L489.4 118.7 L490.9 118.9 L492.4 118.7 L494 118.6 L495.5 118.5 L497 118.6 L498.6 118.8 L500.1 118.8 L501.6 118.5 L503.2 118.8 L504.7 118.8 L506.2 118.7 L507.7 118.8 L509.3 118.5 L510.8 118.6 L512.3 118.7 L513.9 118.8 L515.4 118.7 L516.9 118.4 L518.5 118.4 L520 118.4 L521.5 118.5 L523 118.4 L524.6 118.4 L526.1 118.5 L527.6 118.5 L529.2 118.7 L530.7 118.5 L532.2 118.4 L533.8 118.3 L535.3 118.2 L536.8 118.5 L538.3 118.7 L539.9 118.4 L541.4 118.3 L542.9 118.6 L544.5 118.7 L546 118.8 L547.5 118.9 L549.1 118.6 L550.6 118.3 L552.1 118.2 L553.6 118.3 L555.2 118.1 L556.7 118.1 L558.2 118.3 L559.8 118.4 L561.3 118.3 L562.8 118.1 L564.4 118.2 L565.9 118.1 L567.4 118 L569 118 L570.5 118.3 L572 118.6 L573.5 118.3 L575.1 118.5 L576.6 118.6 L578.1 118.6 L579.7 118.4 L581.2 118.6 L582.7 118.3 L584.3 118.1 L585.8 118.5 L587.3 118.3 L588.8 118.5 L590.4 118.6 L591.9 118.3 L593.4 118.1 L595 118.3 L596.5 118.2 L598 118.3 L599.6 118.4 L601.1 118.3 L602.6 118.3 L604.1 118.2 L605.7 118.5 L607.2 118.5 L608.7 118.5 L610.3 118.5 L611.8 118.2 L613.3 118.5 L614.9 118.6 L616.4 118.5 L617.9 118.5 L619.4 118.4 L621 118.5 L622.5 118.5 L624 118.3 L625.6 118.3 L627.1 118.2 L628.6 118 L630.2 118.2 L631.7 118.4 L633.2 118.5 L634.8 118.3 L636.3 118.3 L637.8 118.4 L639.3 118.4 L640.9 118.4 L642.4 118.4 L643.9 118.4 L645.5 118.6 L647 118.5 L648.5 118.6 L650.1 118.6 L651.6 118.3 L653.1 118.2 L654.6 118.2 L656.2 118.2 L657.7 118.2 L659.2 118.2 L660.8 118.5 L662.3 118.5 L663.8 118.4 L665.4 118.5 L666.9 118.6 L668.4 118.3 L669.9 118.4 L671.5 118.6 L673 118.4 L674.5 118.6 L676.1 118.6 L677.6 118.4 L679.1 118.2 L680.7 118.4 L682.2 118.3 L683.7 118.2 L685.3 118.3 L686.8 118.4 L688.3 118.6 L689.8 118.7 L691.4 118.6 L692.9 118.3 L694.4 118.3 L696 118 L697.5 118 L699 118.1 L700.6 118 L702.1 118.1 L703.6 118 L705.1 118.2 L706.7 118.2 L708.2 118.1 L709.7 118.3 L711.3 118.2 L712.8 118 L714.3 118.3 L715.9 118.4 L717.4 118.6 L718.9 118.3 L720.4 118.2 L722 118.4 L723.5 118.2 L725 118.5 L726.6 118.5 L728.1 118.4 L729.6 118.1 L731.2 118.1 L732.7 118.2 L734.2 118.5 L735.7 118.2 L737.3 118.3 L738.8 118.1 L740.3 118.4 L741.9 118.5 L742.8 118.6" fill="none" stroke="#00A9FF" stroke-width="1.05"/>
<path d="M437.4 220.4 L437.5 202.3 L437.6 174.2 L437.8 145.9 L438 124.8 L438.3 109 L438.8 100 L439.3 95.9 L440 95.5 L440.7 95.1 L441.5 93.8 L442.3 94.2 L443.1 93 L443.9 92.2 L444.7 92.1 L445.5 92.6 L446.3 91.8 L447.1 92.3 L447.9 92.1 L448.7 92.4 L449.5 91.9 L450.3 91.2 L451.1 90.9 L451.9 91.4 L452.7 91.4 L453.4 91.7 L454.2 91.2 L455 91 L455.7 90.8 L457.2 91.3 L458.8 91.4 L460.3 90.9 L461.8 91.2 L463.4 90.7 L464.9 90.7 L466.4 90.6 L468 90.9 L469.5 91 L471 91 L472.5 90.7 L474.1 90.4 L475.6 90.6 L477.1 90.8 L478.7 90.4 L480.2 90.7 L481.7 90.9 L483.3 90.7 L484.8 90.6 L486.3 90.7 L487.8 90.9 L489.4 90.8 L490.9 90.7 L492.4 90.8 L494 90.6 L495.5 90.3 L497 90.4 L498.6 90.4 L500.1 90.3 L501.6 90.3 L503.2 90.2 L504.7 90.2 L506.2 90.4 L507.7 90.6 L509.3 90.5 L510.8 90.6 L512.3 90.3 L513.9 90.3 L515.4 90.5 L516.9 90.6 L518.5 90.4 L520 90.2 L521.5 90.5 L523 90.5 L524.6 90.5 L526.1 90.3 L527.6 90.1 L529.2 90.2 L530.7 90.2 L532.2 90.4 L533.8 90.4 L535.3 90.5 L536.8 90.4 L538.3 90.5 L539.9 90.2 L541.4 90.5 L542.9 90.4 L544.5 90.4 L546 90.2 L547.5 90 L549.1 90.2 L550.6 90.3 L552.1 90.4 L553.6 90.2 L555.2 90.2 L556.7 90.3 L558.2 90.3 L559.8 90.5 L561.3 90.2 L562.8 90.3 L564.4 90 L565.9 90.2 L567.4 90.2 L569 90 L570.5 90 L572 90.2 L573.5 90.4 L575.1 90.1 L576.6 90.1 L578.1 90.3 L579.7 90 L581.2 90.3 L582.7 90.4 L584.3 90.2 L585.8 90.1 L587.3 89.9 L588.8 89.9 L590.4 90 L591.9 90.1 L593.4 90.4 L595 90.3 L596.5 90.4 L598 90.3 L599.6 90.3 L601.1 90 L602.6 90 L604.1 89.8 L605.7 89.8 L607.2 90.1 L608.7 89.9 L610.3 89.9 L611.8 90 L613.3 90.1 L614.9 89.8 L616.4 89.8 L617.9 90 L619.4 90 L621 89.8 L622.5 89.9 L624 89.9 L625.6 90.3 L627.1 90 L628.6 89.9 L630.2 89.7 L631.7 89.9 L633.2 90.2 L634.8 90.3 L636.3 90 L637.8 90.1 L639.3 90 L640.9 90.3 L642.4 90.3 L643.9 90.2 L645.5 90 L647 90 L648.5 90.1 L650.1 90 L651.6 90.1 L653.1 89.9 L654.6 89.9 L656.2 90.2 L657.7 90.1 L659.2 90.1 L660.8 90.2 L662.3 90.3 L663.8 90.3 L665.4 90.1 L666.9 90.2 L668.4 90 L669.9 90.1 L671.5 89.8 L673 89.8 L674.5 89.7 L676.1 89.8 L677.6 90 L679.1 89.8 L680.7 90.1 L682.2 89.9 L683.7 90.2 L685.3 90.3 L686.8 90.3 L688.3 90.3 L689.8 90.4 L691.4 90.2 L692.9 90.3 L694.4 90 L696 90.1 L697.5 90.2 L699 90.2 L700.6 90 L702.1 89.8 L703.6 89.9 L705.1 90 L706.7 90.1 L708.2 89.9 L709.7 90 L711.3 90.2 L712.8 90 L714.3 90.2 L715.9 90.3 L717.4 90.3 L718.9 90.1 L720.4 90 L722 90 L723.5 89.8 L725 89.7 L726.6 89.7 L728.1 89.7 L729.6 90 L731.2 90 L732.7 90.2 L734.2 90.1 L735.7 90.3 L737.3 90.3 L738.8 90.3 L740.3 90.1 L741.9 89.9 L742.8 90" fill="none" stroke="#619CFF" stroke-width="1.05"/>
<path d="M437.4 221.8 L437.5 205.7 L437.6 178.6 L437.8 153.4 L438 132.8 L438.3 118.9 L438.8 111 L439.3 108.4 L440 107.4 L440.7 105.8 L441.5 105.8 L442.3 105.7 L443.1 104.9 L443.9 104.4 L444.7 103.5 L445.5 103.9 L446.3 103.6 L447.1 103.7 L447.9 104 L448.7 103.7 L449.5 103.6 L450.3 103.3 L451.1 102.6 L451.9 102.6 L452.7 102.2 L453.4 102 L454.2 102.8 L455 102.6 L455.7 102.2 L457.2 102.2 L458.8 101.9 L460.3 102.2 L461.8 102 L463.4 101.9 L464.9 102.2 L466.4 102.5 L468 102 L469.5 102.2 L471 102.3 L472.5 102.2 L474.1 102.1 L475.6 101.7 L477.1 101.8 L478.7 101.9 L480.2 101.9 L481.7 102.2 L483.3 102 L484.8 102.2 L486.3 102.3 L487.8 102.3 L489.4 102.1 L490.9 102 L492.4 102.2 L494 101.8 L495.5 101.7 L497 101.5 L498.6 101.7 L500.1 101.7 L501.6 102 L503.2 102.2 L504.7 102 L506.2 101.9 L507.7 101.7 L509.3 101.9 L510.8 101.9 L512.3 101.7 L513.9 101.9 L515.4 101.6 L516.9 101.5 L518.5 101.6 L520 102 L521.5 101.7 L523 101.6 L524.6 101.8 L526.1 101.7 L527.6 101.9 L529.2 101.6 L530.7 101.5 L532.2 101.5 L533.8 101.8 L535.3 101.6 L536.8 101.7 L538.3 101.9 L539.9 102.1 L541.4 102.1 L542.9 101.7 L544.5 101.7 L546 101.5 L547.5 101.4 L549.1 101.4 L550.6 101.7 L552.1 101.7 L553.6 101.5 L555.2 101.5 L556.7 101.3 L558.2 101.7 L559.8 101.8 L561.3 101.7 L562.8 101.9 L564.4 102 L565.9 101.7 L567.4 101.6 L569 101.5 L570.5 101.6 L572 101.7 L573.5 101.7 L575.1 101.8 L576.6 101.7 L578.1 101.6 L579.7 101.7 L581.2 101.9 L582.7 101.5 L584.3 101.6 L585.8 101.4 L587.3 101.6 L588.8 101.6 L590.4 101.8 L591.9 101.8 L593.4 101.9 L595 101.8 L596.5 101.8 L598 101.9 L599.6 101.9 L601.1 101.7 L602.6 101.5 L604.1 101.7 L605.7 101.5 L607.2 101.7 L608.7 101.9 L610.3 101.8 L611.8 101.9 L613.3 101.8 L614.9 101.8 L616.4 101.8 L617.9 101.6 L619.4 101.4 L621 101.6 L622.5 101.6 L624 101.4 L625.6 101.5 L627.1 101.4 L628.6 101.4 L630.2 101.6 L631.7 101.7 L633.2 101.7 L634.8 101.8 L636.3 101.7 L637.8 101.6 L639.3 101.6 L640.9 101.5 L642.4 101.7 L643.9 101.8 L645.5 101.6 L647 101.7 L648.5 101.5 L650.1 101.3 L651.6 101.5 L653.1 101.7 L654.6 101.5 L656.2 101.8 L657.7 101.8 L659.2 101.6 L660.8 101.7 L662.3 101.8 L663.8 101.5 L665.4 101.7 L666.9 101.6 L668.4 101.5 L669.9 101.4 L671.5 101.5 L673 101.5 L674.5 101.4 L676.1 101.3 L677.6 101.4 L679.1 101.6 L680.7 101.7 L682.2 101.6 L683.7 101.7 L685.3 101.4 L686.8 101.3 L688.3 101.1 L689.8 101.3 L691.4 101.4 L692.9 101.3 L694.4 101.4 L696 101.2 L697.5 101.1 L699 101.5 L700.6 101.7 L702.1 101.4 L703.6 101.5 L705.1 101.5 L706.7 101.5 L708.2 101.7 L709.7 101.7 L711.3 101.8 L712.8 101.8 L714.3 101.9 L715.9 101.5 L717.4 101.7 L718.9 101.5 L720.4 101.7 L722 101.8 L723.5 101.9 L725 101.8 L726.6 101.6 L728.1 101.6 L729.6 101.7 L731.2 101.4 L732.7 101.5 L734.2 101.5 L735.7 101.6 L737.3 101.5 L738.8 101.5 L740.3 101.6 L741.9 101.5 L742.8 101.6" fill="none" stroke="#619CFF" stroke-width="1.05"/>
<path d="M437.4 227.3 L437.5 215.5 L437.6 196.8 L437.8 178.1 L438 164.4 L438.3 154.3 L438.8 148.6 L439.3 146.5 L440 146.1 L440.7 145.2 L441.5 146 L442.3 145.6 L443.1 145.7 L443.9 145.3 L444.7 144.4 L445.5 144.5 L446.3 144.7 L447.1 144.2 L447.9 145.1 L448.7 145.1 L449.5 144.9 L450.3 144.2 L451.1 144.1 L451.9 144.2 L452.7 144.5 L453.4 144.2 L454.2 144.4 L455 144.2 L455.7 144.4 L457.2 144.7 L458.8 144.6 L460.3 144.8 L461.8 144.7 L463.4 144.2 L464.9 144.5 L466.4 144.4 L468 144.6 L469.5 144.8 L471 144.5 L472.5 144.7 L474.1 144.4 L475.6 144.5 L477.1 144.1 L478.7 144.4 L480.2 144.3 L481.7 144.3 L483.3 144.3 L484.8 144.2 L486.3 144.1 L487.8 144.3 L489.4 144.4 L490.9 144.1 L492.4 144 L494 144.4 L495.5 144.2 L497 144.1 L498.6 144.2 L500.1 144.2 L501.6 144.5 L503.2 144.6 L504.7 144.3 L506.2 144.1 L507.7 144 L509.3 144.1 L510.8 144 L512.3 144.2 L513.9 144.4 L515.4 144.1 L516.9 143.9 L518.5 143.9 L520 143.9 L521.5 143.9 L523 144 L524.6 144 L526.1 144.2 L527.6 144.5 L529.2 144.6 L530.7 144.4 L532.2 144.4 L533.8 144.1 L535.3 144.2 L536.8 144.4 L538.3 144.5 L539.9 144.2 L541.4 144 L542.9 144.3 L544.5 144.3 L546 144.4 L547.5 144.1 L549.1 144.2 L550.6 143.9 L552.1 144.2 L553.6 144.3 L555.2 144.2 L556.7 143.9 L558.2 144.2 L559.8 144.4 L561.3 144.4 L562.8 144.2 L564.4 144.1 L565.9 144.3 L567.4 144.5 L569 144.3 L570.5 144.1 L572 144.4 L573.5 144.2 L575.1 144.2 L576.6 144.1 L578.1 144.2 L579.7 144.4 L581.2 144.3 L582.7 144.4 L584.3 144.2 L585.8 144.2 L587.3 144.3 L588.8 144.5 L590.4 144.5 L591.9 144.4 L593.4 144.5 L595 144.5 L596.5 144.6 L598 144.4 L599.6 144.2 L601.1 143.9 L602.6 144 L604.1 144 L605.7 143.8 L607.2 144.2 L608.7 144.1 L610.3 144.3 L611.8 144 L613.3 144 L614.9 144.2 L616.4 144.3 L617.9 144.3 L619.4 144.2 L621 144 L622.5 144.2 L624 144.3 L625.6 144.2 L627.1 144.2 L628.6 144.3 L630.2 144.2 L631.7 144.2 L633.2 144.1 L634.8 144.3 L636.3 144.3 L637.8 144.1 L639.3 144.3 L640.9 144.1 L642.4 144.2 L643.9 144.1 L645.5 144.3 L647 144.5 L648.5 144.4 L650.1 144.2 L651.6 144.1 L653.1 144.1 L654.6 144.2 L656.2 143.9 L657.7 144 L659.2 144.3 L660.8 144 L662.3 144.2 L663.8 144.2 L665.4 144.4 L666.9 144.4 L668.4 144.4 L669.9 144.4 L671.5 144.2 L673 144 L674.5 144.2 L676.1 144.4 L677.6 144.4 L679.1 144.1 L680.7 144.1 L682.2 144.1 L683.7 144 L685.3 144.1 L686.8 144.1 L688.3 144.3 L689.8 144.3 L691.4 144.5 L692.9 144.5 L694.4 144.2 L696 144.3 L697.5 144.1 L699 144.2 L700.6 144.2 L702.1 144.3 L703.6 144.1 L705.1 144.2 L706.7 144.1 L708.2 144.2 L709.7 144.2 L711.3 144.2 L712.8 144.4 L714.3 144.2 L715.9 143.9 L717.4 144.2 L718.9 144.2 L720.4 144.2 L722 144.3 L723.5 144.4 L725 144.2 L726.6 144.4 L728.1 144.2 L729.6 144.3 L731.2 144.4 L732.7 144.2 L734.2 144.1 L735.7 144 L737.3 144 L738.8 144 L740.3 144.2 L741.9 143.9 L742.8 144.3" fill="none" stroke="#619CFF" stroke-width="1.05"/>
<path d="M437.4 232.4 L437.5 225.1 L437.6 213.3 L437.8 200.7 L438 192.2 L438.3 187.1 L438.8 183.3 L439.3 182 L440 181 L440.7 180.6 L441.5 181.4 L442.3 181.5 L443.1 181.2 L443.9 181.3 L444.7 180.7 L445.5 180.1 L446.3 180.3 L447.1 180.7 L447.9 180.4 L448.7 180.7 L449.5 180.6 L450.3 180.4 L451.1 180.9 L451.9 180.7 L452.7 181.1 L453.4 181.3 L454.2 180.9 L455 180.4 L455.7 181 L457.2 181 L458.8 181 L460.3 181.1 L461.8 181 L463.4 181.3 L464.9 180.7 L466.4 181.1 L468 181.1 L469.5 180.9 L471 181.1 L472.5 181.3 L474.1 181.1 L475.6 180.6 L477.1 180.8 L478.7 180.7 L480.2 180.8 L481.7 181 L483.3 180.7 L484.8 180.9 L486.3 180.7 L487.8 180.6 L489.4 180.4 L490.9 180.3 L492.4 180.4 L494 180.6 L495.5 180.9 L497 180.7 L498.6 180.6 L500.1 180.6 L501.6 180.7 L503.2 180.7 L504.7 180.8 L506.2 180.6 L507.7 180.4 L509.3 180.6 L510.8 180.8 L512.3 180.6 L513.9 180.4 L515.4 180.7 L516.9 180.5 L518.5 180.8 L520 180.9 L521.5 180.6 L523 180.6 L524.6 180.5 L526.1 180.4 L527.6 180.5 L529.2 180.8 L530.7 181 L532.2 181 L533.8 180.9 L535.3 180.9 L536.8 180.8 L538.3 180.9 L539.9 180.8 L541.4 180.7 L542.9 180.9 L544.5 180.7 L546 180.7 L547.5 180.8 L549.1 181 L550.6 180.8 L552.1 180.7 L553.6 180.7 L555.2 180.6 L556.7 180.6 L558.2 180.8 L559.8 180.6 L561.3 180.6 L562.8 180.6 L564.4 180.7 L565.9 180.8 L567.4 180.6 L569 180.6 L570.5 180.5 L572 180.7 L573.5 180.8 L575.1 180.6 L576.6 180.5 L578.1 180.5 L579.7 180.5 L581.2 180.8 L582.7 181 L584.3 181 L585.8 180.8 L587.3 180.8 L588.8 180.6 L590.4 180.6 L591.9 180.9 L593.4 180.6 L595 180.6 L596.5 180.5 L598 180.8 L599.6 180.6 L601.1 180.7 L602.6 180.5 L604.1 180.7 L605.7 180.7 L607.2 180.9 L608.7 180.9 L610.3 180.9 L611.8 180.7 L613.3 180.6 L614.9 180.7 L616.4 180.5 L617.9 180.8 L619.4 180.9 L621 180.8 L622.5 180.7 L624 180.5 L625.6 180.6 L627.1 180.8 L628.6 180.6 L630.2 180.4 L631.7 180.6 L633.2 180.7 L634.8 180.8 L636.3 180.7 L637.8 181 L639.3 181 L640.9 180.8 L642.4 180.8 L643.9 180.8 L645.5 180.7 L647 180.9 L648.5 180.9 L650.1 181 L651.6 180.7 L653.1 180.7 L654.6 180.7 L656.2 180.8 L657.7 180.5 L659.2 180.7 L660.8 180.7 L662.3 180.5 L663.8 180.8 L665.4 180.8 L666.9 180.9 L668.4 180.9 L669.9 180.9 L671.5 181 L673 180.7 L674.5 180.6 L676.1 180.5 L677.6 180.6 L679.1 180.5 L680.7 180.4 L682.2 180.3 L683.7 180.3 L685.3 180.5 L686.8 180.6 L688.3 180.6 L689.8 180.4 L691.4 180.6 L692.9 180.5 L694.4 180.4 L696 180.3 L697.5 180.3 L699 180.4 L700.6 180.4 L702.1 180.5 L703.6 180.4 L705.1 180.7 L706.7 180.9 L708.2 180.7 L709.7 180.5 L711.3 180.8 L712.8 180.6 L714.3 180.7 L715.9 180.8 L717.4 180.8 L718.9 180.9 L720.4 180.7 L722 180.8 L723.5 181 L725 181 L726.6 181.1 L728.1 180.9 L729.6 180.8 L731.2 180.9 L732.7 180.8 L734.2 180.6 L735.7 180.4 L737.3 180.4 L738.8 180.4 L740.3 180.7 L741.9 180.6 L742.8 180.6" fill="none" stroke="#619CFF" stroke-width="1.05"/>
<path d="M437.4 234.2 L437.5 228.9 L437.6 218.8 L437.8 208.4 L438 201.1 L438.3 196.5 L438.8 195.3 L439.3 194 L440 194.5 L440.7 193.6 L441.5 192.8 L442.3 193.7 L443.1 192.9 L443.9 193.6 L444.7 193.6 L445.5 193.2 L446.3 193.7 L447.1 193.5 L447.9 194.1 L448.7 193.8 L449.5 194.2 L450.3 194.3 L451.1 193.7 L451.9 193.8 L452.7 193.8 L453.4 193.8 L454.2 193 L455 193.3 L455.7 193.6 L457.2 193.1 L458.8 192.8 L460.3 192.6 L461.8 193 L463.4 192.8 L464.9 193.3 L466.4 193.2 L468 193.6 L469.5 193.6 L471 193.4 L472.5 193.1 L474.1 193.1 L475.6 193.3 L477.1 193.5 L478.7 193.6 L480.2 193.3 L481.7 193 L483.3 193.2 L484.8 193.3 L486.3 193.4 L487.8 193.5 L489.4 193.6 L490.9 193.5 L492.4 193.6 L494 193.2 L495.5 193.5 L497 193.5 L498.6 193.1 L500.1 193 L501.6 193.2 L503.2 193.1 L504.7 193.4 L506.2 193.2 L507.7 193.2 L509.3 193.2 L510.8 193.5 L512.3 193.2 L513.9 193.4 L515.4 193.5 L516.9 193.4 L518.5 193.5 L520 193.6 L521.5 193.6 L523 193.4 L524.6 193.1 L526.1 193 L527.6 193.2 L529.2 193 L530.7 193.2 L532.2 193.1 L533.8 193.1 L535.3 193.3 L536.8 193.4 L538.3 193.5 L539.9 193.3 L541.4 193.3 L542.9 193.5 L544.5 193.6 L546 193.5 L547.5 193.1 L549.1 193.4 L550.6 193.1 L552.1 192.9 L553.6 193.1 L555.2 193 L556.7 193.2 L558.2 193.3 L559.8 193.1 L561.3 193.4 L562.8 193.5 L564.4 193.5 L565.9 193.6 L567.4 193.6 L569 193.4 L570.5 193.5 L572 193.6 L573.5 193.5 L575.1 193.2 L576.6 193.1 L578.1 193.3 L579.7 193.2 L581.2 193 L582.7 193.1 L584.3 193 L585.8 193.1 L587.3 192.9 L588.8 193.2 L590.4 193 L591.9 193.3 L593.4 193.1 L595 193.2 L596.5 193.3 L598 193.1 L599.6 193.2 L601.1 193.2 L602.6 193.3 L604.1 193.1 L605.7 193.1 L607.2 193.3 L608.7 193.3 L610.3 193.2 L611.8 193.1 L613.3 193.3 L614.9 193.1 L616.4 193.1 L617.9 193.2 L619.4 193.1 L621 192.9 L622.5 192.9 L624 193.2 L625.6 193.2 L627.1 193.1 L628.6 193.1 L630.2 192.9 L631.7 192.8 L633.2 193.2 L634.8 193.3 L636.3 193.1 L637.8 193.1 L639.3 192.9 L640.9 193 L642.4 193.1 L643.9 193.3 L645.5 193.2 L647 193.4 L648.5 193.6 L650.1 193.4 L651.6 193.1 L653.1 193 L654.6 193.2 L656.2 193 L657.7 193.3 L659.2 193 L660.8 192.9 L662.3 193.3 L663.8 193.2 L665.4 193.2 L666.9 193.3 L668.4 193 L669.9 193 L671.5 193 L673 193.2 L674.5 193.4 L676.1 193.4 L677.6 193.1 L679.1 193.2 L680.7 193.4 L682.2 193.1 L683.7 193.1 L685.3 193.2 L686.8 193.4 L688.3 193.1 L689.8 193.2 L691.4 193.2 L692.9 193.2 L694.4 193.4 L696 193.1 L697.5 193.2 L699 193.1 L700.6 193.3 L702.1 193.4 L703.6 193.2 L705.1 193 L706.7 193.3 L708.2 193.3 L709.7 193.3 L711.3 193.4 L712.8 193.5 L714.3 193.3 L715.9 193.3 L717.4 193.4 L718.9 193.2 L720.4 193.4 L722 193.2 L723.5 193.4 L725 193.4 L726.6 193.5 L728.1 193.6 L729.6 193.5 L731.2 193.3 L732.7 193.2 L734.2 193.3 L735.7 193.4 L737.3 193.3 L738.8 193.4 L740.3 193.2 L741.9 193.2 L742.8 193" fill="none" stroke="#619CFF" stroke-width="1.05"/>
<path d="M437.4 218.2 L437.5 197.9 L437.6 166.7 L437.8 136.9 L438 113.1 L438.3 95.5 L438.8 85.9 L439.3 81 L440 79 L440.7 76.8 L441.5 75.9 L442.3 74.8 L443.1 74.3 L443.9 75 L444.7 74.2 L445.5 74.4 L446.3 74.1 L447.1 74.3 L447.9 74.6 L448.7 74.6 L449.5 74.8 L450.3 74.8 L451.1 74.1 L451.9 74.3 L452.7 74.2 L453.4 73.5 L454.2 73.2 L455 73.2 L455.7 73.5 L457.2 72.8 L458.8 73.2 L460.3 73.2 L461.8 73 L463.4 72.8 L464.9 72.6 L466.4 72.5 L468 72.7 L469.5 72.5 L471 72.6 L472.5 72.8 L474.1 72.3 L475.6 72 L477.1 72.4 L478.7 72.1 L480.2 72.4 L481.7 72.2 L483.3 72 L484.8 71.8 L486.3 71.9 L487.8 72.1 L489.4 71.8 L490.9 71.6 L492.4 71.7 L494 72.1 L495.5 72.2 L497 72 L498.6 71.9 L500.1 71.9 L501.6 72 L503.2 71.9 L504.7 71.8 L506.2 71.9 L507.7 71.8 L509.3 71.8 L510.8 72 L512.3 71.9 L513.9 71.7 L515.4 71.7 L516.9 71.8 L518.5 71.7 L520 71.7 L521.5 71.8 L523 71.7 L524.6 71.6 L526.1 71.9 L527.6 71.6 L529.2 71.9 L530.7 71.6 L532.2 71.7 L533.8 71.8 L535.3 71.7 L536.8 71.8 L538.3 72 L539.9 71.8 L541.4 71.5 L542.9 71.5 L544.5 71.8 L546 71.8 L547.5 71.9 L549.1 71.7 L550.6 71.6 L552.1 71.8 L553.6 71.8 L555.2 71.9 L556.7 71.6 L558.2 71.6 L559.8 71.7 L561.3 71.9 L562.8 71.8 L564.4 71.9 L565.9 71.6 L567.4 71.7 L569 71.6 L570.5 71.7 L572 71.6 L573.5 71.4 L575.1 71.4 L576.6 71.6 L578.1 71.7 L579.7 71.9 L581.2 71.7 L582.7 71.4 L584.3 71.7 L585.8 71.5 L587.3 71.7 L588.8 71.6 L590.4 71.6 L591.9 71.3 L593.4 71.3 L595 71.6 L596.5 71.5 L598 71.7 L599.6 71.8 L601.1 71.7 L602.6 71.9 L604.1 71.5 L605.7 71.5 L607.2 71.5 L608.7 71.3 L610.3 71.6 L611.8 71.4 L613.3 71.5 L614.9 71.4 L616.4 71.4 L617.9 71.4 L619.4 71.4 L621 71.3 L622.5 71.5 L624 71.6 L625.6 71.3 L627.1 71.7 L628.6 71.4 L630.2 71.3 L631.7 71.3 L633.2 71.3 L634.8 71.4 L636.3 71.6 L637.8 71.4 L639.3 71.5 L640.9 71.5 L642.4 71.4 L643.9 71.4 L645.5 71.4 L647 71.6 L648.5 71.7 L650.1 71.6 L651.6 71.3 L653.1 71.3 L654.6 71.6 L656.2 71.5 L657.7 71.4 L659.2 71.5 L660.8 71.3 L662.3 71.4 L663.8 71.5 L665.4 71.3 L666.9 71.3 L668.4 71.6 L669.9 71.4 L671.5 71.4 L673 71.4 L674.5 71.4 L676.1 71.4 L677.6 71.3 L679.1 71.6 L680.7 71.6 L682.2 71.8 L683.7 71.6 L685.3 71.5 L686.8 71.4 L688.3 71.6 L689.8 71.5 L691.4 71.5 L692.9 71.3 L694.4 71.4 L696 71.3 L697.5 71.6 L699 71.4 L700.6 71.7 L702.1 71.6 L703.6 71.4 L705.1 71.5 L706.7 71.7 L708.2 71.7 L709.7 71.7 L711.3 71.6 L712.8 71.6 L714.3 71.3 L715.9 71.5 L717.4 71.6 L718.9 71.6 L720.4 71.4 L722 71.5 L723.5 71.5 L725 71.4 L726.6 71.6 L728.1 71.7 L729.6 71.6 L731.2 71.7 L732.7 71.7 L734.2 71.5 L735.7 71.7 L737.3 71.8 L738.8 71.7 L740.3 71.5 L741.9 71.5 L742.8 71.2" fill="none" stroke="#C77CFF" stroke-width="1.05"/>
<path d="M437.4 233.8 L437.5 228.5 L437.6 218.2 L437.8 207.9 L438 200.7 L438.3 194.8 L438.8 192.3 L439.3 191 L440 191.3 L440.7 191 L441.5 191.3 L442.3 191.9 L443.1 191.5 L443.9 190.7 L444.7 190.2 L445.5 191.1 L446.3 191.1 L447.1 191 L447.9 190.5 L448.7 190.2 L449.5 190 L450.3 191 L451.1 190.5 L451.9 190.6 L452.7 190.8 L453.4 191 L454.2 190.8 L455 191.1 L455.7 191.2 L457.2 191.7 L458.8 191 L460.3 190.9 L461.8 190.6 L463.4 190.6 L464.9 190.6 L466.4 190.4 L468 191 L469.5 190.8 L471 191.1 L472.5 191.3 L474.1 191.4 L475.6 190.9 L477.1 191 L478.7 191.3 L480.2 191.3 L481.7 191.2 L483.3 191.1 L484.8 191.3 L486.3 191.2 L487.8 191 L489.4 191 L490.9 191 L492.4 190.9 L494 191 L495.5 191.2 L497 191.2 L498.6 190.9 L500.1 190.9 L501.6 191.1 L503.2 190.9 L504.7 190.9 L506.2 191.1 L507.7 191.1 L509.3 191 L510.8 190.7 L512.3 191 L513.9 190.8 L515.4 191 L516.9 191 L518.5 191.1 L520 190.9 L521.5 191.2 L523 191.2 L524.6 191.3 L526.1 191 L527.6 191.1 L529.2 191 L530.7 191.1 L532.2 191.2 L533.8 191.1 L535.3 191.3 L536.8 191.1 L538.3 191.1 L539.9 191.2 L541.4 190.9 L542.9 191.2 L544.5 191 L546 191.2 L547.5 190.9 L549.1 190.8 L550.6 190.9 L552.1 190.8 L553.6 190.9 L555.2 190.8 L556.7 191 L558.2 191.1 L559.8 191.2 L561.3 190.9 L562.8 190.7 L564.4 190.9 L565.9 190.7 L567.4 191 L569 191 L570.5 191.2 L572 191.3 L573.5 191.2 L575.1 191.3 L576.6 191.2 L578.1 191 L579.7 190.8 L581.2 191 L582.7 191.1 L584.3 191.1 L585.8 191.1 L587.3 191 L588.8 191.2 L590.4 191.1 L591.9 190.9 L593.4 191.2 L595 191.2 L596.5 191.3 L598 191.4 L599.6 191.2 L601.1 190.9 L602.6 191 L604.1 191 L605.7 190.9 L607.2 191.1 L608.7 190.9 L610.3 191.2 L611.8 191 L613.3 190.9 L614.9 191.1 L616.4 190.9 L617.9 191.1 L619.4 190.9 L621 190.9 L622.5 190.9 L624 190.8 L625.6 191.1 L627.1 191.3 L628.6 191.4 L630.2 191 L631.7 190.8 L633.2 190.9 L634.8 191 L636.3 191 L637.8 191.3 L639.3 191.4 L640.9 191.3 L642.4 191.1 L643.9 191 L645.5 190.8 L647 190.8 L648.5 191 L650.1 190.9 L651.6 190.8 L653.1 190.9 L654.6 191.2 L656.2 191.2 L657.7 190.9 L659.2 190.9 L660.8 190.8 L662.3 191.1 L663.8 191 L665.4 191 L666.9 191.2 L668.4 191 L669.9 191 L671.5 191.2 L673 191 L674.5 191 L676.1 191.1 L677.6 191 L679.1 191.1 L680.7 191 L682.2 191.2 L683.7 191.1 L685.3 191.2 L686.8 191.1 L688.3 191.2 L689.8 191 L691.4 190.8 L692.9 190.8 L694.4 190.8 L696 190.7 L697.5 191 L699 191 L700.6 191 L702.1 191.1 L703.6 190.8 L705.1 190.7 L706.7 191 L708.2 190.7 L709.7 191 L711.3 191 L712.8 191.3 L714.3 191.3 L715.9 191.1 L717.4 191 L718.9 191 L720.4 191.1 L722 191 L723.5 191.1 L725 191.3 L726.6 191.3 L728.1 191.2 L729.6 191.2 L731.2 191.1 L732.7 191.1 L734.2 191 L735.7 191.2 L737.3 191.4 L738.8 191.2 L740.3 191.2 L741.9 190.9 L742.8 191" fill="none" stroke="#C77CFF" stroke-width="1.05"/>
<path d="M437.4 213.8 L437.5 190.5 L437.6 154.6 L437.8 117.6 L438 88.5 L438.3 65.6 L438.8 52.3 L439.3 46.1 L440 41.7 L440.7 40.7 L441.5 39.3 L442.3 37.8 L443.1 36.9 L443.9 36.6 L444.7 36.6 L445.5 35.6 L446.3 34.8 L447.1 34.5 L447.9 34.8 L448.7 34.6 L449.5 34.8 L450.3 34.9 L451.1 34.4 L451.9 34.3 L452.7 33.7 L453.4 33.9 L454.2 33.9 L455 33.5 L455.7 33.7 L457.2 33.1 L458.8 33.6 L460.3 33.4 L461.8 33.5 L463.4 33.3 L464.9 32.8 L466.4 32.9 L468 32.9 L469.5 32.6 L471 32.7 L472.5 32.7 L474.1 32.7 L475.6 32.3 L477.1 32.6 L478.7 32.7 L480.2 32.4 L481.7 32.5 L483.3 32.6 L484.8 32.3 L486.3 31.9 L487.8 31.8 L489.4 31.8 L490.9 31.7 L492.4 31.6 L494 31.8 L495.5 31.6 L497 31.7 L498.6 31.7 L500.1 31.8 L501.6 31.6 L503.2 31.7 L504.7 31.5 L506.2 31.3 L507.7 31.7 L509.3 31.6 L510.8 31.5 L512.3 31.8 L513.9 31.6 L515.4 31.6 L516.9 31.4 L518.5 31.4 L520 31.6 L521.5 31.7 L523 31.8 L524.6 31.9 L526.1 31.5 L527.6 31.3 L529.2 31.1 L530.7 31.3 L532.2 31.4 L533.8 31.3 L535.3 31.5 L536.8 31.3 L538.3 31.4 L539.9 31.3 L541.4 31.1 L542.9 31.4 L544.5 31.2 L546 31.4 L547.5 31.5 L549.1 31.4 L550.6 31.3 L552.1 31.1 L553.6 31 L555.2 31.2 L556.7 31.2 L558.2 31.2 L559.8 31.2 L561.3 31.1 L562.8 31 L564.4 31.2 L565.9 31.2 L567.4 31 L569 31.3 L570.5 31.1 L572 31 L573.5 30.9 L575.1 31 L576.6 31.2 L578.1 31 L579.7 31.3 L581.2 31.3 L582.7 31.4 L584.3 31.2 L585.8 31.1 L587.3 30.9 L588.8 30.9 L590.4 31.2 L591.9 31 L593.4 31.3 L595 31.3 L596.5 31.4 L598 31.1 L599.6 31 L601.1 31.2 L602.6 31.1 L604.1 30.9 L605.7 30.7 L607.2 30.9 L608.7 31 L610.3 30.9 L611.8 30.8 L613.3 31 L614.9 30.8 L616.4 31.1 L617.9 31.2 L619.4 31.1 L621 30.9 L622.5 31 L624 30.9 L625.6 30.7 L627.1 31 L628.6 31 L630.2 30.9 L631.7 30.8 L633.2 31 L634.8 31.2 L636.3 31 L637.8 31 L639.3 30.9 L640.9 30.9 L642.4 31 L643.9 30.9 L645.5 31 L647 31 L648.5 30.7 L650.1 30.6 L651.6 30.7 L653.1 30.6 L654.6 30.8 L656.2 30.9 L657.7 31 L659.2 31.1 L660.8 31.1 L662.3 31.2 L663.8 30.9 L665.4 31.1 L666.9 31.2 L668.4 31.1 L669.9 31.2 L671.5 31.1 L673 31 L674.5 30.8 L676.1 30.8 L677.6 31 L679.1 31.1 L680.7 31.2 L682.2 31.1 L683.7 31.2 L685.3 31 L686.8 30.7 L688.3 30.7 L689.8 30.8 L691.4 31 L692.9 30.8 L694.4 30.6 L696 30.8 L697.5 30.7 L699 30.9 L700.6 30.9 L702.1 30.7 L703.6 30.8 L705.1 30.9 L706.7 30.8 L708.2 31 L709.7 30.7 L711.3 30.6 L712.8 30.8 L714.3 30.9 L715.9 30.9 L717.4 31.1 L718.9 30.8 L720.4 30.6 L722 30.7 L723.5 30.7 L725 30.7 L726.6 30.7 L728.1 30.9 L729.6 30.8 L731.2 30.9 L732.7 30.9 L734.2 30.7 L735.7 31 L737.3 30.8 L738.8 30.7 L740.3 30.6 L741.9 30.8 L742.8 30.9" fill="none" stroke="#E76BF3" stroke-width="1.05"/>
<path d="M437.4 225 L437.5 210.1 L437.6 189 L437.8 167.1 L438 150.6 L438.3 139.8 L438.8 132.4 L439.3 129.2 L440 129.3 L440.7 129.5 L441.5 128.2 L442.3 127.7 L443.1 127.7 L443.9 128.2 L444.7 127.7 L445.5 128.4 L446.3 127.4 L447.1 128 L447.9 127.2 L448.7 127.4 L449.5 128 L450.3 128 L451.1 128.2 L451.9 127.6 L452.7 128 L453.4 128.1 L454.2 127.5 L455 127.6 L455.7 127.9 L457.2 127.2 L458.8 127.1 L460.3 127.3 L461.8 127.2 L463.4 127.5 L464.9 127.2 L466.4 127.1 L468 126.7 L469.5 126.7 L471 127 L472.5 126.8 L474.1 127.1 L475.6 127.2 L477.1 127.1 L478.7 126.9 L480.2 126.5 L481.7 126.4 L483.3 126.8 L484.8 127.1 L486.3 127.2 L487.8 126.9 L489.4 127.1 L490.9 126.9 L492.4 126.8 L494 127 L495.5 127.1 L497 127 L498.6 126.8 L500.1 126.5 L501.6 126.5 L503.2 126.4 L504.7 126.4 L506.2 126.6 L507.7 126.5 L509.3 126.5 L510.8 126.8 L512.3 126.7 L513.9 126.4 L515.4 126.3 L516.9 126.5 L518.5 126.3 L520 126.5 L521.5 126.3 L523 126.5 L524.6 126.6 L526.1 126.7 L527.6 126.5 L529.2 126.8 L530.7 126.9 L532.2 127 L533.8 127 L535.3 127.1 L536.8 126.8 L538.3 126.8 L539.9 126.7 L541.4 126.8 L542.9 126.6 L544.5 126.4 L546 126.5 L547.5 126.6 L549.1 126.8 L550.6 126.7 L552.1 126.4 L553.6 126.4 L555.2 126.7 L556.7 126.5 L558.2 126.5 L559.8 126.6 L561.3 126.8 L562.8 126.6 L564.4 126.7 L565.9 126.9 L567.4 127 L569 126.8 L570.5 126.6 L572 126.7 L573.5 126.8 L575.1 126.8 L576.6 126.8 L578.1 126.6 L579.7 126.7 L581.2 126.6 L582.7 126.4 L584.3 126.3 L585.8 126.5 L587.3 126.3 L588.8 126.3 L590.4 126.3 L591.9 126.4 L593.4 126.4 L595 126.7 L596.5 126.7 L598 126.6 L599.6 126.6 L601.1 126.6 L602.6 126.7 L604.1 126.7 L605.7 126.6 L607.2 126.5 L608.7 126.4 L610.3 126.3 L611.8 126.2 L613.3 126.3 L614.9 126.2 L616.4 126.3 L617.9 126.4 L619.4 126.3 L621 126.5 L622.5 126.5 L624 126.6 L625.6 126.5 L627.1 126.7 L628.6 126.7 L630.2 126.4 L631.7 126.5 L633.2 126.4 L634.8 126.6 L636.3 126.5 L637.8 126.4 L639.3 126.2 L640.9 126.6 L642.4 126.4 L643.9 126.3 L645.5 126.6 L647 126.4 L648.5 126.4 L650.1 126.4 L651.6 126.6 L653.1 126.7 L654.6 126.9 L656.2 126.6 L657.7 126.4 L659.2 126.3 L660.8 126.2 L662.3 126.2 L663.8 126.4 L665.4 126.7 L666.9 126.4 L668.4 126.3 L669.9 126.6 L671.5 126.6 L673 126.5 L674.5 126.3 L676.1 126.2 L677.6 126.2 L679.1 126.4 L680.7 126.2 L682.2 126.4 L683.7 126.6 L685.3 126.3 L686.8 126.3 L688.3 126.4 L689.8 126.5 L691.4 126.6 L692.9 126.7 L694.4 126.6 L696 126.5 L697.5 126.5 L699 126.5 L700.6 126.7 L702.1 126.6 L703.6 126.6 L705.1 126.7 L706.7 126.6 L708.2 126.5 L709.7 126.6 L711.3 126.6 L712.8 126.8 L714.3 126.6 L715.9 126.5 L717.4 126.8 L718.9 126.8 L720.4 126.7 L722 126.5 L723.5 126.3 L725 126.4 L726.6 126.4 L728.1 126.4 L729.6 126.3 L731.2 126.4 L732.7 126.5 L734.2 126.3 L735.7 126.5 L737.3 126.6 L738.8 126.4 L740.3 126.3 L741.9 126.2 L742.8 126.3" fill="none" stroke="#E76BF3" stroke-width="1.05"/>
<path d="M437.4 227.7 L437.5 216.2 L437.6 198.3 L437.8 180.5 L438 165.6 L438.3 156.1 L438.8 151.6 L439.3 150.6 L440 150 L440.7 149.3 L441.5 148.6 L442.3 148 L443.1 148.4 L443.9 148.8 L444.7 148.5 L445.5 147.8 L446.3 147.7 L447.1 148.2 L447.9 148.6 L448.7 148.3 L449.5 148.7 L450.3 148.3 L451.1 147.7 L451.9 147.5 L452.7 148.2 L453.4 148.4 L454.2 147.8 L455 147.7 L455.7 147.7 L457.2 147.8 L458.8 147.4 L460.3 148 L461.8 148 L463.4 147.8 L464.9 147.4 L466.4 147.7 L468 148.1 L469.5 148.2 L471 148.3 L472.5 148.4 L474.1 148.2 L475.6 147.8 L477.1 147.7 L478.7 147.8 L480.2 147.7 L481.7 147.6 L483.3 147.4 L484.8 147.8 L486.3 147.9 L487.8 147.7 L489.4 147.7 L490.9 148 L492.4 147.7 L494 147.8 L495.5 147.6 L497 147.9 L498.6 148 L500.1 148.1 L501.6 147.9 L503.2 147.8 L504.7 147.7 L506.2 147.6 L507.7 147.9 L509.3 148.1 L510.8 148.2 L512.3 148.2 L513.9 148 L515.4 147.9 L516.9 148.1 L518.5 147.9 L520 148 L521.5 148 L523 147.8 L524.6 147.7 L526.1 147.8 L527.6 147.6 L529.2 147.5 L530.7 147.4 L532.2 147.4 L533.8 147.7 L535.3 148 L536.8 148 L538.3 147.9 L539.9 147.9 L541.4 147.9 L542.9 147.8 L544.5 147.7 L546 147.5 L547.5 147.5 L549.1 147.5 L550.6 147.5 L552.1 147.7 L553.6 147.5 L555.2 147.5 L556.7 147.7 L558.2 147.9 L559.8 148 L561.3 148 L562.8 147.7 L564.4 147.7 L565.9 147.8 L567.4 147.9 L569 147.7 L570.5 147.7 L572 147.7 L573.5 147.4 L575.1 147.4 L576.6 147.6 L578.1 147.7 L579.7 147.7 L581.2 147.7 L582.7 147.7 L584.3 147.6 L585.8 147.4 L587.3 147.6 L588.8 147.8 L590.4 147.7 L591.9 147.8 L593.4 147.9 L595 147.9 L596.5 147.9 L598 148 L599.6 147.6 L601.1 147.9 L602.6 147.7 L604.1 147.8 L605.7 147.9 L607.2 147.6 L608.7 147.6 L610.3 147.4 L611.8 147.6 L613.3 147.6 L614.9 147.5 L616.4 147.5 L617.9 147.7 L619.4 147.7 L621 147.6 L622.5 147.7 L624 147.5 L625.6 147.7 L627.1 147.7 L628.6 147.8 L630.2 147.8 L631.7 148 L633.2 147.9 L634.8 147.8 L636.3 147.7 L637.8 147.7 L639.3 147.6 L640.9 147.5 L642.4 147.7 L643.9 147.8 L645.5 148 L647 147.9 L648.5 147.8 L650.1 147.7 L651.6 147.7 L653.1 147.8 L654.6 147.9 L656.2 147.9 L657.7 147.7 L659.2 147.6 L660.8 147.4 L662.3 147.6 L663.8 147.6 L665.4 147.5 L666.9 147.4 L668.4 147.5 L669.9 147.7 L671.5 147.6 L673 147.7 L674.5 147.8 L676.1 147.8 L677.6 147.8 L679.1 147.6 L680.7 147.7 L682.2 147.7 L683.7 147.9 L685.3 147.8 L686.8 147.6 L688.3 147.8 L689.8 147.8 L691.4 147.6 L692.9 147.7 L694.4 147.5 L696 147.4 L697.5 147.7 L699 147.6 L700.6 147.8 L702.1 147.6 L703.6 147.6 L705.1 147.5 L706.7 147.7 L708.2 147.7 L709.7 147.6 L711.3 147.5 L712.8 147.4 L714.3 147.4 L715.9 147.6 L717.4 147.5 L718.9 147.3 L720.4 147.4 L722 147.5 L723.5 147.8 L725 147.6 L726.6 147.6 L728.1 147.8 L729.6 147.8 L731.2 147.7 L732.7 147.6 L734.2 147.5 L735.7 147.4 L737.3 147.5 L738.8 147.6 L740.3 147.4 L741.9 147.5 L742.8 147.4" fill="none" stroke="#E76BF3" stroke-width="1.05"/>
<path d="M437.4 231.6 L437.5 223.2 L437.6 210.7 L437.8 198.3 L438 188 L438.3 181.6 L438.8 177.4 L439.3 176 L440 176.2 L440.7 176.7 L441.5 175.9 L442.3 176.8 L443.1 177.1 L443.9 176.4 L444.7 176.3 L445.5 176.4 L446.3 176 L447.1 175.8 L447.9 176.2 L448.7 176.1 L449.5 175.9 L450.3 176 L451.1 175.5 L451.9 175.7 L452.7 175.5 L453.4 175.3 L454.2 175.6 L455 176 L455.7 176 L457.2 175.9 L458.8 176.1 L460.3 175.9 L461.8 176.3 L463.4 175.8 L464.9 175.4 L466.4 175.7 L468 175.9 L469.5 175.8 L471 175.7 L472.5 175.6 L474.1 175.5 L475.6 175.9 L477.1 176.1 L478.7 175.8 L480.2 175.8 L481.7 175.8 L483.3 175.6 L484.8 175.8 L486.3 175.8 L487.8 176.1 L489.4 176.2 L490.9 176.2 L492.4 175.9 L494 175.6 L495.5 175.9 L497 175.6 L498.6 175.8 L500.1 175.6 L501.6 175.8 L503.2 175.5 L504.7 175.4 L506.2 175.8 L507.7 175.8 L509.3 175.7 L510.8 176 L512.3 176 L513.9 175.8 L515.4 175.9 L516.9 175.8 L518.5 175.7 L520 175.6 L521.5 175.5 L523 175.5 L524.6 175.5 L526.1 175.5 L527.6 175.8 L529.2 175.7 L530.7 175.8 L532.2 175.9 L533.8 175.9 L535.3 175.7 L536.8 175.9 L538.3 176.1 L539.9 176.1 L541.4 175.8 L542.9 176 L544.5 175.9 L546 175.6 L547.5 175.6 L549.1 175.8 L550.6 175.8 L552.1 176 L553.6 176 L555.2 176.1 L556.7 176.2 L558.2 175.9 L559.8 176 L561.3 175.6 L562.8 175.8 L564.4 175.6 L565.9 175.6 L567.4 175.7 L569 175.5 L570.5 175.7 L572 175.8 L573.5 175.6 L575.1 175.6 L576.6 175.8 L578.1 175.8 L579.7 175.5 L581.2 175.5 L582.7 175.8 L584.3 175.7 L585.8 175.6 L587.3 175.6 L588.8 175.9 L590.4 176 L591.9 175.8 L593.4 175.8 L595 175.6 L596.5 175.4 L598 175.5 L599.6 175.7 L601.1 175.5 L602.6 175.4 L604.1 175.7 L605.7 175.6 L607.2 175.4 L608.7 175.3 L610.3 175.3 L611.8 175.4 L613.3 175.6 L614.9 175.7 L616.4 175.6 L617.9 175.7 L619.4 175.6 L621 175.7 L622.5 175.5 L624 175.7 L625.6 175.4 L627.1 175.8 L628.6 175.6 L630.2 175.7 L631.7 175.5 L633.2 175.6 L634.8 175.5 L636.3 175.7 L637.8 175.8 L639.3 176 L640.9 176.1 L642.4 175.9 L643.9 175.8 L645.5 175.7 L647 175.6 L648.5 175.7 L650.1 175.9 L651.6 175.6 L653.1 175.8 L654.6 175.7 L656.2 175.7 L657.7 175.6 L659.2 175.8 L660.8 175.7 L662.3 175.6 L663.8 175.6 L665.4 175.4 L666.9 175.3 L668.4 175.7 L669.9 175.5 L671.5 175.5 L673 175.7 L674.5 175.5 L676.1 175.8 L677.6 175.6 L679.1 175.9 L680.7 175.8 L682.2 175.8 L683.7 175.8 L685.3 175.6 L686.8 175.6 L688.3 175.8 L689.8 175.9 L691.4 175.9 L692.9 175.9 L694.4 175.6 L696 175.6 L697.5 175.7 L699 175.5 L700.6 175.7 L702.1 175.5 L703.6 175.6 L705.1 175.5 L706.7 175.4 L708.2 175.8 L709.7 175.8 L711.3 175.9 L712.8 175.9 L714.3 175.8 L715.9 176 L717.4 175.6 L718.9 175.6 L720.4 175.5 L722 175.6 L723.5 175.6 L725 175.9 L726.6 175.7 L728.1 175.6 L729.6 175.8 L731.2 175.9 L732.7 175.8 L734.2 175.7 L735.7 175.8 L737.3 175.6 L738.8 175.7 L740.3 175.6 L741.9 175.8 L742.8 175.5" fill="none" stroke="#E76BF3" stroke-width="1.05"/>
<path d="M437.4 235.1 L437.5 231 L437.6 221.2 L437.8 212.4 L438 207.3 L438.3 203.9 L438.8 201.1 L439.3 200.8 L440 200.5 L440.7 199.7 L441.5 200.1 L442.3 199.9 L443.1 199.3 L443.9 200.1 L444.7 200.3 L445.5 199.7 L446.3 199.6 L447.1 200 L447.9 199.7 L448.7 199.4 L449.5 199.6 L450.3 200.3 L451.1 199.6 L451.9 199.4 L452.7 199.5 L453.4 200.2 L454.2 200.5 L455 199.7 L455.7 199.9 L457.2 199.4 L458.8 199.3 L460.3 199.2 L461.8 199.4 L463.4 200 L464.9 200.3 L466.4 199.9 L468 200.2 L469.5 200.1 L471 199.6 L472.5 200 L474.1 199.7 L475.6 200 L477.1 199.7 L478.7 200 L480.2 199.9 L481.7 199.8 L483.3 199.6 L484.8 199.6 L486.3 199.8 L487.8 199.8 L489.4 200.1 L490.9 199.9 L492.4 200.1 L494 199.7 L495.5 199.8 L497 199.8 L498.6 200 L500.1 199.8 L501.6 199.7 L503.2 199.9 L504.7 199.7 L506.2 199.6 L507.7 199.9 L509.3 199.9 L510.8 199.8 L512.3 199.5 L513.9 199.7 L515.4 199.7 L516.9 199.6 L518.5 199.6 L520 199.5 L521.5 199.7 L523 199.9 L524.6 200 L526.1 200 L527.6 199.7 L529.2 199.7 L530.7 199.9 L532.2 199.6 L533.8 199.6 L535.3 199.5 L536.8 199.4 L538.3 199.4 L539.9 199.6 L541.4 199.4 L542.9 199.7 L544.5 199.7 L546 199.5 L547.5 199.4 L549.1 199.6 L550.6 199.6 L552.1 199.6 L553.6 199.5 L555.2 199.5 L556.7 199.6 L558.2 199.4 L559.8 199.6 L561.3 199.8 L562.8 199.8 L564.4 199.6 L565.9 199.7 L567.4 199.5 L569 199.4 L570.5 199.3 L572 199.5 L573.5 199.4 L575.1 199.4 L576.6 199.4 L578.1 199.7 L579.7 199.5 L581.2 199.7 L582.7 199.9 L584.3 199.8 L585.8 199.8 L587.3 199.7 L588.8 199.8 L590.4 199.9 L591.9 199.6 L593.4 199.7 L595 199.5 L596.5 199.6 L598 199.5 L599.6 199.6 L601.1 199.7 L602.6 199.8 L604.1 199.7 L605.7 199.5 L607.2 199.6 L608.7 199.8 L610.3 199.8 L611.8 199.8 L613.3 199.9 L614.9 199.9 L616.4 200 L617.9 200.1 L619.4 200 L621 200 L622.5 199.7 L624 199.6 L625.6 199.7 L627.1 199.8 L628.6 199.9 L630.2 200 L631.7 199.8 L633.2 199.6 L634.8 199.7 L636.3 199.5 L637.8 199.6 L639.3 199.5 L640.9 199.6 L642.4 199.7 L643.9 199.8 L645.5 199.8 L647 199.5 L648.5 199.8 L650.1 199.9 L651.6 200 L653.1 199.9 L654.6 199.9 L656.2 200 L657.7 200 L659.2 199.9 L660.8 199.6 L662.3 199.4 L663.8 199.6 L665.4 199.8 L666.9 199.7 L668.4 199.6 L669.9 199.6 L671.5 199.8 L673 199.9 L674.5 199.6 L676.1 199.5 L677.6 199.4 L679.1 199.7 L680.7 199.6 L682.2 199.8 L683.7 199.7 L685.3 199.6 L686.8 199.6 L688.3 199.5 L689.8 199.8 L691.4 199.5 L692.9 199.5 L694.4 199.6 L696 199.4 L697.5 199.4 L699 199.8 L700.6 199.9 L702.1 199.8 L703.6 199.9 L705.1 200 L706.7 200.1 L708.2 200 L709.7 199.9 L711.3 199.8 L712.8 199.9 L714.3 199.8 L715.9 200 L717.4 199.7 L718.9 199.9 L720.4 199.9 L722 199.8 L723.5 199.9 L725 199.7 L726.6 199.7 L728.1 199.7 L729.6 199.9 L731.2 199.7 L732.7 199.9 L734.2 199.9 L735.7 200 L737.3 199.8 L738.8 199.8 L740.3 200 L741.9 200 L742.8 200" fill="none" stroke="#E76BF3" stroke-width="1.05"/>
<path d="M437.4 222.5 L437.5 207.1 L437.6 181.9 L437.8 156.2 L438 136.8 L438.3 124.5 L438.8 117.3 L439.3 112.4 L440 110.7 L440.7 109.7 L441.5 110.2 L442.3 109.2 L443.1 109.6 L443.9 108.8 L444.7 108.5 L445.5 109.3 L446.3 108.4 L447.1 108.6 L447.9 108.2 L448.7 108.6 L449.5 107.9 L450.3 108.3 L451.1 107.9 L451.9 108.6 L452.7 108.2 L453.4 108.3 L454.2 107.7 L455 108.3 L455.7 108.3 L457.2 108.5 L458.8 108.4 L460.3 107.7 L461.8 108 L463.4 107.7 L464.9 107.5 L466.4 107.9 L468 107.9 L469.5 107.6 L471 107.3 L472.5 107.5 L474.1 107.2 L475.6 107.2 L477.1 107 L478.7 107 L480.2 107.4 L481.7 107.3 L483.3 107.7 L484.8 107.4 L486.3 107.6 L487.8 107.7 L489.4 107.6 L490.9 107.6 L492.4 107.3 L494 107.5 L495.5 107.7 L497 107.6 L498.6 107.3 L500.1 107.1 L501.6 107.1 L503.2 107.4 L504.7 107.3 L506.2 107.2 L507.7 107.2 L509.3 107 L510.8 107.3 L512.3 107.4 L513.9 107.3 L515.4 107 L516.9 107.3 L518.5 107.5 L520 107.5 L521.5 107.2 L523 107.5 L524.6 107.4 L526.1 107.1 L527.6 107.4 L529.2 107.4 L530.7 107.2 L532.2 107.4 L533.8 107.4 L535.3 107.4 L536.8 107 L538.3 107 L539.9 107.2 L541.4 107 L542.9 106.9 L544.5 106.8 L546 107 L547.5 106.9 L549.1 107.2 L550.6 107.1 L552.1 107.3 L553.6 107.4 L555.2 107.6 L556.7 107.2 L558.2 107.1 L559.8 107.3 L561.3 107.1 L562.8 107.4 L564.4 107.2 L565.9 107.2 L567.4 107.1 L569 107.2 L570.5 107.1 L572 107.1 L573.5 107.2 L575.1 107.3 L576.6 107.1 L578.1 106.9 L579.7 106.9 L581.2 107.1 L582.7 107.2 L584.3 107.3 L585.8 107.4 L587.3 107.1 L588.8 107.1 L590.4 106.9 L591.9 106.9 L593.4 107 L595 106.9 L596.5 107.2 L598 107 L599.6 107 L601.1 107.1 L602.6 107 L604.1 107.1 L605.7 107.1 L607.2 106.8 L608.7 106.8 L610.3 107 L611.8 107.2 L613.3 107.2 L614.9 107.3 L616.4 107.3 L617.9 107.3 L619.4 107.4 L621 107.3 L622.5 107.2 L624 107 L625.6 106.9 L627.1 106.8 L628.6 106.7 L630.2 106.8 L631.7 106.8 L633.2 107 L634.8 107.2 L636.3 107 L637.8 107.2 L639.3 107.3 L640.9 107 L642.4 107.1 L643.9 106.9 L645.5 106.8 L647 106.8 L648.5 106.7 L650.1 106.6 L651.6 106.6 L653.1 106.9 L654.6 107.2 L656.2 107.3 L657.7 107 L659.2 106.8 L660.8 107.1 L662.3 107 L663.8 106.9 L665.4 107.1 L666.9 107.1 L668.4 107 L669.9 106.8 L671.5 106.7 L673 107 L674.5 107.2 L676.1 106.9 L677.6 106.8 L679.1 106.9 L680.7 106.9 L682.2 106.9 L683.7 107 L685.3 106.9 L686.8 106.8 L688.3 106.8 L689.8 107.1 L691.4 106.9 L692.9 107 L694.4 107.1 L696 107.1 L697.5 107 L699 107.2 L700.6 107.3 L702.1 107.4 L703.6 107.1 L705.1 107.1 L706.7 107 L708.2 107.2 L709.7 107.2 L711.3 107.1 L712.8 107.1 L714.3 107.2 L715.9 107.1 L717.4 106.9 L718.9 106.8 L720.4 106.7 L722 106.7 L723.5 107.1 L725 107.1 L726.6 107.2 L728.1 107.1 L729.6 107.1 L731.2 106.9 L732.7 107.1 L734.2 107 L735.7 107 L737.3 107.1 L738.8 107.2 L740.3 107.4 L741.9 107.2 L742.8 107.1" fill="none" stroke="#F564E3" stroke-width="1.05"/>
<path d="M437.4 223.6 L437.5 208.7 L437.6 184.4 L437.8 161.1 L438 142.5 L438.3 129.9 L438.8 123.6 L439.3 120.2 L440 119.3 L440.7 118.3 L441.5 117.3 L442.3 117.9 L443.1 118.1 L443.9 118 L444.7 117.8 L445.5 117 L446.3 117 L447.1 117.4 L447.9 117.5 L448.7 117.3 L449.5 117.2 L450.3 116.5 L451.1 116 L451.9 116.7 L452.7 116.1 L453.4 116 L454.2 116.1 L455 116.5 L455.7 116.7 L457.2 116.9 L458.8 117 L460.3 116.5 L461.8 116.2 L463.4 115.9 L464.9 115.9 L466.4 115.7 L468 116.2 L469.5 116.2 L471 116.2 L472.5 115.8 L474.1 116.2 L475.6 116 L477.1 116.2 L478.7 115.9 L480.2 115.8 L481.7 115.7 L483.3 115.8 L484.8 115.8 L486.3 115.9 L487.8 116.1 L489.4 115.8 L490.9 115.7 L492.4 115.8 L494 115.8 L495.5 115.8 L497 115.8 L498.6 115.6 L500.1 115.5 L501.6 115.8 L503.2 115.9 L504.7 116 L506.2 116 L507.7 115.9 L509.3 115.7 L510.8 116 L512.3 116 L513.9 115.9 L515.4 115.7 L516.9 115.7 L518.5 116 L520 115.9 L521.5 116 L523 115.7 L524.6 115.8 L526.1 115.7 L527.6 115.6 L529.2 115.6 L530.7 115.6 L532.2 115.8 L533.8 115.7 L535.3 115.9 L536.8 115.7 L538.3 115.9 L539.9 115.8 L541.4 115.9 L542.9 115.8 L544.5 115.7 L546 115.9 L547.5 115.9 L549.1 115.9 L550.6 115.9 L552.1 115.9 L553.6 116.1 L555.2 116 L556.7 116.1 L558.2 115.9 L559.8 115.7 L561.3 115.9 L562.8 116 L564.4 116.1 L565.9 115.9 L567.4 115.8 L569 116 L570.5 115.7 L572 115.5 L573.5 115.5 L575.1 115.5 L576.6 115.5 L578.1 115.6 L579.7 115.6 L581.2 115.4 L582.7 115.5 L584.3 115.6 L585.8 115.4 L587.3 115.5 L588.8 115.8 L590.4 115.8 L591.9 116 L593.4 116 L595 115.9 L596.5 115.6 L598 115.4 L599.6 115.6 L601.1 115.8 L602.6 115.7 L604.1 115.5 L605.7 115.7 L607.2 115.7 L608.7 115.7 L610.3 115.5 L611.8 115.6 L613.3 115.7 L614.9 115.8 L616.4 115.9 L617.9 115.6 L619.4 115.8 L621 115.6 L622.5 115.6 L624 115.6 L625.6 115.8 L627.1 115.7 L628.6 115.5 L630.2 115.5 L631.7 115.4 L633.2 115.3 L634.8 115.2 L636.3 115.4 L637.8 115.5 L639.3 115.3 L640.9 115.3 L642.4 115.6 L643.9 115.7 L645.5 115.9 L647 115.8 L648.5 116 L650.1 115.9 L651.6 115.7 L653.1 115.5 L654.6 115.4 L656.2 115.6 L657.7 115.7 L659.2 115.6 L660.8 115.4 L662.3 115.6 L663.8 115.8 L665.4 115.6 L666.9 115.9 L668.4 115.8 L669.9 115.6 L671.5 115.4 L673 115.6 L674.5 115.8 L676.1 115.6 L677.6 115.5 L679.1 115.4 L680.7 115.3 L682.2 115.3 L683.7 115.4 L685.3 115.4 L686.8 115.6 L688.3 115.5 L689.8 115.4 L691.4 115.5 L692.9 115.4 L694.4 115.3 L696 115.2 L697.5 115.1 L699 115.4 L700.6 115.3 L702.1 115.4 L703.6 115.7 L705.1 115.7 L706.7 115.6 L708.2 115.5 L709.7 115.5 L711.3 115.5 L712.8 115.3 L714.3 115.3 L715.9 115.2 L717.4 115.3 L718.9 115.3 L720.4 115.3 L722 115.5 L723.5 115.4 L725 115.5 L726.6 115.6 L728.1 115.6 L729.6 115.7 L731.2 115.8 L732.7 115.7 L734.2 115.5 L735.7 115.3 L737.3 115.5 L738.8 115.5 L740.3 115.4 L741.9 115.3 L742.8 115.3" fill="none" stroke="#F564E3" stroke-width="1.05"/>
<path d="M437.4 228.5 L437.5 218 L437.6 201.4 L437.8 184.7 L438 170.7 L438.3 161.7 L438.8 157.9 L439.3 155.3 L440 154.9 L440.7 155.3 L441.5 154.7 L442.3 154.3 L443.1 154.9 L443.9 155 L444.7 155.1 L445.5 154.9 L446.3 154 L447.1 153.3 L447.9 152.8 L448.7 153.8 L449.5 153.8 L450.3 154.2 L451.1 154.5 L451.9 153.8 L452.7 154.3 L453.4 153.7 L454.2 153.3 L455 153.2 L455.7 153.9 L457.2 154.2 L458.8 153.7 L460.3 153.6 L461.8 153.8 L463.4 153.9 L464.9 154.1 L466.4 153.7 L468 153.4 L469.5 153.4 L471 153.7 L472.5 153.7 L474.1 153.8 L475.6 153.4 L477.1 153.4 L478.7 153.7 L480.2 153.6 L481.7 153.7 L483.3 153.7 L484.8 153.5 L486.3 153.6 L487.8 153.6 L489.4 153.4 L490.9 153.4 L492.4 153.6 L494 153.7 L495.5 153.8 L497 153.5 L498.6 153.5 L500.1 153.5 L501.6 153.6 L503.2 153.3 L504.7 153.3 L506.2 153.2 L507.7 153.4 L509.3 153.5 L510.8 153.1 L512.3 153 L513.9 153 L515.4 153.2 L516.9 153.4 L518.5 153.3 L520 153.1 L521.5 153.2 L523 153.3 L524.6 153.3 L526.1 153.2 L527.6 153.1 L529.2 153.1 L530.7 153.3 L532.2 153.2 L533.8 153.4 L535.3 153.4 L536.8 153.2 L538.3 153.1 L539.9 153.3 L541.4 153.5 L542.9 153.6 L544.5 153.3 L546 153.1 L547.5 153 L549.1 153 L550.6 153 L552.1 153.3 L553.6 153.5 L555.2 153.4 L556.7 153.2 L558.2 153.1 L559.8 153 L561.3 153 L562.8 153.2 L564.4 153.2 L565.9 153.1 L567.4 153 L569 153.3 L570.5 153.4 L572 153.4 L573.5 153.2 L575.1 153.1 L576.6 153.3 L578.1 153 L579.7 153.2 L581.2 153.5 L582.7 153.4 L584.3 153.1 L585.8 152.9 L587.3 153.2 L588.8 153.1 L590.4 153.1 L591.9 153.2 L593.4 153.3 L595 153.2 L596.5 153.3 L598 153.5 L599.6 153.4 L601.1 153.2 L602.6 153.3 L604.1 153.5 L605.7 153.5 L607.2 153.6 L608.7 153.6 L610.3 153.6 L611.8 153.3 L613.3 153.4 L614.9 153.2 L616.4 153 L617.9 153 L619.4 153.3 L621 153.2 L622.5 153.1 L624 153.4 L625.6 153.5 L627.1 153.5 L628.6 153.3 L630.2 153.4 L631.7 153.1 L633.2 152.9 L634.8 152.8 L636.3 152.9 L637.8 152.9 L639.3 153.2 L640.9 153.2 L642.4 153.4 L643.9 153.3 L645.5 153.2 L647 153.1 L648.5 152.9 L650.1 153 L651.6 153.3 L653.1 153.5 L654.6 153.6 L656.2 153.2 L657.7 153.2 L659.2 153.4 L660.8 153.1 L662.3 153 L663.8 152.9 L665.4 152.8 L666.9 153.1 L668.4 153.3 L669.9 153.5 L671.5 153.1 L673 153.3 L674.5 153.4 L676.1 153.2 L677.6 153 L679.1 153.3 L680.7 153.4 L682.2 153.1 L683.7 153 L685.3 153.2 L686.8 153 L688.3 153.1 L689.8 153 L691.4 152.9 L692.9 153 L694.4 153.1 L696 153.3 L697.5 153 L699 153 L700.6 152.9 L702.1 153.1 L703.6 153 L705.1 153 L706.7 153.3 L708.2 153.3 L709.7 153.4 L711.3 153.3 L712.8 153.1 L714.3 153.3 L715.9 153.5 L717.4 153.1 L718.9 153.3 L720.4 153.2 L722 153.1 L723.5 153.2 L725 153.4 L726.6 153.1 L728.1 153 L729.6 153.1 L731.2 153 L732.7 153.1 L734.2 153.4 L735.7 153.1 L737.3 153.1 L738.8 153 L740.3 152.9 L741.9 153.1 L742.8 153.4" fill="none" stroke="#F564E3" stroke-width="1.05"/>
<path d="M437.4 215.9 L437.5 194.4 L437.6 161.1 L437.8 128.1 L438 101.4 L438.3 80.6 L438.8 67.8 L439.3 63 L440 60.1 L440.7 59.1 L441.5 57 L442.3 56.7 L443.1 55.3 L443.9 54.5 L444.7 53.9 L445.5 53.8 L446.3 53.7 L447.1 54 L447.9 54.4 L448.7 53.9 L449.5 53.7 L450.3 53.4 L451.1 53.1 L451.9 52.8 L452.7 52.2 L453.4 52.2 L454.2 52.7 L455 53 L455.7 53 L457.2 52.6 L458.8 52.4 L460.3 52 L461.8 51.8 L463.4 52.3 L464.9 52.2 L466.4 52 L468 51.9 L469.5 51.9 L471 51.6 L472.5 51.6 L474.1 51.6 L475.6 51.8 L477.1 52 L478.7 51.6 L480.2 51.5 L481.7 51.3 L483.3 51.6 L484.8 51.3 L486.3 51.3 L487.8 51 L489.4 51.1 L490.9 51.2 L492.4 50.9 L494 50.9 L495.5 51 L497 51.1 L498.6 51 L500.1 50.8 L501.6 50.9 L503.2 50.9 L504.7 50.8 L506.2 51 L507.7 50.9 L509.3 51 L510.8 51.1 L512.3 50.8 L513.9 50.9 L515.4 51 L516.9 51.2 L518.5 51.2 L520 51.3 L521.5 51.2 L523 50.9 L524.6 51.1 L526.1 51.2 L527.6 51 L529.2 51.2 L530.7 50.8 L532.2 51.1 L533.8 50.9 L535.3 50.9 L536.8 51 L538.3 50.8 L539.9 50.8 L541.4 50.6 L542.9 50.4 L544.5 50.8 L546 50.7 L547.5 50.7 L549.1 50.5 L550.6 50.9 L552.1 50.8 L553.6 51 L555.2 50.8 L556.7 50.7 L558.2 50.6 L559.8 50.7 L561.3 50.8 L562.8 50.8 L564.4 50.8 L565.9 50.7 L567.4 50.9 L569 50.6 L570.5 50.5 L572 50.7 L573.5 50.9 L575.1 51 L576.6 50.7 L578.1 50.9 L579.7 50.8 L581.2 50.8 L582.7 50.8 L584.3 50.8 L585.8 50.9 L587.3 51 L588.8 50.7 L590.4 50.9 L591.9 50.7 L593.4 50.8 L595 50.5 L596.5 50.6 L598 50.5 L599.6 50.8 L601.1 50.8 L602.6 50.7 L604.1 50.9 L605.7 50.6 L607.2 50.7 L608.7 50.7 L610.3 50.4 L611.8 50.5 L613.3 50.3 L614.9 50.7 L616.4 50.4 L617.9 50.6 L619.4 50.6 L621 50.4 L622.5 50.7 L624 50.7 L625.6 50.7 L627.1 50.5 L628.6 50.4 L630.2 50.4 L631.7 50.2 L633.2 50.2 L634.8 50.4 L636.3 50.4 L637.8 50.6 L639.3 50.4 L640.9 50.3 L642.4 50.4 L643.9 50.6 L645.5 50.4 L647 50.3 L648.5 50.2 L650.1 50.3 L651.6 50.3 L653.1 50.6 L654.6 50.4 L656.2 50.4 L657.7 50.5 L659.2 50.4 L660.8 50.2 L662.3 50.6 L663.8 50.7 L665.4 50.5 L666.9 50.4 L668.4 50.4 L669.9 50.3 L671.5 50.5 L673 50.7 L674.5 50.7 L676.1 50.5 L677.6 50.7 L679.1 50.8 L680.7 50.5 L682.2 50.6 L683.7 50.4 L685.3 50.6 L686.8 50.7 L688.3 50.6 L689.8 50.6 L691.4 50.4 L692.9 50.2 L694.4 50.3 L696 50.2 L697.5 50.3 L699 50.5 L700.6 50.5 L702.1 50.4 L703.6 50.3 L705.1 50.4 L706.7 50.4 L708.2 50.6 L709.7 50.4 L711.3 50.4 L712.8 50.4 L714.3 50.3 L715.9 50.2 L717.4 50.3 L718.9 50.4 L720.4 50.2 L722 50.2 L723.5 50.3 L725 50.6 L726.6 50.5 L728.1 50.4 L729.6 50.2 L731.2 50.3 L732.7 50.3 L734.2 50.1 L735.7 50.2 L737.3 50.4 L738.8 50.3 L740.3 50.5 L741.9 50.5 L742.8 50.2" fill="none" stroke="#FF61C3" stroke-width="1.05"/>
<path d="M437.4 234.9 L437.5 229 L437.6 220.8 L437.8 212.4 L438 205.3 L438.3 201.3 L438.8 199.8 L439.3 198.7 L440 198.6 L440.7 198.1 L441.5 198.5 L442.3 198.4 L443.1 197.6 L443.9 198.4 L444.7 198.9 L445.5 199.4 L446.3 199.6 L447.1 199.3 L447.9 198.9 L448.7 198.4 L449.5 198.6 L450.3 198.4 L451.1 198.2 L451.9 197.8 L452.7 198.2 L453.4 198.5 L454.2 198.7 L455 198.2 L455.7 198 L457.2 198.3 L458.8 198 L460.3 198.5 L461.8 198.8 L463.4 198.7 L464.9 198.4 L466.4 198.4 L468 198.6 L469.5 198.4 L471 198.5 L472.5 198.5 L474.1 198.7 L475.6 198.7 L477.1 198.7 L478.7 198.5 L480.2 198.7 L481.7 198.6 L483.3 198.6 L484.8 198.4 L486.3 198.1 L487.8 198.2 L489.4 198.1 L490.9 198.5 L492.4 198.3 L494 198.5 L495.5 198.3 L497 198.2 L498.6 198.3 L500.1 198.2 L501.6 198.5 L503.2 198.5 L504.7 198.2 L506.2 198.2 L507.7 198 L509.3 198.2 L510.8 198.2 L512.3 198.2 L513.9 198.3 L515.4 198.3 L516.9 198.5 L518.5 198.5 L520 198.3 L521.5 198.5 L523 198.2 L524.6 198.1 L526.1 198 L527.6 198.3 L529.2 198.4 L530.7 198.5 L532.2 198.7 L533.8 198.3 L535.3 198.5 L536.8 198.2 L538.3 198.3 L539.9 198.5 L541.4 198.3 L542.9 198.5 L544.5 198.6 L546 198.5 L547.5 198.3 L549.1 198.1 L550.6 198 L552.1 198.2 L553.6 198.2 L555.2 198.1 L556.7 198.2 L558.2 198 L559.8 198.1 L561.3 198.3 L562.8 198.1 L564.4 198.2 L565.9 198.1 L567.4 198.4 L569 198.2 L570.5 198.5 L572 198.6 L573.5 198.7 L575.1 198.4 L576.6 198.5 L578.1 198.2 L579.7 198.5 L581.2 198.5 L582.7 198.2 L584.3 198.1 L585.8 198 L587.3 198 L588.8 198.4 L590.4 198.5 L591.9 198.3 L593.4 198.5 L595 198.2 L596.5 198.2 L598 198.2 L599.6 198 L601.1 198.4 L602.6 198.4 L604.1 198.6 L605.7 198.5 L607.2 198.5 L608.7 198.2 L610.3 198.3 L611.8 198.5 L613.3 198.4 L614.9 198.4 L616.4 198.4 L617.9 198.3 L619.4 198 L621 198 L622.5 198 L624 197.9 L625.6 197.9 L627.1 198.2 L628.6 198.5 L630.2 198.5 L631.7 198.6 L633.2 198.3 L634.8 198.5 L636.3 198.3 L637.8 198.5 L639.3 198.3 L640.9 198.2 L642.4 198.3 L643.9 198.1 L645.5 198.1 L647 198.3 L648.5 198.4 L650.1 198.6 L651.6 198.6 L653.1 198.4 L654.6 198.3 L656.2 198.4 L657.7 198.4 L659.2 198.6 L660.8 198.5 L662.3 198.6 L663.8 198.5 L665.4 198.4 L666.9 198.1 L668.4 198.1 L669.9 198.2 L671.5 198 L673 198.1 L674.5 198 L676.1 198 L677.6 198.3 L679.1 198.5 L680.7 198.2 L682.2 198.3 L683.7 198.3 L685.3 198.1 L686.8 198.1 L688.3 198.2 L689.8 198.2 L691.4 198.3 L692.9 198.1 L694.4 198.2 L696 198.3 L697.5 198.2 L699 198.3 L700.6 198.5 L702.1 198.6 L703.6 198.5 L705.1 198.4 L706.7 198.5 L708.2 198.4 L709.7 198.5 L711.3 198.3 L712.8 198.3 L714.3 198.4 L715.9 198.4 L717.4 198.4 L718.9 198.3 L720.4 198.2 L722 198.3 L723.5 198.3 L725 198.3 L726.6 198.2 L728.1 198.2 L729.6 198.3 L731.2 198.5 L732.7 198.2 L734.2 198.3 L735.7 198.3 L737.3 198.4 L738.8 198.4 L740.3 198.3 L741.9 198.1 L742.8 198.1" fill="none" stroke="#FF61C3" stroke-width="1.05"/>
<path d="M437.4 238.2 L437.5 235.7 L437.6 232.1 L437.8 227.7 L438 224.4 L438.3 221.8 L438.8 221.3 L439.3 219.9 L440 220.7 L440.7 220.4 L441.5 220.2 L442.3 220.5 L443.1 220.4 L443.9 221 L444.7 220.1 L445.5 219.5 L446.3 219.9 L447.1 219.6 L447.9 219.5 L448.7 220.4 L449.5 220.3 L450.3 220 L451.1 219.9 L451.9 219.7 L452.7 219.6 L453.4 219.4 L454.2 220.3 L455 220.4 L455.7 220.1 L457.2 219.7 L458.8 220.4 L460.3 220.6 L461.8 220 L463.4 220.4 L464.9 220.3 L466.4 220.6 L468 220.3 L469.5 220.2 L471 219.8 L472.5 220 L474.1 219.9 L475.6 220.2 L477.1 220 L478.7 220.3 L480.2 220.1 L481.7 220.3 L483.3 220.3 L484.8 220.5 L486.3 220.4 L487.8 220.2 L489.4 220 L490.9 219.9 L492.4 219.8 L494 219.8 L495.5 219.8 L497 220.1 L498.6 219.8 L500.1 220 L501.6 220 L503.2 219.9 L504.7 220.1 L506.2 219.9 L507.7 220.1 L509.3 219.9 L510.8 220.2 L512.3 220.1 L513.9 219.9 L515.4 219.8 L516.9 219.8 L518.5 219.7 L520 219.8 L521.5 220.2 L523 220.1 L524.6 220 L526.1 220.2 L527.6 219.9 L529.2 219.8 L530.7 220.1 L532.2 220 L533.8 219.9 L535.3 219.8 L536.8 220.1 L538.3 220.3 L539.9 220.2 L541.4 220.3 L542.9 220.2 L544.5 220 L546 219.9 L547.5 219.9 L549.1 219.9 L550.6 220.1 L552.1 219.9 L553.6 219.9 L555.2 220.1 L556.7 219.9 L558.2 220.2 L559.8 220.2 L561.3 220.2 L562.8 220 L564.4 219.9 L565.9 220.2 L567.4 220.4 L569 220 L570.5 220.2 L572 220 L573.5 219.8 L575.1 220 L576.6 219.8 L578.1 220.1 L579.7 220.3 L581.2 220.1 L582.7 219.9 L584.3 220 L585.8 220.2 L587.3 219.9 L588.8 220.1 L590.4 219.9 L591.9 219.9 L593.4 219.8 L595 219.7 L596.5 219.9 L598 219.9 L599.6 220.2 L601.1 220.4 L602.6 220.4 L604.1 220.2 L605.7 220.3 L607.2 220.1 L608.7 220.1 L610.3 220.1 L611.8 220.1 L613.3 220.1 L614.9 220.3 L616.4 220.4 L617.9 220.4 L619.4 220.4 L621 220.2 L622.5 219.9 L624 219.9 L625.6 220 L627.1 220.2 L628.6 220.3 L630.2 220.4 L631.7 220.4 L633.2 220.2 L634.8 219.9 L636.3 220 L637.8 220 L639.3 220.2 L640.9 220.4 L642.4 220.3 L643.9 220.3 L645.5 220.3 L647 220.2 L648.5 220.1 L650.1 220.4 L651.6 220.4 L653.1 220.3 L654.6 220.5 L656.2 220.1 L657.7 220.2 L659.2 220.2 L660.8 220.1 L662.3 219.9 L663.8 220 L665.4 220.2 L666.9 220 L668.4 220.3 L669.9 220.4 L671.5 220.1 L673 220.1 L674.5 220.1 L676.1 220 L677.6 219.9 L679.1 219.9 L680.7 220.2 L682.2 220.3 L683.7 220.4 L685.3 220.3 L686.8 220.2 L688.3 219.9 L689.8 220 L691.4 220.1 L692.9 220.3 L694.4 220 L696 220.1 L697.5 219.9 L699 220.2 L700.6 220 L702.1 220.2 L703.6 220.2 L705.1 220 L706.7 220 L708.2 220 L709.7 219.9 L711.3 219.9 L712.8 219.8 L714.3 220 L715.9 220.3 L717.4 220.2 L718.9 220.1 L720.4 220.1 L722 219.9 L723.5 220.1 L725 220.2 L726.6 220 L728.1 220 L729.6 219.8 L731.2 220.1 L732.7 219.8 L734.2 220.1 L735.7 219.9 L737.3 220.2 L738.8 220 L740.3 220 L741.9 220.2 L742.8 220.4" fill="none" stroke="#FF61C3" stroke-width="1.05"/>
<rect x="422.5" y="19.5" width="335" height="224" fill="none" stroke="#333" stroke-width="1"/>
<line x1="420.3" y1="241.4" x2="422.2" y2="241.4" stroke="#333" stroke-width="1"/>
<text x="419.4" y="243.9" font-size="10" text-anchor="end" fill="#222">0</text>
<line x1="420.3" y1="204" x2="422.2" y2="204" stroke="#333" stroke-width="1"/>
<text x="419.4" y="206.5" font-size="10" text-anchor="end" fill="#222">1</text>
<line x1="420.3" y1="166.6" x2="422.2" y2="166.6" stroke="#333" stroke-width="1"/>
<text x="419.4" y="169.1" font-size="10" text-anchor="end" fill="#222">2</text>
<line x1="420.3" y1="129.2" x2="422.2" y2="129.2" stroke="#333" stroke-width="1"/>
<text x="419.4" y="131.7" font-size="10" text-anchor="end" fill="#222">3</text>
<line x1="420.3" y1="91.8" x2="422.2" y2="91.8" stroke="#333" stroke-width="1"/>
<text x="419.4" y="94.3" font-size="10" text-anchor="end" fill="#222">4</text>
<line x1="420.3" y1="54.4" x2="422.2" y2="54.4" stroke="#333" stroke-width="1"/>
<text x="419.4" y="56.9" font-size="10" text-anchor="end" fill="#222">5</text>
<line x1="437.4" y1="243.1" x2="437.4" y2="245" stroke="#333" stroke-width="1"/>
<text x="434.8" y="253.5" font-size="10" text-anchor="middle" fill="#222">0</text>
<line x1="498.6" y1="243.1" x2="498.6" y2="245" stroke="#333" stroke-width="1"/>
<text x="500.9" y="253.5" font-size="10" text-anchor="middle" fill="#222">10000</text>
<line x1="559.8" y1="243.1" x2="559.8" y2="245" stroke="#333" stroke-width="1"/>
<text x="561.9" y="253.5" font-size="10" text-anchor="middle" fill="#222">20000</text>
<line x1="621" y1="243.1" x2="621" y2="245" stroke="#333" stroke-width="1"/>
<text x="623.2" y="253.5" font-size="10" text-anchor="middle" fill="#222">30000</text>
<line x1="682.2" y1="243.1" x2="682.2" y2="245" stroke="#333" stroke-width="1"/>
<text x="684.4" y="253.5" font-size="10" text-anchor="middle" fill="#222">40000</text>
<line x1="743.4" y1="243.1" x2="743.4" y2="245" stroke="#333" stroke-width="1"/>
<text x="745.8" y="253.5" font-size="10" text-anchor="middle" fill="#222">50000</text>
<text x="576.45" y="269.4" font-size="11.4" text-anchor="middle" fill="#000">Sequences per sample</text>
<text transform="translate(406.5 116.25) rotate(-90)" font-size="11.5" text-anchor="middle" fill="#000">Shannon index</text>
</svg></body></html>
